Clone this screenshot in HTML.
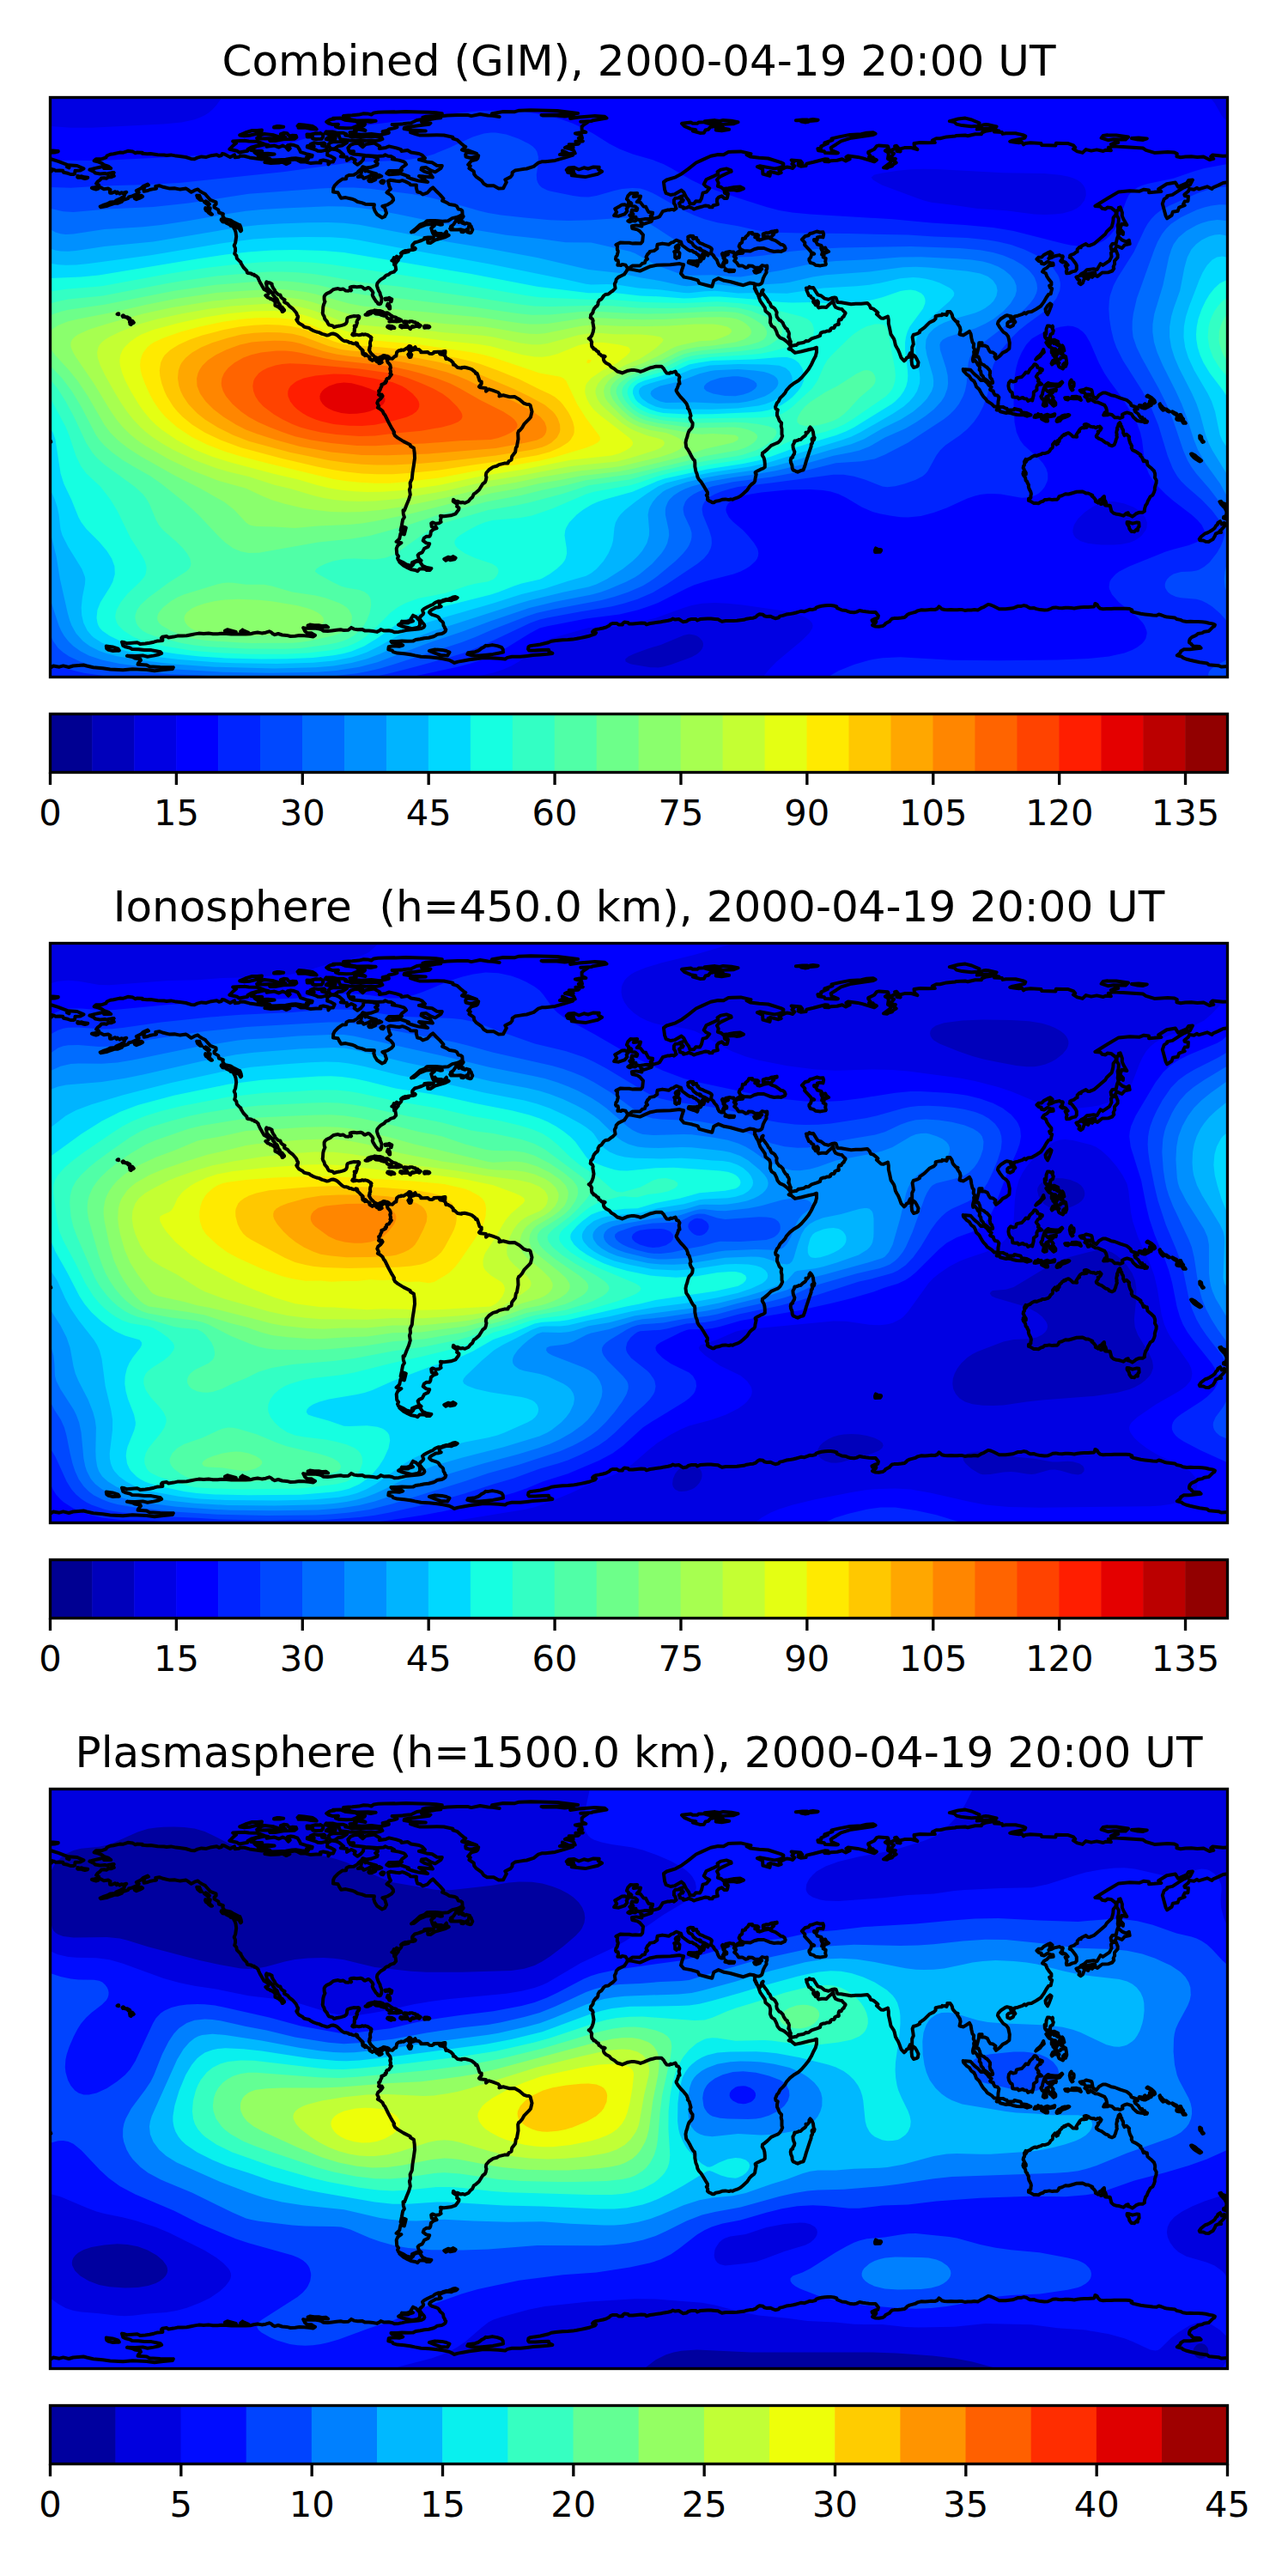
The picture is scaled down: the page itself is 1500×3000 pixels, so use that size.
<!DOCTYPE html>
<html lang="en"><head><meta charset="utf-8"><title>GIM maps</title>
<style>
html,body{margin:0;padding:0;background:#fff}
body{width:1500px;height:3000px;overflow:hidden}
svg{display:block}
text{font-family:"DejaVu Sans","Liberation Sans",sans-serif;fill:#000}
.tt{font-size:50px;text-anchor:middle}
.tk{font-size:41.67px;text-anchor:middle}
.cl{fill:none;stroke:#000;stroke-width:4;stroke-linejoin:round;stroke-linecap:round}
</style></head><body>
<svg width="1500" height="3000" viewBox="0 0 1500 3000">
<defs><path id="coast" d="M672.4 199.4l14.3 2.7 12.3-5.4 7.7-1.5 15.5-0.4 10.8-1.2 4.6 1.2-1.9 5.8-1.2 4.6 3.5 3.9 8.1 1.5 8.1 2.3 1.6 3.5 8.9 2.3 6.1 1.5 2-6.9 5.4-2.7 6.6 2.7 6.9 1.2 9.7 2.7 5.8 1.5 7.7-2.7 5 0.8 0.8 5 3.8 8.5 2.3 6.5 5.5 8.1 0.7 3.9 4.7 3.8 1.1 3.9-0.4 5.4 1.6 3.9 3.5 2.3 2.3 4.6 1.1 3.5 2.7 3.4 4.7 2 4.2 3.4 3.1 3.5 0.8 3.1-2.3 1.2 3.1 1.1 4.2 3.5 7.7-1.6 8.9-2.3 5.4-1.1 3.1-1.2 0 5.4-1.2 4.6-2.7 5.1-2.3 5-3.5 5.8-3.4 4.2-4.3 5-3.8 3.5-5.8 3.5-3.9 3-4.2 4.7-1.6 3.1-2.7 3-3.1 3.1-1.9 3.9-1.6 1.5-1.9 4.7 0.4 2.3 2.3 1.1-0.8 3.5 0 3.1 1.2 2.3 1.5 3.9 2.4 2.7-0.4 3.8 0.8 3.1 0 6.2 0.7 1.9-1.1 2.7-1.6 2.7-2.3 2.3-3.9 1.6-4.2 1.9-4.3 4.2-4.2 3.5-1.5 0.8-0.4 2.7 1.9 3.1 0.8 3 0.4 3.9 0 3.9-2 1.5-3.1 1.2-4.6 2.3-1.5 1.1 0.3 1.6 0.8 0.4-0.4 1.9-0.7 3.1-0.4 3.1-1.2 1.9-2.7 1.9-2.3 2.3-1.2 2-1.9 2.7-4.6 4.2-2.7 2.3-2.7 1.6-4.3 1.5-2.3 1.2-2.3-0.4-2 0.7-4.2-0.7-3.9 0.4-4.2 1.5-3.1 0.4-2.3 1.5-2 0-1.5-1.1-1.2-0.4-1.9-1.2-0.8-0.7 0.4-2.4-1.5-2.7 1.1-0.7 0-2.7-2.3-3.9-1.9-3.1-3.1-5-2.7-3.1-1.5-2.7-0.8-3.8-1.2-2.7-1.1-5.8 0-4.6-0.4-2.4-1.6-1.5-1.9-3.1-2.3-4.6-2.3-3.9-1.6-2.3-0.4-3.1-0.3-2.3 0.7-3.5 1.2-3.4 0.4-2 1.1-3.4 0.8-1.6 2.3-2.3 1.2-1.9 0.4-2.7 0-2.3-1.2-1.2-1.2-2.3-0.7-2.3 1.1-2.3-1.1-3.9-0.8-2.7-1.9-2.3 0.4-0.8-0.4-1.1-1.2-3.1-3.1-3.9-3.8-3.9-2.7-3.4-2.4-3.9 0-1.1 0.8-1.2 1.2-3.1 0.7-2.7 1.2-0.3-0.8-4.7 0.8-3.1-1.5-2.3-2-0.7-0.7-2-0.8-1.5-3.9 1.5-1.5-0.4-1.6 1.2-3.1-0.4-1.9-2.3-1.5-2.7-2.7-2.7-2.7 0-3.5 0-3.1 0.8-3.1 0.7-6.2 2.4-2.3 1.1-3.5 1.2-3.4-1.2-4.3-0.8-2.3 0-4.6 0.8-6.6 2.7-0.8-0.4-5-1.5-3.5-3.1-3.5-1.9-2.3-2.7-3.8-2-2-1.9-0.7-1.5-0.4-2.7 1.9-1.6-1.9-0.7-2 0-1.5-1.6-1.9-1.1-0.4-2-1.6-0.7-2.3-2.4-1.5 0-0.8-1.7-1.2-1-0.3-0.7-0.4-3.1 0.4-1.6-1.6-3-1.9-1.2 1.5-0.8 2-2.7 0.7-1.9 0.8-2.3 0.8-4.6-0.8-4.7-0.4-1.9 0.4-1.9-0.8-2-2.3-1.5 0.4-1.5 0.1-2 1.4-1.1 1.2-2 0-1.1 1.2-2.7 2.3-2.7 1.1-0.4 1.2-2.3 0-1.9 1.5-2.7 2.4-1.2 2.7-3.9 1.9-1.5 3.5-0.4 3.1-2.7 1.9-1.1 3.1-3.1-0.8-5 1.6-3.1 0.3-2.3 2.4-2.4 3.8-1.9 3.1-1.5 2.7-3.9 1.2-2.7M794.4 63.3l9.7-0.4 11.9 2.7-5 1.1 4.3 2.3 10.4 1.2 10.4 0.8 14.7 4.6 3.1 1.5 0 2.7-4.3 2-6.1 1.1-17.4-3.1-2.7 0.8 6.2 2.7 0.3 5.8 8.1 2.3 0.4-1.9-2.3-1.9 2.7-1.2 9.3 2.3 3.1-1.1-2.3-2.7 8.8-3.9 3.5 0.4 3.5 1.1 2.3-2.7-3.1-2.3 2-2.3-2.7-2.3 10.8 1.2 1.9 2.3-4.6 0.4 0 2.3 2.7 1.1 6.1-0.7 0.8-2.4 8.1-1.9 13.5-3.5 3.1 0.4-3.8 2.3 4.6 0.4 2.7-1.1 7.3-0.4 5.8-1.6 4.3 2.4 4.6-2.4-4.2-2.3 2.3-1.5 11.2 1.5 5.4 1.2 13.9 4.2 2.7-1.9-3.9-1.9-0.3-1.2-4.7-0.4 1.6-1.5-2.4-3.1 0-1.2 7-3.4 2.7-3.5 2.7-0.8 10.4 0.8 0.8 2.3-3.9 3.1 2.7 1.2 1.2 2.7-0.8 5.4 4.3 2.3-1.9 2.7-7.4 5.4 4.3 0.4 1.5-1.2 4.3-1.2 1.1-1.9 3.5-1.9-2.3-1.9 1.5-2.7-4.2-0.4-0.8-2 3.1-3.8-5-3.1 6.9-2.7-0.8-2.7 2-0.4 1.9 2.3-1.5 3.9 4.2 0.4-1.9-2.7 6.5-1.6 8.2 0 6.9 2-3.5-3.1-0.4-3.9 7-1.1 9.3 0.3 8.1-0.3-3.1-2.4 4.6-2.3 4.3 0 7.7-1.9 10-0.8 1.2-0.7 10.4-0.4 3.1 0.7 8.5-1.9 7.3 0 0.8-1.9 3.9-1.6 9.2-1.5 6.6 1.2-5.4 1.1 8.9 0.5 0.8 1.8 3.8-0.7 11.2 0 8.5 1.9 3.1 1.5-0.8 2-4.2 1.1-10.1 1.9-3 1.2 4.6 0.8 5.8 0.7 3.5-0.7 1.9 2.7 1.8-1.2 6.3-0.8 12.4 0.8 0.7 1.9 16.2 0.5 0.4-2.8 8.1 0.4 6.1 0 6.3 2.3 1.9 2.3-2.3 1.6 4.7 3.1 6.1 1.5 3.9-3.8 6.2 1.5 6.5-1.2 7.4 1.6 2.7-1.2 6.5 0.4-3-3.5 5.4-1.5 34.7 2.3 3.5 2.3 9.9 3.1 15.6-0.8 7.7 0.4 3.1 1.6-0.4 3.1 4.6 1.1 5.5-0.8 6.9-0.3 7 0.7 7.3-0.4 6.9 3.5 4.7-1.1-3.1-2.7 1.9-1.6 12 1.2 8.1-0.4 11.2 1.9 5.4 1.7 9.3 2.9 10.4 3.9-0.4 2.3 2.7 1.2-1.1-3.1 10.4 0.8 7.7 3.4-3.8 2-6.2 0.3-0.4 3.5-1.4 0.8-3.6 0-3.1-1.2-5-1.1-0.8-2-3.9-0.3-4.6 0.3-1.9-1.1-3.9-0.8 1.9 1.9-2.3 1.7-5 1.8-5-0.4 3.4 2 2.4 3 1.9 1.2 0.4 1.5-1.2 1.2-6.9-0.8-10.8 2.7-3.5 0.4-5.8 2.9-5.8 2.5-1.6 1.6-5.4-2.7-10 3-1.9-1.5-3.5 1.9-5.4-0.7-1.2 2.7-4.6 3.8 0.4 1.6 4.2 0.7-0.4 5.4-3.8 0.4-1.6 3.1 1.6 1.5-6.6 2.4-1.5 4.2-5.8 0.9-1.2 4.1-5.4 3.5-1.5-2.7-1.6-5.8-2.3-8.5 1.9-5.4 3.5-2.3 0-1.5 6.2-1.2 6.9-4.6 6.6-3.9 7-3.1 3-5.8-4.6 0.4-2.3 3.5-10 4.2-3.1-5-10.1 1.6-9.6 6.1 3.1 2.7-8.5 0.8-5.8 0.4 0-2.7-5.8-0.8-5 2-11.6-0.4-12.8 1.1-12.5 7.4-14.9 9.2 6.2 0.4 1.9 2.4 3.9 0.7 2.3-1.9 4.2 0.3 5.5 4.3 0.3 3.5-3.1 3.8-0.3 4.6-1.6 6.2-5.8 5.4-1.5 2.7-12.8 11.2-5.4 2.3-2.3 0-2.3-1.9-5.4 2.7-0.4 1.5-1.5-0.4-1.7 1.6-1 1.1 0 2.7-2 0.8-0.8 0.8-1.5 1.1-2.4 0.8-1.8 0.8 0 1.9-0.4 0.4 1.5 0.4 1.9 1.9 3.5 4.6 1.2 2.4 0 4.6-1.6 1.9-3.4 0.8-3.1 1.5-3.5 0.4-0.4-1.9 0.8-3.1-2-3.9 3.1-0.7-2.7-3.1-1.9-0.8-1.5 0.8-1.3-0.8-1.1-0.8 1.2-1.5 0.8-0.8-0.4-0.4 1.1-2.3-0.3-0.7-2.4-0.4-1.5-0.8-5.4 1.2-3.1 1.5-3.9 1.2 2-2-0.8-1.5 3.1-2.3-2.3-2-3.1 1.2-4.7 2.7-2.3 2.3-3.8 0.4-2 1.9 2.4 2.3 3 0.8 0 1.9 3.1 0.8 4.3-2.7 3.5 1.6 2.7 0 0.3 2.3-5.4 0.7-1.9 2.4-3.5 1.9-1.9 2.7 3.9 1.9 1.5 3.9 2.3 3.4 2.7 3.1 0 3.1-2.3 0.8 0.8 2.3 2.3 1.2-0.8 3-0.7 3.1-2.4 0.4-2.7 3.9-3.1 5.4-3.4 4.6-5.4 3.5-5.4 3.1-4.3 0.3-2.3 2-1.6-1.2-2.3 1.6-5.4 1.9-3.8 0.8-1.6 4.2-1.9 0-1.2-2.7 1.2-1.5-5.4-1.2-1.6 0.4-5.4 3.5-3.1 3.4-0.7 2.7 2.7 4.3 3.8 5 3.5 2.3 2.3 3.1 1.6 7.3-0.4 6.6-3.1 2.7-4.6 2.3-3.1 3.5-4.7 3.4-1.5-2.3 1.1-2.7-3-2.3-3.1-0.4-1.6-2.3-1.9-3.9-3.5-1.5-3.5 0 0.7-3.1-3.4 0-0.3 4.3-3.1 11.9 2.7 0 1.5 3.5 0.8 3.5 1.9 1.9 2.3 0.8 2 1.9 1.1 0.4 2.2 2.3 1.7 2.3 0 2.7-0.4 1.9 0.4 1.2 0.4 2.3 1.5 1.2 1.2 3.4 0 1.2-2.7 0.4-3.5-3-4.6-3.2-0.4-1.9-2.3-2.3-0.4-3.5-1.6-1.9 0.4-2.7-0.8-2-1.5-1.1-0.8-2-1.9-2.3-1.9-1.9-0.8 2.3-0.4-2.3 0.4-2.3 1.1-3.5-0.3-3.1 1.1-2.7-1.5-2.3 0.4-4.2-1.6-2-1.1-4.6-0.8-5-1.6-3.1-2.7 1.9-4.2 2.7-2.3-0.3-2.3-0.8 1.1-5-0.8-3.5-3.1-4.6 0.8-1.2-2.3-0.8-2.7-3-1.2-2-0.3-1.9-0.8-1.9-1.6-2.3-3.4 0 0.3 1.5-1.1 2.3-1.9-0.8-1.6 0.2-1.5-0.5-0.4 1.5-2.7 0-4.7 0.8 0 3.1-1.9 1.9-5.4 2.7-4.6 4.6-2.7 2.3-3.9 2.7 0 1.6-1.9 1.1-3.5 1.4-1.9 0.2-1.2 3.1 0.8 5 0.4 3.1-1.6 3.4 0 6.6-2.3 0.4-1.5 3.1 1.1 1.1-3.5 1.2-1.5 2.3-1.5 1.3-3.5-3.6-1.9-5.4-1.6-3.9-1.2-1.9-1.9-3.5-1.1-5-0.8-2.3-3.5-5.4-1.5-7.3-1.2-5.1 0-4.6-0.8-3.8-5.4 2.3-2.7-0.4-5-4.6 1.5-1.6-1.1-1.1-4.3-3.5-3-0.8-1.2-3.1-2.7-2.7-7.3 0.8-6.2 0-5.4 0.4-7.4-1.2-4.2-0.7-4.3-0.4-1.6-4.9-1.8-0.5-3.1 0.5-3.9 1.8-4.6-1.2-3.9-3.1-3.9-1.1-2.3-3.5-3.1-5-1.9 0.4-2.7-1.2-1.2 1.6-2.4-0.3 0.9 1.8-0.4 0.8 1.2 2.7 1.5 3.5 2 0.7 0.7 1.6 2.7 1.5 0 1.6-0.4 1.5 0.4 1.2 1.2 1.1 0.8 1.2 0.3 0.7-0.3-2.7 1.1-1.9 1.2-0.4 1.1 1.2 0 2.3-0.7 2.3 0.7 1.6 0.8 0.7 3.1-0.7 3.1 0 2.3 0.3 2.7-2.7 2.7-2.3 2.7-2.7 1.2 4.7 1.5 2.7 2.3 1.1 2.7 0.8 2.4 0.4 1.9 2.3 2.3 1.9 0 0.8-1.5 2.3-0.4 1.2-1.6 1.1-1.5 2.7-2-0.4-0.7 1.2-0.4 1.9 0.4 2.3-0.4 0.8-1.9 0-2.4 1.2-0.3 1.9-0.8 0.8-2.3 0-1.6 1.1 0 1.6-1.9 0.9-2.3-0.2-2.3 1.2-2 0-2.7 1.1-0.8 2 0 1.1-3.8 1.6-6.2 1.9-3.5 2.7-1.9 0.4-1.2-0.4-1.9 1.5-2.7 0.8-3.1 0.4-1.1 0-0.8 1.2-1.2 0.2-0.4 0.9-1.9 0-1.1 0.4-2.7 0-1.2-2.3 0.4-2.3-0.8-1.2-0.8-2.7-1.1-1.5 0.7-0.4-0.3-1.6 0.3-0.7 0-1.6-0.7-1.9-1.2-1.2 0-1.5-1.9-1.2-2.3-3.4-1.2-3.1-2.7-2.7-1.5-0.4-2.7-3.9-0.4-2.6 0.4-2.4-2.4-4.2-1.9-1.6-1.9-0.7-1.2-2.3 0-0.8-1.1-1.9-1.2-0.8-1.5-3.1-2.4-3.1-1.9-2.7-1.9 0 0.8-3.3 0.6-1.7-1.4 1.2-0.8 3-0.8 2-1.1 0.7-1.2-1.4-1.9-1.6-2.7-5.6 0.4-0.6M-595.9 63.3l9.7-0.4 11.9 2.7-5 1.1 4.3 2.3 10.4 1.2 10.4 0.8 14.7 4.6 3.1 1.5 0 2.7-4.3 2-6.2 1.1-17.3-3.1-2.7 0.8 6.1 2.7 0.4 5.8 8.1 2.3 0.4-1.9-2.3-1.9 2.7-1.2 9.3 2.3 3.1-1.1-2.3-2.7 8.8-3.9 3.5 0.4 3.5 1.1 2.3-2.7-3.1-2.3 1.9-2.3-2.7-2.3 10.9 1.2 1.9 2.3-4.6 0.4 0 2.3 2.7 1.1 6.1-0.7 0.8-2.4 8.1-1.9 13.5-3.5 3.1 0.4-3.8 2.3 4.6 0.4 2.7-1.1 7.3-0.4 5.8-1.6 4.3 2.4 4.6-2.4-4.2-2.3 2.3-1.5 11.2 1.5 5.4 1.2 13.9 4.2 2.7-1.9-3.9-1.9-0.4-1.2-4.6-0.4 1.6-1.5-2.4-3.1 0-1.2 7-3.4 2.7-3.5 2.7-0.8 10.4 0.8 0.8 2.3-3.9 3.1 2.7 1.2 1.2 2.7-0.8 5.4 4.3 2.3-2 2.7-7.3 5.4 4.3 0.4 1.5-1.2 4.2-1.2 1.2-1.9 3.5-1.9-2.3-1.9 1.5-2.7-4.2-0.4-0.8-2 3.1-3.8-5-3.1 6.9-2.7-0.8-2.7 2-0.4 1.9 2.3-1.5 3.9 4.2 0.4-1.9-2.7 6.5-1.6 8.1 0 7 2-3.5-3.1-0.4-3.9 7-1.1 9.3 0.3 8.1-0.3-3.1-2.4 4.6-2.3 4.3 0 7.7-1.9 10-0.8 1.2-0.7 10.4-0.4 3.1 0.7 8.5-1.9 7.3 0 0.8-1.9 3.9-1.6 9.2-1.5 6.6 1.2-5.4 1.1 8.9 0.5 0.7 1.8 3.9-0.7 11.2 0 8.5 1.9 3.1 1.5-0.8 2-4.2 1.1-10.1 1.9-3.1 1.2 4.7 0.8 5.8 0.7 3.4-0.7 2 2.7 1.8-1.2 6.3-0.8 12.3 0.8 0.8 1.9 16.2 0.5 0.4-2.8 8.1 0.4 6.1 0 6.3 2.3 1.9 2.3-2.3 1.6 4.6 3.1 6.2 1.5 3.9-3.8 6.2 1.5 6.5-1.2 7.4 1.6 2.7-1.2 6.5 0.4-3.1-3.5 5.5-1.5 34.7 2.3 3.5 2.3 9.9 3.1 15.6-0.8 7.7 0.4 3.1 1.6-0.4 3.1 4.6 1.1 5.4-0.8 7-0.3 6.9 0.7 7.4-0.4 6.9 3.5 4.7-1.1-3.1-2.7 1.9-1.6 12 1.2 8.1-0.4 11.2 1.9 5.4 1.7 9.3 2.9 10.4 3.9-0.4 2.3 2.7 1.2-1.1-3.1 10.4 0.8 7.7 3.4-3.9 2-6.1 0.3-0.4 3.5-1.4 0.8-3.6 0-3.1-1.2-5-1.1-0.8-2-3.9-0.3-4.6 0.3-2-1.1-3.8-0.8 1.9 1.9-2.3 1.7-5 1.8-5-0.4 3.4 2 2.4 3 1.9 1.2 0.4 1.5-1.2 1.2-6.9-0.8-10.9 2.7-3.4 0.4-5.8 2.9-5.8 2.5-1.6 1.6-5.4-2.7-10 3-1.9-1.5-3.5 1.9-5.4-0.7-1.2 2.7-4.6 3.8 0.4 1.6 4.2 0.7-0.4 5.4-3.8 0.4-1.6 3.1 1.6 1.5-6.6 2.4-1.5 4.2-5.8 0.9-1.2 4.1-5.4 3.5-1.5-2.7-1.6-5.8-2.3-8.5 1.9-5.4 3.5-2.3 0-1.5 6.2-1.2 6.9-4.6 6.6-3.9 6.9-3.1 3.1-5.8-4.6 0.4-2.3 3.5-10.1 4.2-3-5-10.1 1.6-9.6 6.1 3.1 2.7-8.5 0.8-5.8 0.4 0-2.7-5.8-0.8-5.1 2-11.5-0.4-12.8 1.1-12.5 7.4-14.9 9.2 6.2 0.4 1.9 2.4 3.9 0.7 2.3-1.9 4.2 0.3 5.4 4.3 0.4 3.5-3.1 3.8-0.3 4.6-1.6 6.2-5.8 5.4-1.5 2.7-12.8 11.2-5.4 2.3-2.3 0-2.3-1.9-5.4 2.7-0.4 1.5-1.6-0.4-1.6 1.6-1.1 1.1 0 2.7-1.9 0.8-0.8 0.8-1.5 1.1-2.4 0.8-1.9 0.8 0 1.9-0.3 0.4 1.5 0.4 1.9 1.9 3.5 4.6 1.2 2.4 0 4.6-1.6 1.9-3.5 0.8-3 1.5-3.5 0.4-0.4-1.9 0.8-3.1-2-3.9 3.1-0.7-2.7-3.1-1.9-0.8-1.5 0.8-1.3-0.8-1.1-0.8 1.2-1.5 0.8-0.8-0.4-0.4 1.1-2.3-0.3-0.7-2.4-0.4-1.5-0.8-5.4 1.2-3.1 1.5-3.9 1.2 2-2-0.8-1.5 3.1-2.3-2.3-2-3.1 1.2-4.7 2.7-2.3 2.3-3.8 0.4-2 1.9 2.3 2.3 3.1 0.8 0 1.9 3.1 0.8 4.3-2.7 3.4 1.6 2.8 0 0.3 2.3-5.4 0.7-1.9 2.4-3.5 1.9-1.9 2.7 3.9 1.9 1.5 3.9 2.3 3.4 2.7 3.1 0 3.1-2.3 0.8 0.8 2.3 2.3 1.2-0.8 3-0.8 3.1-2.3 0.4-2.7 3.9-3.1 5.4-3.4 4.6-5.4 3.5-5.5 3.1-4.2 0.3-2.3 2-1.6-1.2-2.3 1.6-5.4 1.9-3.8 0.8-1.6 4.2-1.9 0-1.2-2.7 1.2-1.5-5.4-1.2-1.6 0.4-5.4 3.5-3.1 3.4-0.7 2.7 2.7 4.3 3.8 5 3.5 2.3 2.3 3.1 1.6 7.3-0.4 6.6-3.1 2.7-4.7 2.3-3 3.5-4.7 3.4-1.5-2.3 1.1-2.7-3.1-2.3-3-0.4-1.6-2.3-1.9-3.9-3.5-1.5-3.5 0 0.7-3.1-3.4 0-0.4 4.3-3 11.9 2.7 0 1.5 3.5 0.8 3.5 1.9 1.9 2.3 0.8 2 1.9 1.1 0.4 2.2 2.3 1.7 2.3 0 2.7-0.4 1.9 0.4 1.2 0.4 2.3 1.5 1.2 1.2 3.4 0 1.2-2.7 0.4-3.5-3-4.7-3.2-0.3-1.9-2.4-2.3-0.3-3.5-1.6-1.9 0.4-2.7-0.8-2-1.5-1.1-0.8-2-2-2.3-1.9-1.9-0.7 2.3-0.4-2.3 0.4-2.3 1.1-3.5-0.4-3.1 1.2-2.7-1.5-2.3 0.3-4.2-1.5-2-1.2-4.6-0.7-5-1.6-3.1-2.7 1.9-4.2 2.7-2.3-0.3-2.4-0.8 1.2-5-0.8-3.5-3.1-4.6 0.8-1.2-2.3-0.8-2.7-3-1.2-2-0.4-1.9-0.7-1.9-1.6-2.3-3.4 0 0.3 1.5-1.1 2.3-1.9-0.8-1.6 0.2-1.5-0.5-0.4 1.5-2.7 0-4.7 0.8 0 3.1-1.9 1.9-5.4 2.7-4.6 4.6-2.7 2.3-3.9 2.7 0 1.6-1.9 1.1-3.5 1.4-1.9 0.2-1.2 3.1 0.8 5 0.4 3.1-1.6 3.4 0 6.6-2.3 0.4-1.5 3.1 1.1 1.1-3.5 1.2-1.5 2.3-1.6 1.3-3.4-3.6-2-5.4-1.5-3.9-1.2-1.9-1.9-3.5-1.2-5-0.7-2.3-3.5-5.4-1.5-7.3-1.2-5.1 0-4.6-0.8-3.8-5.4 2.3-2.7-0.4-5-4.6 1.5-1.6-1.1-1.1-4.3-3.5-3.1-0.8-1.1-3.1-2.7-2.7-7.4 0.8-6.1 0-5.4 0.4-7.4-1.2-4.2-0.7-4.3-0.4-1.6-4.9-1.9-0.5-3 0.5-3.9 1.8-4.6-1.2-3.9-3.1-3.9-1.1-2.3-3.5-3.1-5-1.9 0.4-2.7-1.2-1.2 1.6-2.4-0.3 0.9 1.8-0.4 0.8 1.2 2.7 1.5 3.5 1.9 0.7 0.8 1.6 2.7 1.5 0 1.6-0.4 1.5 0.4 1.2 1.2 1.1 0.7 1.2 0.4 0.7-0.4-2.7 1.2-1.9 1.2-0.4 1.1 1.2 0 2.3-0.7 2.3 0.7 1.6 0.8 0.7 3.1-0.7 3.1 0 2.3 0.3 2.7-2.7 2.7-2.3 2.7-2.7 1.2 4.7 1.5 2.7 2.3 1.1 2.7 0.8 2.3 0.4 2 2.3 2.3 1.9 0 0.8-1.6 2.3-0.3 1.2-1.6 1.1-1.5 2.7-2-0.4-0.7 1.2-0.4 1.9 0.4 2.3-0.4 0.8-2 0-2.3 1.2-0.4 1.9-0.7 0.8-2.3 0-1.6 1.1 0 1.6-1.9 0.9-2.3-0.2-2.4 1.2-1.9 0-2.7 1.1-0.8 2 0 1.1-3.8 1.6-6.2 1.9-3.5 2.7-1.9 0.4-1.2-0.4-1.9 1.5-2.7 0.8-3.1 0.4-1.1 0-0.8 1.2-1.2 0.2-0.4 0.9-1.9 0-1.2 0.4-2.7 0-1.1-2.3 0.4-2.3-0.8-1.2-0.8-2.7-1.1-1.5 0.7-0.4-0.3-1.6 0.3-0.7 0-1.6-0.7-1.9-1.2-1.2 0-1.5-1.9-1.2-2.3-3.4-1.2-3.1-2.7-2.7-1.5-0.4-2.8-3.9-0.3-2.6 0.3-2.4-2.3-4.2-1.9-1.6-1.9-0.7-1.2-2.3 0-0.8-1.1-1.9-1.2-0.8-1.6-3.1-2.3-3.1-1.9-2.7-1.9 0 0.7-3.3 0.7-1.7-1.4 1.2-0.8 3-0.8 2-1.1 0.7-1.2-1.4-1.9-1.6-2.7-5.6 0.4-0.6M819.9 216.8l2.7 1.1 3.1 0.1 1.9-0.8 1.2-1.2 0.8-2.3 0.6-2.7 0.5-1.2 1.6-3.1 1.8-2.7-0.3-3 1-1.6 0-3.3-2.4 0.3-3.2-0.8-2.7 2.3-5.8 0.4-3.1-2-4.3-0.4-0.7 1.6-2.7 0.8-3.9-2.4-4.3 0-2.3-3.6-2.7-2.1 2-3.1-2.4-2 4.3-3.4 5.8-0.4 1.5-2.7 7.4 0.4 4.6-2.3 4.6-1.2 6.6 0 6.6 2.7 5.4 1.3 4.6-0.5 3.5 0.4 4.4-2 0.6-1.7-1-2.5-2.1-1.6-2.3-0.3-1.3-1.2-4.9-3.5-4.6-1.5-3.1-1.9 2.7-0.8 3.1-3.1-1.9-1.5 5.4-1.6 0-1.1-3.5 0.7-3.1 0.4-2.3 1.2-3.9 0.4-3.2 1.1 0.1 2.5 2 1 3.8-0.4-0.8 1.5-4.2 0.8-5 1.9-2.3-0.7 0.7-1.6-3.8-1.1 0.4-0.8 3.8-1.3-1.1-1-6.2-0.8 0-1.5-3.9 0.4-1.1 2.3-3.1 2.7 0 1.1-2 0.8-1.1-0.4-0.8 4.6-2.3 1.6-1.2 2.7 1.2 2.3 0.4 1.5 3.4 1.2-0.7 1-4.7 0.2-1.5 1.1-3.1 2.1-1.4-1.7 0.1-0.8-2.6-0.2-1.9-0.4-4.6 1 2.7 2.3-1.9 0.6-2.4 0-1.9-2.1-0.8 0.8 0.8 2.3 2.1 1.9-1.4 0.9 2 1.8 1.9 1.2 0 1.9-3.4-0.8 1.1 1.9-2.3 0.4 1.4 3.5-2.6 0-3-1.5-1.6-3.1-0.8-2.7-1.5-2-1.9-1.9-0.2-1.1-0.7-0.4-0.1-0.8-2.1-1.4-0.4-1.7 0.4-2.7 0.4-1.1-0.4-0.8-2-1.6-1.7-0.7-3.7-1.4-2.3-1.3-3.5-1.2-3-2.7 0.7-0.4-1.9-1.5 0-1.6-2.3-0.3-1.4 1.5-0.9-1.2 0-1.5 0.7-0.4-3.1-0.4-3 1.2 0.3 1.9-0.3 1.2 1.1 1.9 3.5 1.9 1.9 3.1 4.3 3.3 3.1 0 1.1 1-1.1 0.7 3.4 1.2 2.7 1.1 3.5 2 0.4 0.7-0.8 1.6-2.3-1.9-3.1-0.4-1.9 2.3 3.1 1.5-0.6 2-1.7 0.3-2 3.2-1.5 0.3 0-1.1 0.8-2.2 0.7-0.8-1.5-2.1-1.2-2.1-1.5-0.6-1.2-1.5-2.4-0.8-1.8-1.5-2.7-0.2-3.1-1.7-3.5-2.7-2.7-2-1.2-3.8-1.9-0.6-3.1-1.4-1.9 0.8-2.1 1.6-1.8 0.3-3.4 2.4-7.4-1.2-5.8 1.2-0.4 2.3 0.2 2.3-3.7 2.7-5 0.8-0.3 1.1-2.4 2.3-1.5 3.1 1.5 2.3-2.3 1.6-0.7 2.7-2.8 0.7-2.7 2.7-5 0-3.8 0-2.3 1.6-1.6 1.5-1.9-0.4-1.2-1.5-1.1-1.9-3.9-0.8-1.6 1.2-1.9-0.7-1.9 0.3 0.8-3.1-0.4-2.3-2-0.4-0.7-1.2 0.4-2.7 1.3-1.5 0.3-1.6 0.7-2.3 0-1.5-0.8-1.2-0.1-1.5 0.2-2.7-1.6-1.6 5.4-2.7 4.8 0.4 5.2 0 4.1 0.8 3.2-0.4 6.2 0.4 1.9-2.4 0.8-7.6-3.8-4.3-3-1.9-5.9-1.4-0.4-2.8 5-0.8 6.6 1.1-1.2-4.6 3.5 1.9 8.9-3 1.1-3.1 3.5-0.8 3.1-0.8 1.9-1.1 3.5-5.8 5.3-1.6 3.2 0 0.8-0.7 3.1 0 0.7 0.7 2.7-1.9-0.8-1.5-0.3-2.2-1.6-2.1 0-3.8 0.7-1.2 0.9-1.1 3.5-0.4 1.5-0.8 3.1-1.2-0.4 2-1 1.1 0.6 1.2 2 0.4-0.8 1.5-1.2-0.4-2.9 2.7 1 2 0 1.5 4 0.8 0 1.5 3.9-0.8 2.1-1.1 4.3 1.5 1.9 1.3 2.7-1.1 6.2-1.7 4.6-1.4 3.9 0.6 0.4 1.2 3.8 0 0.8-2 5.4-1.1-0.9-3.2 0.1-3 2-2.3 3.4-1.3 3.1 2.8 3.1-0.1 0.8-2.9 0.4-2.4-1.3 0.4-2.6-1.1-0.4-2.3 5.1-1.2 5-0.4 4 0.8 4-0.4 4.3-1.9-3.9-2-6.9 0.4-6.9 1.3-6.2 0.8-2.3-2.1-3.9-1.1 0.8-3.9-1.7-3.5 1.7-2.3 3.5-2.3 8.8-4.2 2.7-0.8-0.3-1.5-5.4-2-6.6 1.2-3.9 2.6 0.8 2.4-6.2 3.1-7.5 3.3-2.9 5.6 2.7 2.7 3.9 1.9-3.5 4.4-4.3 1-1.5 6.4-1.9 3.6-4.7-0.4-2.3 3.1-4.6 0-1.2-3.5-3.1-4.2-2.9-5.6-2.6-2.4-7.7 4.5-5.1 0.9-5.3-2-1.5-4.1-1.2-8.9 3.5-2.5 10.3-3.2 7.5-4.1 7.2-5.4 9.3-7.3 6.3-2.9 10.7-4.8 8.6-1.8 6.3 0.2 5.7-3.2 4.6-0.2M683.6 111.5l-4.2 4 3.9-0.6 4.3 0-0.9 3.1-3.5 3.6 3.9 0.3 3.8 5 2.7 0.4 2.3 4.6 1.1 1.6 4.6 0.7-0.4 2.3-2 1.2 1.6 1.9-3.5 2-5.2 0-6.6 1.1-1.8-0.8-2.4 2-3.5-0.4-2.9 1.3-2.1-0.9 5.7-3.9 3.5-0.8-6.1-0.7-1.1-1.5 4.1-1.2-2.2-2 0.8-2.7 5.7 0.4 0.6-2.2-2.5-2.4-4.8-0.8-1-1 1.4-1.7-1.2-1.1-2.1 1.9-0.2-3.9-2-1.9 1.4-3.8 3-3.1 3.1 0.2 4.7-0.2M671.2 129.7l0.7 2.8-3 3.4-6.8 2.3-5.5-0.6 3.1-4-2-3.9 5.3-3 2.9-1.8 3.3-0.2 4.1 2.4-2.1 2.6M639.2 81.2l-1 2.5 4.4 2.6-5 3-11.2 2.6-3.3 0.7-5.1-0.6-10.7-1.2 3.7-1.7-8.4-1.9 6.9-0.7-0.2-1.2-8.1-0.8 2.6-2.6 5.9-0.5 6 2.6 5.8-2.2 4.9 1.2 6.3-2.1 6.5 0.3M753.6 30.2l1.5-1.3 5.7-0.2 4.8 1.4 12.7 2.8-9.7 1.6-2.1 2.8-3.4 0.7-1.8 3.2-4.7 0.2-8.3-2.4 3.5-1.4-5.8-1-7.5-3.3-3-3 10.5-1.4 2.1 1.3 5.5 0M801 28.7l-5.7 2.1-11.2 0.4-11.4-0.6-0.7-1.1-5.6 0-4.2-1.8 12-1.1 5.6 0.9 3.9-1.1 9.7 0.9 7.6 1.4M790.6 37.2l-8.6 1.6-6.8-0.9 2.7-1-2.4-1.2 8-0.8 1.6 1.4 5.5 0.9M893.9 59.7l3.9-0.8-0.1-2.1 7.7-3.3-3.6-0.5 9.2-3.4-1-1.7 8.6-2 12.8-2.5 12.9-0.7 6.6-1.5 7.5-0.5 2.7 1.6-2.6 1.2-13.7 1.9-11.8 1.8-12 3.7-5.8 3.8-6 3.7 0.8 3.2 7.4 3.1-2.3 0.4-12.6-0.5-1.1-1.8-7-1-0.5-2.1M1081.1 33.2l-8.4 0.5-10.8-1.1-6.4-1.5-2.9-2.7-5.3-0.8 10-2.6 8.4-0.9 7.5 1.9 8.9 3.8-1 3.4M1092.3 31.7l9.8 2.2-1.1 1.5-21.8 1.6 7-5.1 3.2-0.5 2.9 0.3M1231.3 43.8l10.2 0.2 14 2.1-3.1 2.8-14.2-0.1-6.4 0.9-7.7-2.5 2.1-2.7 5.1-0.7M1259.5 47.6l8.1-0.7 9.7 1-4.5 1.5-6.2-0.3-7.1-1.5M1243.8 52.6l-7.8 2.1-0.7-0.2 3.7-1.5 4.8-0.4M0 61.7l9.3 0.9-0.3 0.5-3.9 1-5.1 0.2-4.2 0.2-0.7-1.2 4.9-1.6M868.4 26.7l7.5-0.7 5.9-0.1 0.7 1.1 2.3-1 3.6-0.6 5.7 0.8-1.4 0.6-5.3 0.5-3.4 0.3-0.6 0.6-4.5 0.7-4.2-0.9 2.2-1.2-8.5-0.1M1249.9 141.8l3.9 6.8-5.7-1.3-2.4 5.6 3.8 3.9-0.1 2.7-2.9-2.3-2.6 3-0.7-3.3 0.4-3.7-0.4-4.2 0.9-2.9 0.2-5.1-2.3-3.8 0.3-5.3 3.6-1.8-1.5-1.8 1.7-0.5 1 2.6 1.3 3.7-0.1 3.8 1.6 3.9M1239.6 194.2l-1.5 3.1 0.7 2-2 2.7-4.9 1.8-6.8 0.2-5.5 4.4-2.6-1.5-0.2-2.9-6.7 0.9-4.5 1.8-4.6 0.1 3.9 2.8-2.6 6.6-2.4 1.6-1.9-1.5 0.9-3.5-2.4-1.1-1.6-2.6 3.7-1.2 2-2.4 3.9-2 2.8-2.7 7.7-1.1 4.1 0.8 4.1-6.9 2.6 1.8 5.6-3.8 2.2-1.5 2.4-4.7-0.6-4.3 1.6-2.5 4.1-0.7 2.1 5.4-0.1 3.1-3.6 3.9 0.1 3.9M1250.9 167.1l2.7 0.8 2.8-1.6 0.8 4.3-5.7 1.1-3.4 3.8-6.1-2.6-2 4.2-4.3 0.1-0.6-3.9 1.9-2.9 4.2-0.3 1.1-5.3 1.1-3 4.6 4 2.9 1.3M1215.1 205.8l0.5 1.3-2.2 2.3-1.6-1.2-1.9 0.9-1.1 2.3-2.5-1.1 0.1-1.9 2.1-2.3 2.2 0.5 1.6-1.6 2.8 0.8M1165.5 243.4l-2.4 6.2-1.6 3.2-2.1-3.3-0.4-2.9 2.3-3.8 3.1-2.9 1.7 1.2-0.6 2.3M1121.3 265.4l-3.3 1.9-3.2-1.2-0.1-3.3 1.9-1.7 4.2-1.1 2.2 0 0.9 1.5-1.7 1.7-0.9 2.2M1011 308.5l-0.6 4-1.6 1.1-3.3 0.9-1.9-3.1-0.6-5.5 1.7-6.3 2.7 2.1 1.7 2.8 1.9 4M819.7 202.1l2.7-1.1 2.8 0.1 3.5-1.2-2.6 1.6 0.4 1.1-4 1.6-1.9-0.5-0.9-1.6M786.7 199.8l2.1 1.3 3-0.2 2.9 0.3 2 0.1-0.5 1.2-5.6 0.3 0.1-0.6-4.8-0.8 0.8-1.6M755.1 190l-1.4 3.1 0.6 1.2-0.8 2-3-1.5-1.9-0.4-5.4-2 0.5-2 4.5 0.4 4-0.4 2.9-0.4M730.7 178.5l2.3 2.8-0.5 5.1-1.8-0.3-1.5 1.3-1.5-1-0.1-4.7-0.9-2.2 2.1 0.2 1.9-1.2M732.1 174.9l-1.3 3-1.7-0.8-1-2.6 0.8-1.4 2.5-1.5 0.7 3.3M875.4 165.4l3.9-3.9 3.7-0.7 1.8-2.3 3.6-0.8 4.4-1.7 3.3 1 3.9-0.2 0.7 2.4-0.7 3.7-3.4-0.6-3.2 0.7-0.2 2.8-3.7-0.4 0.1 1.3 2.1 1 1.7 3.4 4.5 1.4 0.7 1.3-0.9 1.6 0.2 0.9 1.2 2.5 0.4-2.8 3.1-1 1.1 2.2 2.9 2.3-3.4 1.3-3.7-1-0.9 3.3 2.6 0.2-1 2.7 3 1.3-0.5 4 0.7 2.7-0.4 0.9-6 1-5.5-0.6-2.7-1.9-3.6-0.9-1.3-2.8 0-1.9 1.3-0.9 0.7-1.4 0.7-3 3.2-0.3-1.2-1-1.8-0.2-2-2.7-2-2.1-4.2-4.5 0.3-2.6-3.5-3.7M886.5 385.6l1 1.7 1 2.5 0.6 4.6 1 1.8-0.4 1.9-0.7 1.1-1.3-2.3-0.7 1.2 0.7 2.9-0.3 1.6-1.1 0.9-0.2 3.2-1.6 4.5-1.8 5.4-2.4 7.3-1.5 5.3-1.7 4.5-3.2 0.9-3.4 1.6-2.2-0.9-3.1-1.4-1-2.1-0.3-3.4-1.3-3-0.4-2.8 0.7-2.8 1.8-0.7 0-1.3 1.8-2.9 0.4-2.4-0.9-1.9-0.8-2.4-0.3-3.5 1.4-2.2 0.5-2.4 1.9-0.2 2.2-0.8 1.4-0.7 1.7 0 2.2-2.2 3.2-2.4 1.2-2-0.6-1.6 1.6 0.5 2.2-2.7 0.1-2.3 1.2-1.8 1.4 1.7M961.4 525.1l2.5 1.2 3.6 0.5 0.2 0.7-1.1 1.7-5.9 0.3-0.2-2.1 0.6-1.6 0.3-0.7M1163.7 266.1l2.4 1.1 1.2-1 0.3 1-0.6 1.6 1.3 2.8-1 3.2-2.3 1.3-0.6 3.1 0.9 3 2 0.5 1.7-0.5 4.8 2.1-0.3 2.1 1.2 1-0.4 1.7-3-1.9-1.4-2-1 1.4-2.5-2.3-3.4 0.6-2-0.9 0.2-1.5 1.2-1-1.1-0.9-0.5 1.4-1.9-2.2-0.6-1.7-0.2-3.7 1.6 1.3 0.4-6.1 1.3-3.5 2.3 0M1183.2 305.1l0.4 2.5 0.2 2.2-1.3 3.5-1.4-3.9-1.8 1.9 1.2 2.9-1.1 1.8-4.5-2.3-1.1-2.8 1.2-1.8-2.5-1.8-1.2 1.6-1.8-0.2-2.8 2.2-0.7-1.1 1.5-3.3 2.4-1.1 2.2-1.4 1.3 1.7 3-1 0.6-1.8 2.7-0.1-0.2-2.9 3.1 1.8 0.4 1.9 0.2 1.5M1156.7 293.6l0.7 3.2-2.6 2.1-2 2.7-5.1 3.6 1.9-2.7 2.8-2.3 2.3-2.7 2-3.9M1170.6 292.8l0 1.6-1.8 1.7-2.5 1.1-0.1-1.8 0.3-1.9-0.6-1.9 2.3 1.2 2.4 0M1170.2 302.7l-2.4-2.7 0.8-1 1-1.1 0.4-2.4 2.1-0.2-0.6 2.6 2.8-3.7-0.3 3.6-1.4 1.3-1.2 2.5-1.2 1.1M1178.8 289.1l1 1.5 1.1 4.3-3-1 0.1 1.2 1 2.4-1.9 0.9-0.1-2.7-1.2-0.2-0.6-2.4 2.3 0.4-0.1-1.5-2.3-2.9 3.7 0M1164.5 287.1l-1 3.3-1.7-1.9-2-3 3.3 0.2 1.4 1.4M1063.2 316.4l8.4 0.8 3.5 3.8 2.9 2.7 2.2 1.6 3.6 4.1 4 0.1 3.2 2.6 2.2 3.2 3 1.8-1.6 3.1 2.2 1.4 1.4 0.1 0.7 2.7 1.3 2.1 2.9 0.4 1.8 2.4-0.9 4.8-0.2 6-4.3 0-3.2-3.2-5-3.1-1.6-2.4-2.9-3.1-2-2.9-2.9-5.4-3.4-3.2-1.1-3.3-1.5-3-3.4-2.4-2-3.4-3-2.1-4-4.3-0.3-1.9M1114.6 363.7l7.5 0.3 0.8-1.5 7.2 1.8 1.4 2.5 5.8 0.7 4.7 2.3-4.4 1.4-4.3-1.5-3.4 0.1-4.1-0.3-3.5-0.7-4.5-1.4-2.9-0.4-1.6 0.5-7-1.7-0.7-1.6-3.5-0.3 2.6-3.6 4.7 0.1 3.1 1.6 1.6 0.3 0.5 1.4M1144 313.8l2-3 1.5 0 2 1.9 0.2 1.7 2.5 1.1 3.2 1.1-0.2 1.5-2.6 0.2 0.7 1.9-2.9 1.3-2.2 3.5 2.9 3.7-0.7 1.7 4.3 3.6-4.6 0.5-1.2 2.6 0.1 3.5-3.7 2.6-0.1 3.9-1.5 5.9-0.6-1.4-4.4 1.8-1.5-2.4-2.7-0.2-1.9-1.3-4.6 1.4-1.5-1.9-2.5 0.3-3.2-0.5-0.6-5.2-1.9-1-1.8-3.3-0.6-3.4 0.5-3.6 2.3-2.6 2.8 1.4 3-0.7 0.8-3.3 1.6-0.7 4.6-0.9 2.8-3 1.9-2.5 2.6 0.7 2.2-4.2 3-2.7M1178.8 332l-3.1 3.8-2.9 0.8-3.7-0.8-6.4 0.2-3.4 0.6-0.6 2.9 3.5 3.4 2.1-1.7 7.2-1.3-0.3 1.8-1.7-0.6-1.7 2.3-3.4 1.4 3.7 5-0.7 1.3 3.4 4.5 0 2.5-2.1 1.1-1.5-1.3 1.9-3.2-3.8 1.5-1-1.1 0.5-1.4-2.7-2.3 0.2-3.8-2.5 1.2 0.3 4.5 0.2 5.5-2.5 0.6-1.6-1.1 1-3.6-0.5-3.7-1.7 0-1.2-2.7 1.6-2.5 0.6-3.1 1.9-5.8 0.8-1.6 3.3-2.9 3 1.2 4.9 0.5 4.4-0.1 3.9-2.8 0.6 0.8M1213.2 341.9l1.1 6.3 4 2.3 3.2-4.1 4.4-2.3 3.5 0 3.3 1.3 2.9 1.4 4.1 0.7 6.7 2.7 7.1 2.2 2.7 2 2.1 1.9 0.6 2.3 6.5 2.4 0.9 2-3.6 0.4 0.9 2.6 3.4 2.5 2.5 4.1 2.3-0.1-0.2 1.7 3 0.6-1.2 0.8 4.1 1.6-0.4 1.1-2.5 0.3-1-1-3.3-0.4-3.9-0.6-3-2.5-2.2-2.1-2-3.4-5.1-1.7-3.2 1.1-2.4 1.3 0.5 2.8-3 1.4-2.2-0.7-4-0.1-3.4-3.2-3.9-0.8-1 1.1-4.9 0.1 1.7-3.1 2.4-1.1-1-4.2-1.9-3.2-7.5-3.2-3.2-0.4-5.8-3.5-1.1 1.8-1.5 0.4-0.8-1.4-0.1-1.7-2.9-1.9 4.2-1.4 2.7 0.1-0.3-1.1-5.7 0-1.5-2.3-3.5-0.7-1.6-1.9 5.2-0.9 2-1.3 6.2 1.6 0.6 1.4M1177.8 371.8l0.4-0.9 3.4-0.9 2.6-0.1 1.3-0.5 1.4 0.5-1.4 1-4 1.7-3.3 1.1-2.5 2.9-3.3 0.9-0.4-0.5 0.3-1.3 1.7-2.4 3.8-1.5M1150.5 368.7l1.4 1 2.4-0.3 0.9 1.7-4.4 0.8-2.7 0.5-2.1-0.1 1.3-2.2 2.1 0 1.1-1.4M1169.8 368.7l-0.5 2.2-5.9 1-5.1-0.4 0-1.4 3.1-0.8 2.4 1.1 2.6-0.3 3.4-1.4M1154.6 374.4l3.6-0.8 2.1 1.2 1.3 1.2-0.2 1-1.6 0.1-5.2-2.7M1189.2 329.1l0.3 2.1 2.3 0.4 0.4 1.5-0.2 3.4-2-0.4-0.6 2.4 1.6 2-1.1 0.5-1.6-2.5-1.1-4.9 0.7-3.1 1.3-1.4M1199 349.4l1.4 3-3.2-1.6-3.2-0.3-2.2 0.2-2.7-0.1 0.9-2.1 4.8-0.2 4.2 1.1M1186.6 350.8l-1.5 1.3-2.6-0.7-0.8-1.6 3.9-0.2 1 1.2M1282.1 358.6l-2 0.3-0.6 1.1-2.2 1-1.9 0.9-2.1 0-3.1-1.1-2.2-1.1 0.3-1.2 3.4 0.5 2.2-0.2 0.6-1.9 0.5-0.1 0.4 2 2.2-0.2 1.1-1.4 2.1-1.3-0.4-2.3 2.3-0.1 0.8 0.6-0.1 2.2-1.3 2.3M1286.6 354.9l-1.2 1-0.8-2.3-0.8-1.5-1.8-1.3-2.2-1.6-2.8-1.1 1.1-1 2.1 1.1 1.3 0.9 1.6 0.9 1.5 1.6 1.5 1.3 0.5 2M1292.4 356.9l0.4 1.2 1.2 0.9 1.9 2.4 1.8 1.3-0.5 1.1-1.1 0.4-1.7-1.5-1.7-2.4-0.8-3 0.5-0.4M1321.3 377.9l1 1.4-2.7-0.1-1.4-2.4 2.3 1 0.8 0.1M1319.6 374.5l-0.6 0.7-2.9-3.3-0.8-2.3 1.3 0 1.4 3.1 1.6 1.8M1316.4 375.6l-1.6 0.1-2.3-0.4-0.8-0.6 0.2-1.6 2.6 0.7 1.2 0.8 0.7 1M1311.7 368.4l0.9 1.3 0.2 0.7-3.1-1.6-2.1-1.4-1.4-1.3 0.5-0.4 1.8 1 3.2 1.7M1302 364.6l1.6 1.2-0.8 0.2-1.7-0.8-1.6-1.6 0.2-0.6 2.3 1.6M1343.3 401l-1.2 0.5-1.3-1.7 0.2-1 2.3 2.2M1340.5 395.1l0.6 3.1-1-0.5-0.8 0.2-0.5-1-0.1-3 1.8 1.2M1335.4 418.8l3.2 2.4 2 1.8-1.5 0.9-2.1-1-2.8-1.8-2.5-2-2.5-2.8-0.6-1.2 1.7 0 2.2 1.3 1.7 1.3 1.2 1.1M-2.5 402.3l-2.4 0.8-0.5-1.4 1.9-0.8 1.2-0.2 2.3-1.2 0.8 1.6-3.3 1.2M1249.6 390.6l1.4 3 2.4-1.4 3.2 3.1-0.4 1.7 0.8 3.3 0.6 1.9 2 3.8-0.4 2 1.3 2.6 4.2 2 2.7 1.9 2.6 1.6-0.5 1 2.2 2.4 1.5 4.2 1.6-0.9 1.5 1.7 1-0.6 0.6 4.1 2.8 2.4 1.7 1.4 3.1 3.2 1.1 3.1 0.1 2.2-0.3 2.3 1.8 3.3-0.2 3.4-0.7 1.8-1 3.5 0.1 2.2-0.8 2.7-1.7 3.6-2.8 1.8-1.5 3-1.2 1.9-1.2 3.4-1.5 1.9-0.9 2.9-0.5 2.6 0.1 1.3-2.2 1.3-4.3 0.1-3.6 1.6-1.7 1.5-2.4 1.7-3.2-1.8-2.3-0.6 0.6-2-2.1 0.7-3.4 2.8-3.3-1-2.2-0.7-2.3-0.2-3.7-1.2-2.5-2.3-0.7-3-0.9-3.5-1.9 0-3.7-0.4 1.2-1.9-0.9-2.9-1.9 2.7-3.4 0.7 2-2.1 0.6-2.3 1.5-1.8-0.3-2.9-3.2 3.3-2.4 1.3-1.5 3.1-3-1.6 0.1-2-2.4-2.9-2-1.4 0.7-0.9-4.9-2.3-2.7-0.1-3.8-1.9-6.9 0.3-5 1.4-4.4 1.3-3.7-0.2-4.1 1.9-3.3 0.9-0.7 2-1.5 1.6-3.3 0.1-2.4 0.3-3.4-0.7-2.8 0.5-2.6 0.2-2.3 2-1.1-0.2-2 1.1-1.9 1.2-2.7-0.1-2.6 0-4.2-2.5-2-0.7 0.1-2.2 1.9-0.5 0.6-0.9-0.1-1.4 0.5-2.7-0.5-2.3-2-3.9-0.6-2.2 0.1-2.2-1.5-2.5-0.1-1.1-1.7-1.5-0.5-3.1-2.2-3-0.5-1.7 1.7 1.7-1.3-3.6 1.9 1.1 1.1 1.5 0-1.9-2-3.1-0.3-1.2-0.9-1.2 0.4-2.2 0.8-0.9 0.5-2-0.4-2.2 1.6-2.8 0.3 3 1.6-2.7 3.2-1.3 1.9-1.6 2.9-1.5 1.8-0.3 1 0.5 3.1-1.4 2.3-0.5 0.6-0.8 1-0.3 2.2 0.1 4-1.2 2.1-1.7 1-2 2.2-2 0.2-1.5 0.1-2.2 2.7-3.2 1.6 3.3 1.7-0.8-1.4-1.8 1.2-1.9 1.7 0.9 0.5-2.9 2.1-1.9 1-1.6 1.9-0.6 0.1-1.1 1.7 0.4 0-0.9 1.7-0.6 1.9-0.5 2.8 1.8 2.2 2.3 2.4 0 2.4 0.3-0.8-2.1 1.9-3.1 1.7-1-0.6-0.9 1.7-2.2 2.3-1.4 2 0.4 3.3-0.7-0.1-2-2.9-1.2 2.1-0.6 2.6 1 2 1.6 3.3 0.9 1.1-0.3 2.4 1.2 2.2-1.2 1.5 0.4 0.9-0.8 1.8 1.9-1.1 2.1-1.4 1.6-1.4 0.1 0.5 1.5-1.2 1.9-1.3 2 0.3 1.1 3 2.1 3 1.2 2 1.4 2.8 2.2 1.1 0 2 1 0.6 1.2 3.7 1.3 2.5-1.3 0.8-2.1 0.7-1.7 0.5-2.1 1.2-3.1-0.5-1.8 0.3-1.2-0.5-2.2 0.5-2.9 0.7-0.8-0.5-1.2 0.9-2.1 0.7-2.1 0.1-1.1 1.5-1.4 1 1.8 0.3 2.4 1 0.5 0.1 1.7 1.4 1.9 0.3 2.2-0.1 1.4M1256.7 494.8l3.7 1.4 2.1-0.6 3-0.7 2.3 0.3 0.3 4.5-1.3 1.4-0.4 3.1-1.4-1.1-2.6 2.7-0.8-0.2-2.4-0.1-2.4-3.3-0.5-2.6-2.2-3.3 0-1.8 2.6 0.3M1363.5 470.4l1.9 2.1 3 1 1.1 3.5 2.8 4 0.1-2.6 1.7 1 0.6 3 3.1 1.2 2.6 0.3 2.2-1.4 2 0.4-1 3.4-1.1 2.3-3-0.1-1 1.2 0.3 1.6-0.5 0.8-1.5 2-1.9 2.7-3 1.5-0.6-1-1.7-0.6 2.3-3.1-1.3-2.2-4.2-1.5 0.2-1.4 2.7-1.3 0.7-3-0.2-2.5-1.5-2.6 0.1-0.7-1.9-1.6-3-3.4-1.6-2.7 1.6-0.3M1362.5 493.7l0.9 1.6 0.8 1.6 2.8-1.5 1.1 1.6 0 1.6-1.4 1.8-2.6 2.8-1.9 1.6 1.4 1.8-3 0.1-3.3 1.4-1 2.6-2.2 3.9-3.1 1.7-1.9 1.1-3.6-0.1-2.5-1.3-4.1-0.2-0.7-1.4 2.1-2.9 4.8-3.8 2.5-0.7 2.8-1.5 3.3-2 2.4-2 1.7-2.9 1.4-1 0.6-2.1 2.7-1.8M94.5 263.9l-0.6 0.6-1-0.5 0.1-1.1-0.6-1.4 0.9-1.1-0.1-1.1 2.5 1.1 0.6 0.5 1 1.3-2.8 1.7M92.4 257.9l-1.3 0.3-1.2-1.4 1.8 0 1 0.6-0.3 0.5M89.8 255.8l-2.2 0.3 0.3-0.4 1.9 0.1M86.3 255.3l-1.5 0.3-0.8-1.2 0.8-0.7 1.3 1 0.2 0.6M79.7 252.7l-1.7-0.3 0.8-0.7 0.9 0.1 0 0.9M45.9 84.2l5.4-1.6 8.7-1.9 3.1 0-0.5 1.9 8.2-0.1-3.2-2.4-4.7-1.5-2.8-1.9-3.7-1.6-5.3-1.3 2.2-2 6.8-0.1 4.9-1.8 0.9-1.9 4-1.8 3.7-0.4 7.3-1.7 3.6 0.2 5.9-2 5.9 0.8 2.8 1.7 1.7-0.7 6.5 0.2-0.2 0.9 5.9 0.6 3.9-0.3 8.2 1.2 7.4 0.3 3 0.5 5.1-0.6 5.9 1.2 4.2 0.5 7.2 0.9 6 1.9 4.1 0.3 3.4-1.6 4.7-1.2 5.7 0.5 5.8-1.7 6.3-0.9 2.6 1.5 2.9-0.8 0.9-1.9 2.6 0.4 6.6 3.5 5.1-2.6 0.6 2.9 4.7-0.6 1.5-1.2 4.6 0.3 6 1.6 9 1.4 5.3 0.7 3.8-0.3 5.2 2-5.4 1.9 6.9 0.8 10.4-0.5 3.3-0.6 4.2 2.3 4.2-2-4-1.6 2.5-1.3 4.7-0.2 3.1-0.4 3.1 1 3.9 2 4.3-0.3 6.9 1.8 5.9-0.7 5.7 0.2-0.5-2.4 3.5-0.7 5.9 1.3 0 3.7 2.5-3.1 3.1 0.1 1.7-3.9-4.1-2.4-4.5-1.5 0.3-4.3 4.6-2.8 5.1 0.6 3.9 1.7 5.2 4.4-3.4 1.9 7.2 0.7 0 4 5.1-3 4.6 2.4-1.1 2.9 3.7 2.6 4-2.8 2.8-3.3 0.3-4.2 5.5 0.2 5.7 0.6 5.2 1.9 0.2 1.9-2.9 2.1 2.7 2.1-0.5 1.8-7.5 2.7-5.4 0.6-4-1.1-1.1 1.9-3.8 3.3-1.1 1.6-4.5 2.7-5.5 0.2-3 1.6-0.3 2.6-4.5 0.4-4.7 3.2-4.2 4.3-1.5 3-0.2 4.5 5.6 0.7 1.8 3.6 1.8 2.9 5.4-0.7 7.2 1.6 3.8 1.5 2.8 1.8 4.9 1.1 4 1.6 6.4 0.2 4.2 0.4-0.6 3.3 1.2 3.9 2.8 4.3 5.7 3.7 3-1.3 2.1-3.9-2-6.1-2.7-2.1 6.1-1.8 4.4-2.7 2.2-2.6-0.3-2.6-2.7-3.3-4.7-2.9 4.6-4.1-1.7-3.5-1.3-6 2.7-0.9 6.6 1.1 4 0.4 3.2-1 3.6 1.2 4.7 2.3 1.2 1.5 6.9 0.3-0.1 3.2 1.3 4.9 3.5 0.6 2.8 2.3 5.6-2.2 3.7-4.2 2.5-1.8 3.1 3.4 5 4.9 4.2 4.7-1.5 2.4 5.1 2.1 3.5 2.3 6.1 0.9 2.5 1.3 1.6 3.3 3 0.5 1.5 1.4 0.3 4.3-2.8 1.5-2.8 1.4-6.3 1.4-4.9 3.1-6.5 0.6-8.3-0.8-5.8 0-4 0.3-3.2 2.7-4.9 1.7-5.6 5.2-4.4 3.5 3.2-0.6 6.2-5.1 8.1-3.2 5.8-0.4 3.4 1.9-3.6 2.6 1.2 4.2 1.3 2.8 5 2 6.4-0.6 3.8-4.3 0.3 2.8 2.5 1.4-4.8 2.5-8.5 2.3-3.9 1.5-4.3 2.8-2.9-0.2-0.2-3.3 6.7-3.2-6.2 0.1-4.2 0.5 0.7 1.3-4.2 1.8-4 1.4-4 1.1-2.1 2.3-0.6 0.8-0.1 2.1 1.3 2 1.6 0.1-0.4-1.4 1.2 0.9-0.4 1.1-2.6 0.6-1.8 0-2.9 0.6-1.7 0.2-2.2 0.2-3.2 1.1 5.7-0.7 1.1 0.7-5.4 1.2-2.5 0 0.2-0.5-1.2 1.1 1.1 0.2-0.8 2.7-2.8 3-0.3-1-0.9-0.2-1.2-1 0.8 2.1 0.9 0.7 0.1 1.5-1.3 1.5-2.1 3-0.4-0.1 1.2-2.6-1.9-1.5-0.5-3.2-0.7 1.7 0.8 2.4-2.6-0.6 2.7 1.2 0.1 3.7 1.2 0.3 0.3 1.3 0.6 3.9-2.4 2.8-4.1 1.2-2.5 2.2-1.9 0.3-2 1.4-0.5 1.3-4.3 2.5-2.1 1.9-1.9 2.2-0.6 2.8 0.7 2.6 1.3 3.3 1.7 2.8 0.1 1.6 1.8 4.5-0.2 2.6-0.1 1.5-1 2.4-1.1 0.5-1.9-0.5-0.6-1.7-1.5-0.9-2.1-3.3-1.8-3-0.5-1.5 0.8-2.5-1.1-2.1-3-3.3-1.5-0.6-3.9 1.8-0.7-0.2-1.9-1.8-2.4-1-4.4 0.5-3.4-0.4-3 0.3-1.5 0.6 0.7 1-0.1 1.6 0.8 0.7-0.7 0.5-1.5-0.6-1.4 0.8-2.8-0.1-2.9-2.1-3.4 0.5-2.8-0.9-2.4 0.3-3.2 0.9-3.5 2.8-3.9 1.7-2.1 1.9-0.9 1.7 0 2.7 0.2 1.8 0.7 1.3-1.5 3.4-0.7 2.8-0.3 5.2-0.3 1.8 0.6 2.1 1.2 1.9 0.8 3 2.6 2.9 0.9 2.2 1.5 1.9 4.1 1 1.6 1.6 3.4-1 2.9-0.4 2.9-0.7 2.4-0.7 2.5-1.6 0.9-2.2 0.3-3.3 0.7-1.1 2.6-1 4.1-0.9 3.4 0.1 2.4-0.3 0.9 0.8-0.2 1.9-2 2.3-0.9 2.3 0.7 0.7-0.6 1.7-1 3-0.9-1-0.9 0 0.8 0.6-0.1 1.1-0.6 1.7 0.3 0.5-0.4 1.4 0.3 0.4-0.5 1.9-0.7 1-0.7 0.2-0.8 1.3 1.3 0.7 0.3-0.6 1.1 0.5 1.3-0.5 1.1-0.1 0.9 0.2 1.8 0.3 1.8-0.1 1.3-0.4 0.4-0.5 1.3 0.3 0.9 0.2 1-0.1 0.8-0.3 1.7 0.5 0.6 0.1 1.2 0.7 1.1 0.9 1.4 0.6 1 1.1-0.3 0.3-0.2 0.9 0.4 1.4-0.9 1.3-0.4 1.6-0.1 1.7 0.2 1 0.1 1.7-0.6 0.4-0.4 1.6 0.3 1-0.8 1 0.2 1.1 0.6 0.6 1 2.1 1.4 1.6 1.8 1.6 1.4 1.4 0 0.8 1.5 0.2 0.4-0.3 1 0.9 1.9-0.3 1.7-0.9 2.3-0.8 1.4-1.2 2.1 0.3-0.2 0.4 2.2 0.1 1.7 0.6 1.3 1.2 1.4 1.1 2 0.1 2.9-2.7 1.6-0.4 0.1-1.3 0.7-3.3 2.2-1.7 2.4-0.1 0.3-0.8 3 0.3 3.1-1.9 1.5-0.9 1.9-1.9 1.3 0.2 1 1.1-0.7 1.3-0.1 0.9-2.3 0.5 1.3 1.7-0.1 2-1.7 2.2 1.5 3.1 1.7-0.3 0.8-2.7-1.2-1.4-0.2-2.9 4.8-1.6-0.5-1.8 1.3-1.2 1.4 2.7 2.7 0.1 2.6 2.1 0.1 1.3 3.4 0 4.2-0.4 2.2 1.8 3 0.4 2.1-1.2 0.1-0.9 4.7-0.3 4.7 0-3.3 1.1 1.3 1.8 3.1 0.3 2.9 1.9 0.6 3.1 2.1-0.1 1.5 0.9 2.5 1.4 2.4 2.6 0.1 2 1.5 0 2 1.9 1.5 1.4 4.7 0.7 0.4-0.6 3.1-0.4 4.2 1.1 1.3 0.4 2.8 0.9 4.1 3.3 0.6 1.6 1.4-0.2 0.9 2.1 2.2 6.8 2.1 0.6 0 2.6-2.8 3.3 1.2 1.1 6.8 0.6 0.1 3.9 3-2.6 4.8 1.4 6.4 2.4 1.9 2.3-0.6 2.1 4.5-1.2 7.5 2 5.8-0.1 5.7 3.2 4.9 4.3 3 1.1 3.3 0.2 1.4 1.2 1.3 4.9 0.6 2.3-1.5 6.4-2 2.5-5.4 5.4-2.5 4.3-2.8 3.4-1 0.1-1.1 2.8 0.3 7.2-1.1 6-0.4 2.5-1.2 1.5-0.7 5.2-3.9 5-0.7 4-3.1 1.7-0.9 2.3-4.2 0-6.1 1.5-2.7 1.7-4.3 1.1-4.6 3.1-3.3 3.8-0.5 2.9 0.7 2.1-0.8 3.9-0.9 1.9-2.7 2.1-4.2 6.8-3.4 3.1-2.7 1.8-1.7 3.7-2.6 2.2-1.7 2.4-4.3 2.1-2.8-0.8-2.2 0.5-3.5-1.7-2.6 0.1-2.4-2.1-0.3 2 4.9 3.3-0.5 2.7 2.4 1.6-0.2 1.9-3.7 5-5.7 2-7.8 0.9-4.2-0.4 0.8 2.2-0.8 2.9 0.7 2-2.3 1.4-3.9 0.5-3.7-1.4-1.5 1 0.5 3.8 2.6 1.2 2.1-1.2 1.2 2-3.6 1.2-3.1 2.4-0.5 3.8-1 2.1-3.6 0-3 2-1.1 2.9 3.7 2.8 3.8 0.8-1.4 3.4-4.6 2.2-2.5 4.6-3.5 1.5-1.6 1.8 1.3 4 2.6 2.2-1.7-0.2-3.4 0-1.9 1-3.5 1.3-0.6 3.6-1.6 0.1-4.4-1.2-4.4-2.7-4.8-2.2-1.2-2.5 1.1-2.2-1.9-2.6-0.5-6.6 1.6-3.7 4.1-2.9-5.9-1.2 3.7-3.4 1.3-6.4 4.3 1.3 2-7.9-2.6-1-1.2 4.8-2.4-0.6 1.2-5.5 1.3-7.1 1.8-2.7-1.1-3.7-0.3-4.4 1.6-0.1 2.4-6.2 2.6-6.2 1.7-5.8-0.9-5.7 1.1-3.2-0.4-4.8 2.2-4.7 0.7-7.4 1.3-8.1 1.2-8.6-0.3-6.3-0.8-5.4-3.9-2.3-0.3-1.5-7.7-3.9-6.9-4.2-3-2.4-1.6-3.2 0.6-1.1-3.2-5.1-3.8-7.1-3.7-7.6-1.6-1.8-1.2-2.9-3-2.5-2.7-1.5 1.2-1.8-1.8-3.6 1.1-2.7 3.1-2.5 2.1-2.8-0.9-1.7-1.4 1.8-2.3-1.7 0.8-1.1-0.7-3.5 1.4-0.6 0.7-2.4 1.4-2.5-0.3-1.6 2.2-0.8 2.6-1.5-0.5-1.2 1.4-0.3-0.1-2 0.9-1.3 1.9-0.3 1.6-2.4 1.5-2-1.4-1 0.7-2.2-0.9-3.5 0.8-1.1-0.6-3.2-1.5-2-1.3-1.2-0.8-2.1 0.9-1-1-0.3-0.7-1.2-1.9-1.1-1.7 0.3-0.8 1.3-1.5 1-0.9 0.1-0.4 0.8 1.9 2.1-1.1 0.5-0.5 0.6-1.8 0.2-0.7-2.4-0.5 0.7-1.3-0.2-0.7-1.6-1.6-0.3-1-0.4-1.7 0-0.1 0.9-0.5-0.6-2.1-0.9-0.7-0.8 0.4-0.7-0.1-0.8-1.1-0.9-1.5-0.8-1.4-0.5-0.2-1.1-1-0.7 0.2 1.1-0.7 0.9-0.9-1-1.3-0.4-0.5-0.8 0-1.2 0.5-1.2-1-0.5 0.8-0.8-1.3-1.2-1.8-1.6-0.9-1.2-1.6-1.3-1.9-1.7 0.4-0.6 0.7 0.6 0.2-0.3-0.6-1.2-1.2-0.3-0.4 0.9-2.3-0.1-1.3-0.3-1.7-0.8-2.1-0.2-1.1-0.9-2-0.7-2.4 0-1.7-0.8-2.1-1.6-4.4-4.1-2-1.3-3.1-1-2.2 0.3-3.1 1.5-2 0.3-2.7-1-2.9-0.7-3.6-1.8-2.9-0.6-4.3-1.7-3.3-1.9-1-1-2.1-0.3-4-1.1-1.6-1.8-4.1-2.2-1.9-2.4-1-1.9 1.3-0.4-0.4-1.1 0.9-1 0-1.3-1.3-1.8-0.3-1.5-1.3-1.9-3.4-3.9-3.9-3-1.9-2.4-3.3-1.6-0.7-0.9 0.6-2.4-2-0.9-2.3-1.9-0.9-2.7-2.1-0.3-2.3-2-1.8-1.9-0.1-1.2-2.1-2.9-1.4-3 0.1-1.4-2.8-1.6-1.3 0.2-2.2-1.1-0.6 1.6 0.6 1.9 0.4 2.9 1.3 1.6 2.9 2.6 0.6 0.9 0.6 0.3 0.5 1.3 0.7-0.1 0.8 2.5 1.1 1 0.9 1.4 2.4 2 1.3 3.6 1.1 1.7 1.1 1.7 0.2 2.1 1.9 0.1 1.5 1.8 1.4 1.7-0.1 0.7-1.6 1.4-0.7 0-1-2.4-2.5-2.2-2.8-1.8-2-1 0.1-2.8-0.5-2.1-1.9-1.2-2.6-1.8-0.6 0.5-0.9-1-2.4-0.9-2.3-2.2 0.3-0.3 1.6 0.2 1.4-1.5 0.2-1.7-3-2.7-2.3-1.1-1.4-2.4-1.4-2.6-1.8-3-1.6-3.5-0.7-2-2.4-2.2-1.8-0.4-0.5-1.2-2.1-0.2-1.4-1-3.6-0.4-1-0.6-0.4-2.1-3.8-3.9-3.2-5.3 0.1-0.9-1.7-1.3-3-3.2-0.5-3.2-2.1-2.1 0.9-3.2-0.1-3.3-1.3-3 1.5-3.6 1-7-0.7-5.1-1.3-3.4-1.1-1.7 0.5-0.8 5.6 1.3 2 3.6 1-1-0.6-3.1-1.3-3.2-0.6 0-7.4-3.8-2.8-1.7-7-1.6-2.1-3.4 0.5-2.3-4.9-1.7-0.7-3.1-4.7-2.8-0.1-2 2.2-1.9-0.1-2.4-6.6-2.4-3.9-4.4-2.5-2.8-3.5-1.7-2.6-1.6-2.1-2-3.8 1.3-3.8 2.1-3.4-2.5-2.7-1.7-6.9 1-6.7-1.3-5.4 0.3-7.6-1.8-4.6-1.6-4.3 0.8 0.8 2.6-2.1 0.3-4.5 0.8-3.4 1.3-4.3 0.8-0.5-2.2 1.7-3.8 4.1-1.2-1-1-5 2.2-2.6 2.5-5.6 2.8 2.9 1.9-3.7 2.7-4.1 1.6-3.9 1.2-1 1.7-6 2-1.2 1.8-4.5 1.7-2.7-0.3-3.6 1.1-3.9 1.3-3.2 1.3-6.7 1.1-0.5-0.7 4.2-1.8 3.8-1.2 4.1-2.1 4.8-0.4 1.9-1.6 5.3-2.3 0.9-0.8 2.8-1.4 0.7-2.9 2-2.3-4.5 1.2-1.2-0.7-2.1 1.5-2.5-2-1.1 1.4-1.5-1.9-3.8 1.5-2.4 0-0.3-2.3 0.7-1.4-2.5-1.4-5 0.7-3.3-1.8-2.6-0.9 0-2.2-3-1.6 1.5-2.2 3.1-2.2 1.4-2 3.2-0.2 2.6 0.6 3.1-1.9 2.8 0.3 3-1.2-0.8-1.7-2.1-0.7 2.8-1.5-2.3 0-4.1 0.9-1.2 0.8-3.1-0.8-5.4 0.4-5.7-0.9-1.6-1.6-4.9-2.2M514.6 18.8l12.9-2.3 13.6 0.2 4.9-1.5 13.6-0.4 30.9 0.6 24.1 3-7.1 1.5-14.8 0.2-20.7 0.3 1.9 0.7 13.7-0.4 11.6 1.3 7.5-1.1 3.2 1.4-4.2 2.2 9.8-1.4 18.8-1.5 11.5 0.7 2.2 1.7-15.8 2.7-2.1 0.9-12.4 0.6 9 0.2-4.5 2.8-3.1 2.6 0.1 4.2 4.6 2.5-6 0.2-6.4 1.2 7.2 2.1 0.9 3.2-4.2 0.4 5 3.3-8.5 0.3 4.5 1.6-1.3 1.4-5.5 0.5-5.4 0 4.9 2.7 0 1.7-7.6-1.6-2 1 5.2 1 5.1 2.3 1.5 3.2-7 0.7-2.9-1.5-4.8-2.2 1.3 2.6-4.4 2 10.1 0.2 5.3 0.2-10.3 3.4-10.5 3-11.3 1.3-4.3 0.1-4 1.4-5.3 4.1-8.3 2.7-2.7 0.2-5.2 0.9-5.5 0.9-3.3 2.4-0.1 2.7-1.9 2.5-6.3 3.1 1.5 3-1.7 3.2-2 3.8-5.4 0.2-5.7-3.1-7.7 0-3.8-2.2-2.6-3.7-6.6-4.8-2-2.5-0.5-3.5-5.4-3.6 1.4-2.8-2.6-1.4 3.8-4.5 5.8-1.4 1.6-1.6 0.8-3-4.4 1.4-2.1 0.5-3.5 0.6-4.7-1.3-0.3-2.6 1.5-2.1 3.6 0 7.9 1-6.7-2.4-3.4-1.4-3.9 0.6-3.2-1 4.3-3.6-2.3-1.4-3.1-2.7-4.6-4.1-5-1.5 0.1-1.6-10.4-2.2-8.2-0.3-10.3 0.2-9.4 0.2-4.5-1.2-6.7-2.4 10.1-1.2 7.8-0.3-16.5-1-8.7-1.5 0.5-1.5 14.6-1.9 14.2-1.8 1.5-1.4-10.4-1.4 3.3-1.6 13.4-2.6 5.6-0.5-1.6-1.7 9.2-1 11.8-0.6 11.9-0.1 4.2 1.2 10.3-2.1 9.2 1.5 5.4 0.3 8 1.2-9.2-2.1 0.6-1.6M445.4 93l-15.9-1.4 5.5 3.4 4.6 3.6-10.5-1.5-8.2-2.3-4.7-1.8 1.3-1.1-11.3-3.9 0 1.1-11.2 0.7-3.2-1.4 2.5-2.8 7.3-0.1 7.9-0.5-1.3-1.3 1.4-2 5-3.7-1.1-1.7-1.5-1.4-5.9-1.8-7.8-1.3 2.5-1-4.1-2.4-3.4-0.2-3.1-1.4-2 1.2-7.1 0.5-14-0.9-8.2-1.1-6.2-0.6-3.2-1.3 4-1.8-5.5 0-1.2-3.9 2.9-3.5 4-1.6 10-1-2.8 2.5 3 2.4 3.6-3.1 9.7-1.6 6.7 4-0.6 2.6 7.6-1.2 3.7-1.5 8.6 2 5.3 1.8 0.5 1.7 7.2-0.9 4 2.5 9.3 1.5 3.4 1.5 3.6 3.6-7.1 1.8 9.1 2.5 6.2 0.9 5.5 3.5 6.1 0.3-1.2 2.7-6.8 4.5-4.8-1.7-6-3.7-5 0.5-0.5 2.2 4.1 2.3 5.2 1.7 1.6 1.1 2.5 3.8M430.6 16.9l10.3 0.3 8.3 0.5 7.1 1.1-0.2 1-9.4 1.7-9.3 0.8-3.5 0.8 8.4 0-9.1 2.4-6.3 1-6.6 3.2-8 0.7-2.5 0.7-11.7 0.5 5.4 0.4-2.7 0.7 3.2 1.9-3.7 1.3-6 1.1-1.8 1.5-5.4 1.2 0.6 0.9 6.6-0.2 0 0.9-10.3 2.4-10-1.1-11.4 0.6-5.8-0.5-7.3-0.2-0.5-1.8 7.2-0.9-1.9-2.8 2.4-0.2 10.3 1.6-5.3-2.5-6.2-0.7 3.1-1.5 6.8-0.9 1.1-1.4-5.4-1.5-1.7-1.9 10.6 0.1 3 0.4 6.1-1.3-8.7-0.5-13.6 0.2-6.8-1.3-3.2-1.5-4.5-1.1-0.9-1.4 5.8-0.7 4.5-0.1 7.6-0.7 5.7-1.4 4.7 0.2 4.2 1.1 3-2.1 5-0.6 7-0.4 11.8-0.2 2 0.4 11.2-0.6 8.3 0.2 8.4 0.2M250.3 54.8l3.8 0.7-1.9 1.8 8.9-1.2 5.2 1.9 4.4-1.9 3.5 1.4 3.1 3.6 1.9-1.6-2.7-3.9 3.5-0.6 3.9 0.6 4.2 1.6 2.3 3.7 1.2 2.8 6.5 1.9 7.1 1.8-0.5 1.7-6.2 0.3 2.3 1.5-1.1 1.4-7-0.6-6.8-1-4.4 0.2-7.3 1.3-9.7 0.6-6.9 0.3-2.1-1.8-5.2-1-3.5 0.4-4.7-3 2.4-0.5 6.1-0.6 5.4 0.2 5.1-0.7-7.6-0.9-8.3 0.3-5.4-0.1-1.9-1.4 8.9-1.6-6 0.1-6.8-1 3.3-2.9 2.6-1.6 10.4-2.2M225.9 50.3l5.4 0.8 9.8 0.2 3.8 1.2 4.2 1.6-4.9 1-9.5 2.7-4.8 2.7 0 1.7-10.1 1.8-2.1-1.7-8.9-2 1.7-1.6 2.7-2.8 3.3-2.6-3.8-2.3 13.2-0.7M307.4 52.7l4.8 0.8 6.9-0.5 1 1.1-3.6 1.9 5.8 1.6-0.7 3.5-6.3 1.5-3.7-0.3-2.7-1.5-9.6-3 0.1-1.2 7.9 0.4-4.3-2.5 4.6-1.8M335.2 56.8l-4.1 2.9-4.4-0.1-2.4-3.4 0-2 2-1.6 3.9-1 8 0.1 7.4 0.9-5.7 3.4-4.7 0.8M321.5 39.9l8 0.2 4.3 1.2 7.6 0 3.3 1.3-0.9 1.5 4.5 0.8 2.4 1 5.2 0.1 5.7 0.4 6.1-0.9 7.9-0.3 6.2 0.3 4.2 1.4 0.9 1.6-2.5 1-5.7 0.9-5-0.5-11.1 0.6-7.9 0.1-6.2-0.5-10.3-1.3-1.3-2.1-0.5-1.9-3.8-1.7-8-0.4-4.5-1.2 1.4-1.6M246.4 38l-0.5 3-3 1.3-3.6 0.2-7.2 1.7-6.2 0.5-5.2-0.8 6.5-2.9 8-2.5 5.9 0.1 5.3-0.6M277.3 43.6l1.5 1.3 3.4-0.6 4 0.2 0.7 1.9-2.3 1.8-13.1 0.6-9.7 1.7-5.9 0.1-0.5-1.3 8-1.7-17.4 0.5-5.4-0.7 5.2-3.8 3.7-1.1 10.8 1.3 6.9 2.3 6.7 0.3-5.5-3.7 3.6-1.4 3.9 0.4 1.4 1.9M328.8 45.7l3.4 1.4-0.7 2.7-5.6-0.3-4.7-1 2.1-1.8 5.5-1M314.8 41.6l2.9 1.8 0.1 2-1.7 2.8-6.4 0.4-4.1-0.6 0-2.3-6.3 0.4-0.3-3.1 4.2 0.2 5.8-1.4 5.4 0.3 0.4-0.5M359.1 30.2l4.7 1.3-5.4 1.1-7.1 2.9-6.8 0.3-8-0.5-4.2-1.5 0.1-1.4 3-1.1-7 0.1-4.3-1.4-2.4-1.7 2.6-1.7 2.7-1.2 4-0.3-1.7-0.8 9-0.2 4.9 2.1 6.5 0.8 6.3 0.7 3.1 2.5M289.6 31.6l5.7 0.5 10.5 1.5 2.9 1.8 1.5 1.6-6.3-0.4-6.3-1.3-8.6-0.1 3.7-1.2-4.7-0.9 1.6-1.5M266.6 33.6l5.1 0.7-4.8 0.8-6.4 0 0.1-0.6 3.9-1.1 2.1 0.2M366.3 84.2l0.7 1.7 2-0.5 2.2 1 4.2 1.3 4.5 1.2 0.3 1.8 2.8-0.3 2.8 1.3-3.4 1.2-6.1-0.9-2.1-1.7-3.8 2-5.5 2-1.4-2.3-5.2 0.4 3.4-1.9 0.5-3 1.3-3.6 2.8 0.3M386.5 96.9l1.6 0.1 0.9 0.7-1.5 2.1-1.7-0.4-1-1.1 0.2-0.3 1.5-1.1M370.8 96.6l2.8-1.8 5.3 0.1 0 0.7-4.6 2.1-2.7 0-0.8-1.1M480.4 139.6l-2 2.4-2.6 3.4 2.5-1.3 2.6 0.8-1.3 1.3 3.4 1.1 1.8-1 3.8 1.2-1.2 2.9 2.7-0.7 0.5 2 1.2 2.4-1.6 3.4-1.7 0.2-2.6-0.8 0.9-3.1-1.1-0.5-4.5 3.4-2.3-0.2 2.7-1.8-3.7-0.9-4.2 0.2-7.4-0.1-0.6-1.2 2.4-1.3-1.7-1 3.3-2.4 3.9-6.1 2.4-2.2 3.4-1.3 1.8 0.1-0.8 1.1M446 145.1l1.3-0.3 5.1 1 3.9 1.6 0.1 0.7-1.8 0.1-5-1.2-3.6-1.9M448 156.1l1.3 1.9 2.8 0.5 3.6-0.1-1.9 1.6-1.4 0.2-5-1.6-0.9-1.3 1.5-1.2M218.2 150.4l-2 0.5-6.3-1.7-1.2-1.4-3.4-1.3-0.7-1.1-4-0.7-1.5-2.1 0.3-0.9 4.1 0.8 2.3 0.6 3.7 0.4 1.3 1.3 1.9 1.8 3.9 1.7 1.6 2.1M182.6 129.1l3.7-0.3-1.1 4.3 3.3 3.1-1.5 0-2.3-1.7-1.4-1.8-2-1.2-0.7-1.7 0.2-1.2 1.8 0.5M104.2 117.2l-3.8 1.5-2-1-0.6-1.8 3.5-1.4 2.1-0.6 2.6 0.3 1.6 1.2-3.4 1.8M31.9 91.5l2.4 0.7 2.4-0.4 3.2 1 3.8 0.5-0.3 0.5-3 0.8-2.9-0.8-1.5-0.8-3.4 0.3-0.9-0.4 0.2-1.4M52.3 104.6l3 0.4 0.4 1.4-2.4 0.6-2.5-0.7-2.4-1 3.9-0.7M179.4 121.6l2.2 1.8 2.6 2 1.2-1.2-2.3-2.3-2-1.2-1.7 0.9M173.8 114.2l1.1 2.7 1.6 2.7-2.3-0.4-2.7-2.7-0.8-2.3 3.1 0M377.4 248.1l3.4 0.2 3 0.1 3.6 1.3 1.6 1.4 3.6-0.4 1.4 0.9 3.2 2.4 2.4 1.7 1.3 0 2.3 0.7-0.3 1.1 2.9 0.2 2.9 1.6-0.5 0.9-2.5 0.5-2.6 0.2-2.7-0.3-5.6 0.3 2.6-2.1-1.5-1-2.5-0.3-1.3-1.1-1-2.2-2.2 0.1-3.6-1-1.1-0.8-5-0.6-1.4-0.8 1.4-0.9-3.7-0.2-2.8 2-1.6 0.1-0.5 0.9-2 0.4-1.6-0.4 2-1.1 0.9-1.5 1.7-0.8 2-0.7 2.9-0.4 0.9-0.4M414.9 260.9l3.3 0.6 0.5-0.7 3 0 2.3 1 1-0.1 0.7 1.4 2.1-0.1-0.1 1.1 1.7 0.2 1.9 1.4-1.4 1.6-1.8-0.8-1.8 0.1-1.3-0.2-0.7 0.7-1.5 0.3-0.6-1-1.2 0.6-1.6 2.6-1-0.6-0.2-1.1-2.5-0.6-1.9 0.2-2.3-0.3-1.8 0.8-2.1-1.2 0.3-1.3 3.6 0.5 2.9 0.3 1.4-0.8-1.8-1.7 0.1-1.4-2.5-0.7 0.9-1 2.4 0.2M395.6 266.2l2.6 0.3 2 1 0.7 1-2.7 0.1-1.2 0.6-2.2-0.6-2.2-1.4 0.5-0.9 1.6-0.2 0.9 0.1M439.2 266.1l2 0.3 0.6 0.8-1 0.9-2.9 0-2.2 0.2-0.2-1.7 0.5-0.5 3.2 0M393.2 240.3l1.1 0.1 1.4 3.2 0 2.3-0.9 0.1-1-2.2-1.5-1.1 0.9-2.4M394.6 235l-4.2 0.6-0.3-1.4 1.9-0.3 2.5 0.1 0.1 1M397.8 234.9l-0.7 2.8-0.7-0.5 0.1-2-1.8-1.6 0-0.4 3.1 1.7M456.9 296l2.3-0.5 0.8 0.1-0.2 2.9-3.2 0.4-0.7-0.3 1.1-1.1-0.1-1.5M430.1 540.5l1.5 1.8 1.9 2.9 5 2.3 5.4 1-1.7 1.9-3.7 0.2-1.9-1.3-2.4-0.2-4.1 0-2.3 2.5-2.8-1.2-4.1-0.6-4.8-2.1-4-2.1-5.3-4.3 3.2 0.8 5.4 2.6 5.1 1.4 2-1.8 1.3-2.6 3.5-1.6 2.8 0.4M458.8 537.5l4.6-2.3 3.3 0.9 2.3-1.5 3.1 1.7-1.1 1.4-5.2 1.1-1.8-1.3-3.3 1.7-1.9-1.7M0 664.2l3.6-2.2 7 1.2 4.5-1.3 6.6 1.6 4.9-1.5 12.2-1 3.7 1 7.6 1.7 11 1 8.7 1.2 14.9 0.9 11.1-1.1 16.4 0.8 9.3 1.2 10.2-1.1 10.8-1.1 0.8-1.8-15.2-0.2-12.5-0.8-3.2-1.6-10.4-0.8 0.7-1.7 1.4-1.6 1.4-1.5-0.7-1.6-6.4-1-3-1.4-6-1.2 9.4 0.2 8.9-0.6 5.6 1.3 6.9-1.1 6.4-1.4 3.1-1.3-1.4-1.6-4.9-1.1-5.7-1.1-8-0.2-6.9-0.6-7.5-0.4-2.5-1.4-5-1.2-3-1.3-1.3-4.4 1.9 0.4 3.5 1.2 6.4-0.4 6.1-0.5 3.2 1.6 6.1-0.4 5.2-0.8 4.8-1 4.4-1.3 5.8-0.4-0.1-1.4-1.4-1.5 1.1-1.3 5-0.7 2.3 1.3 5.9-0.8 4.4-1 5.6 0 5.2-0.4 5.2-1 4.2-0.8 4.7-0.8 3 0.2 2.6 0.3 5.8-0.5 5.1 0.7 5.3-0.1 5.1-0.5 5.2 0.3 5.8 0.4 5.3-0.1 5.6 0.1 5.8 0 5.3-0.1 3.9-1.1 4.7-0.7 4.8 0.9 4.7-0.7 4.1-1.4 2.5 1.2 1.3 1.4 2.6 1.3 4-1.2 4.6 1.5 5.2 0.4 4.5 1.1 5.4-0.2 4.9-0.7 5.8 0.1 5.3 0.6 5.2 0.6 2.1-1.6-2.5-1.3-1.9-1.3-5-0.3-2.2-1.5-0.8-1.4-1.4-2.9 3 0.5 5 0.2 5.1-0.2 4.5 0.6 3.9 1.2 1.7 1.3 5.2 0.3 5-0.6 5.3-0.7 4.8-0.5 3.9 0.9 5.1-0.3 3.4-2.9 3.1 1.7 4.4 0.7 4.9-0.4 3.2 1.5 5 0.2 4.7 0.4 4.6 0.9 3-1.5 1.5-1.3 3.9 1.5 5.3-0.4 3.9 0.8 2.7 1.3 5.1-0.4 4-0.8 4-1 4.7-0.5 5.4-0.5 4.9-0.5 3.8-0.8 2.3-1.2 0.9-1.7-0.5-1.6-1.2-1.5-1.4-1.5-1.1-1.5-1.1-1.4-0.1-1.5 0.3-1.5 1.8-1.5 1.6-1.5 0.5-1.5-0.7-1.7-0.5-1.5 1.9-1.7 2.2-1.2 2.4-1.3 2.7-1.3 3.1-1.2 1.5-1.6 2.1-1.1 2.5-1 3.7-0.2 2.4-1.2 2.7-0.8 3.2-0.4 2.8-1 2.2-1.2 3-0.5 2.3 1-1.5 1.3-3.9 1.1-1.7 0.9-2.9-0.6-3.1 0.4-2.7 0.8-2.8 1-1.9 1.2-0.5 1.5 0.2 1.4 1.8 1.3-2.6 0.9-3.6 0.3-2.1 1.3-2.3 1.2-2.4 1.7-0.7 1.4 1.4 1.6 2.1 1.2 3.1 0.9 3 1.2 1.6 1.5 0.8 1.5 1.1 1.5 1.8 1.3 1.2 1.4 0.5 3.6 1.2 1.4 0.3 1.5 1.2 1.5-0.6 2.1-2.1 1.6-2.2 1.2-5.2 0.6-1.7 1.3-2.4 1.3-5.8 1.5-5.1 0.5-4.9 0.9-5.2 0.8-3.1 1.6-6.2 0.1-6.8-0.1-6.2 0.3-6.4 0 1.2 1.5 5.9 0.7 4.3 1.1 2.4 1.3-4.3 1.2-6.7-0.4-5.5 1-0.4 3.1 4.6 1.3 0.8 1.4 4.9 1.5 8.2 0.6 7 1 5.5 1.2 7 1.3 9.6 0.5 9.4 1.1 6.7 1.1 7.1 1.4 3.8 1.8 1.9 1.4 4.7-1.4 6.4-1.1 6.7-1.2 8-1 6.9-1.1 9.6 0 9.4 0.5 7.8 0.9 2.5-1.7 5.4-1.1 9.8-0.1 7.6-0.8 7.2-0.8 8.1-0.6 8.5-0.7 6-0.9-2.7-1.4-1.7-1.4 0-1.4-7.5 0.2-7.9 0.6-7.6 0-1-1.5 0.5-2.8 1.7-0.9 5.5-0.9 6.6-0.9 9.3-2.2 3.5-1.6 5.3-0.6 5.2-0.6 2.7-0.3 5.9-0.1 5.7-0.5 4.8-0.8 4.7-0.9 4.2-0.9 5.4-1.2 3.4-1.3 3.6-1.1 1.1-1.5-4.1-1 1.4-1.6 2.6-1.2 4-0.7 4.3-0.9 3.9-1.2 3-1.5 1.9-1.9 2.8-1 4.6 0.2 1.9 1.3 4.6 0.2 0.2-1.5 1.9-1.5 4.2 0.4 1 1.4 4.6 0.2 5-0.6 4.8-0.5 4.4 0.2 1.7 1.6 4.2-1.3 4-0.6 8.6-1.1 4-0.9 4.3-0.6 3.3-0.8 2.3-1.4 2.9 1 4.1-0.6 4.9 3.2 4.4-0.7 1.7-1.5 4-1.1 5 0.2 1.6 1.4 3.2-1.4 4.1-0.4 4.5-0.2 4.1 0.1 4.4 0.4 4.1 0.3 1.8 1.2 2.5 1.2 4.3-0.7 4.5-0.1 4.4 0 4.3-0.1 3.8-0.6 4.1-0.4 3.4-1.1 3.7-0.6 3.9-0.4 2.9-1.1 2.2-2.1 2.2-1.3 4 0.6 1.5 1.4 3.3 0.9 4-0.3 2.8 1.3 2.8 1.1 4-1 1.3-1.6 3.5-0.7 4-1.3 3.8-0.5 4.5-0.8 3.1-0.8 3.1-0.9 3-0.9 3.7 0.5 3.4-1.3 2.6-1.1 3.6 0.1 3.2-0.9 0.7-1.4 3.3-1.1 3.1-0.7 3.9-0.6 3.5-0.3 3.4 0.2 3.7 0.4 3.1 1 0.4 1.7 3.4 1.3 2.3 1 4.6 0.5 2.6 1.1 3.2 1 3.7 0.2 3.1-0.7 3.3-1.6 3.6 0.8 3.8 0.5 3.7 0.4 3.7 0.3 3.9 0 3.2 4-0.2 1-0.4 1.8-3.7 0.9-3.1 1.5 0.6 1.5 4.3-0.1-0.5 1.5-2 1.5-1.8 1.5 2.9 1.3 4.5 0.3 4.4-0.6 2.2-1.5 1.3-1.5 2.1-1.2 2.4-1.1 1-1.4 2-1.9 2.4-0.4 4.4-0.1 3.9-0.5 3.9-0.6 1.9-1.5 1.1-1.4 2.7-1.4 3.8-1 3.2-0.8 2.1-1.3 2.2-0.6 2.8-0.7 3.9 0.4 3.5-0.4 3.8-0.4 4.2 0.2 2.8-1 2-2.6 1.4 1 1.8 1.8 3.3 0.8 3.7 0.3 3.7-0.4 3.9 0.3 3.6 0 2.5-0.3 3.2 0.2 3 0.8 3.4-0.5 4.2 0 3.6-0.5 4 0.5 2.5-1.3 2-1.3 2.7-1 4.8-2.9 2.5 0.5 2.9 1.1 2.6 1.3 4.9 2.4 3.8 0 3.6 0 4.1-0.4 4.2-0.5 3.2-1.1 2.6-1.1 4.3-0.2 2.9-0.8 3 0.7 2 1.3 2.7 1.2 4.2-0.2 2.7 1 4.6 1 4.8 0.4 4.1-0.3 3-1.2 2.6-1.3 3.4-0.3 3.5 0.6 4 0.3 3.6-0.6 3.5 0 3.4 0.4 3.6 0.4 3.5-0.7 4.1-0.6 4-0.1 4.4 0 3.5-0.4 3.5-0.3 1-1.9 0.2-1.6 2.4 1.1 0.7 1.7 1.3 1.6 1.6 1.3 3.2 0.6 4.4-0.2 5.1 0 3.5-0.3 5 0 3.6 0 5.1 0.1 4.3 0.3 2.8 1.2-0.8 1.4 2.5 1.2 4.1 0.9 4.4 1 5 0.6 5.2 0.7 3.9 0.5 4.4 0.1 2.5-1.3 3.4 1.1 3 1.2 3.4 0.9 4.7 0.4 4.4 0.5 1.9 1.5 4.4 0.9 2.9 1.3 4.4 0.7 4.4-0.1 4.2 0.2 4.6-0.1 4.6 0.3 4.3 0.5 4 1 4 0.7 2.8 1.2-0.5 1.5-2 1.3-1.8 1.7-1.3 1.4-1.9 1.6-5 0.6-2.3 1.4-5 0.8-1.7 1.5-2.7 1.5-2.8 1.2-1.6 1.5-0.9 1.5-0.4 1.7 0 1.5 2.3 1.5 0.8 1.4 1.8 1.4 7.2 0.5 1.5 1.6-7 0.7-5.9 0.8-7.3 0.1-3.3 2.2-0.6 1.8-3.7 2.9 5.1 1.3 2 1.6 3.3 1.4 4.7 1.3 5.4 1.2 5.8 1.2 8.8 1.3 2 1.8 11.1 0.9 3.6 1.4 10.7-1 8.9 1.2 6.6 0.9M-1390.3 664.2l3.6-2.2 7 1.2 4.5-1.3 6.6 1.6 4.9-1.5 12.2-1 3.7 1 7.6 1.7 11 1 8.7 1.2 14.9 0.9 11.1-1.1 16.4 0.8 9.3 1.2 10.2-1.1 10.8-1.1 0.8-1.8-15.2-0.2-12.5-0.8-3.2-1.6-10.4-0.8 0.7-1.7 1.4-1.6 1.4-1.5-0.7-1.6-6.4-1-3-1.4-6-1.2 9.4 0.2 8.9-0.6 5.6 1.3 6.9-1.1 6.4-1.4 3.1-1.3-1.4-1.6-5-1.1-5.6-1.1-8-0.2-6.9-0.6-7.5-0.4-2.5-1.4-5-1.2-3-1.3-1.3-4.4 1.9 0.4 3.5 1.2 6.4-0.4 6.1-0.5 3.2 1.6 6.1-0.4 5.1-0.8 4.9-1 4.4-1.3 5.8-0.4-0.1-1.4-1.4-1.5 1.1-1.3 5-0.7 2.3 1.3 5.9-0.8 4.4-1 5.6 0 5.2-0.4 5.2-1 4.2-0.8 4.7-0.8 3 0.2 2.6 0.3 5.8-0.5 5.1 0.7 5.3-0.1 5.1-0.5 5.2 0.3 5.8 0.4 5.3-0.1 5.6 0.1 5.8 0 5.3-0.1 3.9-1.1 4.7-0.7 4.8 0.9 4.6-0.7 4.2-1.4 2.5 1.2 1.3 1.4 2.5 1.3 4.1-1.2 4.6 1.5 5.2 0.4 4.5 1.1 5.4-0.2 4.9-0.7 5.8 0.1 5.2 0.6 5.3 0.6 2.1-1.6-2.5-1.3-1.9-1.3-5-0.3-2.2-1.5-0.8-1.4-1.4-2.9 3 0.5 5 0.2 5.1-0.2 4.5 0.6 3.9 1.2 1.7 1.3 5.2 0.3 5-0.6 5.3-0.7 4.7-0.5 4 0.9 5.1-0.3 3.3-2.9 3.2 1.7 4.4 0.7 4.9-0.4 3.1 1.5 5.1 0.2 4.7 0.4 4.6 0.9 3-1.5 1.5-1.3 3.9 1.5 5.3-0.4 3.9 0.8 2.7 1.3 5.1-0.4 4-0.8 4-1 4.7-0.5 5.4-0.5 4.9-0.5 3.8-0.8 2.3-1.2 0.9-1.7-0.5-1.6-1.2-1.5-1.4-1.5-1.2-1.5-1-1.4-0.2-1.5 0.4-1.5 1.8-1.5 1.6-1.5 0.5-1.5-0.7-1.7-0.5-1.5 1.9-1.7 2.2-1.2 2.4-1.3 2.7-1.3 3.1-1.2 1.5-1.6 2.1-1.1 2.4-1 3.7-0.2 2.5-1.2 2.7-0.8 3.2-0.4 2.8-1 2.2-1.2 3-0.5 2.3 1-1.5 1.3-3.9 1.1-1.7 0.9-2.9-0.6-3.1 0.4-2.7 0.8-2.8 1-1.9 1.2-0.5 1.5 0.2 1.4 1.8 1.3-2.6 0.9-3.7 0.3-2 1.3-2.3 1.2-2.5 1.7-0.6 1.4 1.4 1.6 2.1 1.2 3.1 0.9 3 1.2 1.6 1.5 0.8 1.5 1.1 1.5 1.8 1.3 1.2 1.4 0.5 3.6 1.2 1.4 0.3 1.5 1.2 1.5-0.6 2.1-2.1 1.6-2.2 1.2-5.2 0.6-1.8 1.3-2.3 1.3-5.8 1.5-5.1 0.5-4.9 0.9-5.2 0.8-3.1 1.6-6.2 0.1-6.8-0.1-6.2 0.3-6.5 0 1.2 1.5 6 0.7 4.3 1.1 2.4 1.3-4.3 1.2-6.7-0.4-5.5 1-0.4 3.1 4.6 1.3 0.8 1.4 4.9 1.5 8.2 0.6 6.9 1 5.6 1.2 7 1.3 9.6 0.5 9.4 1.1 6.6 1.1 7.2 1.4 3.8 1.8 1.9 1.4 4.7-1.4 6.3-1.1 6.8-1.2 8-1 6.9-1.1 9.6 0 9.4 0.5 7.8 0.9 2.5-1.7 5.4-1.1 9.8-0.1 7.6-0.8 7.2-0.8 8.1-0.6 8.5-0.7 6-0.9-2.7-1.4-1.7-1.4 0-1.4-7.5 0.2-7.9 0.6-7.6 0-1-1.5 0.5-2.8 1.7-0.9 5.5-0.9 6.6-0.9 9.3-2.2 3.5-1.6 5.3-0.6 5.2-0.6 2.7-0.3 5.9-0.1 5.7-0.5 4.8-0.8 4.7-0.9 4.2-0.9 5.4-1.2 3.4-1.3 3.6-1.1 1.1-1.5-4.1-1 1.4-1.6 2.6-1.2 4-0.7 4.2-0.9 4-1.2 3-1.5 1.9-1.9 2.8-1 4.6 0.2 1.9 1.3 4.6 0.2 0.1-1.5 2-1.5 4.2 0.4 0.9 1.4 4.7 0.2 5-0.6 4.8-0.5 4.4 0.2 1.7 1.6 4.2-1.3 3.9-0.6 8.7-1.1 4-0.9 4.3-0.6 3.3-0.8 2.3-1.4 2.9 1 4-0.6 5 3.2 4.4-0.7 1.7-1.5 4-1.1 5 0.2 1.6 1.4 3.1-1.4 4.2-0.4 4.5-0.2 4.1 0.1 4.4 0.4 4.1 0.3 1.8 1.2 2.5 1.2 4.3-0.7 4.5-0.1 4.4 0 4.3-0.1 3.8-0.6 4.1-0.4 3.4-1.1 3.7-0.6 3.9-0.4 2.9-1.1 2.1-2.1 2.3-1.3 4 0.6 1.5 1.4 3.3 0.9 4-0.3 2.8 1.3 2.8 1.1 3.9-1 1.4-1.6 3.5-0.7 4-1.3 3.8-0.5 4.5-0.8 3-0.8 3.2-0.9 3-0.9 3.7 0.5 3.4-1.3 2.5-1.1 3.7 0.1 3.1-0.9 0.8-1.4 3.3-1.1 3.1-0.7 3.9-0.6 3.5-0.3 3.4 0.2 3.7 0.4 3.1 1 0.4 1.7 3.4 1.3 2.3 1 4.6 0.5 2.6 1.1 3.2 1 3.7 0.2 3.1-0.7 3.3-1.6 3.6 0.8 3.8 0.5 3.6 0.4 3.8 0.3 3.9 0 3.2 4-0.2 1-0.4 1.8-3.7 0.9-3.1 1.5 0.6 1.5 4.3-0.1-0.5 1.5-2 1.5-1.8 1.5 2.9 1.3 4.5 0.3 4.4-0.6 2.1-1.5 1.4-1.5 2-1.2 2.5-1.1 1-1.4 2-1.9 2.4-0.4 4.4-0.1 3.9-0.5 3.9-0.6 1.9-1.5 1.1-1.4 2.7-1.4 3.8-1 3.2-0.8 2.1-1.3 2.2-0.6 2.8-0.7 3.9 0.4 3.5-0.4 3.8-0.4 4.2 0.2 2.8-1 2-2.6 1.4 1 1.8 1.8 3.2 0.8 3.8 0.3 3.7-0.4 3.9 0.3 3.6 0 2.5-0.3 3.2 0.2 2.9 0.8 3.5-0.5 4.2 0 3.5-0.5 4.1 0.5 2.5-1.3 2-1.3 2.6-1 4.9-2.9 2.5 0.5 2.9 1.1 2.6 1.3 4.9 2.4 3.8 0 3.5 0 4.2-0.4 4.2-0.5 3.2-1.1 2.6-1.1 4.3-0.2 2.9-0.8 3 0.7 2 1.3 2.7 1.2 4.2-0.2 2.7 1 4.6 1 4.8 0.4 4-0.3 3.1-1.2 2.5-1.3 3.5-0.3 3.5 0.6 4 0.3 3.6-0.6 3.5 0 3.4 0.4 3.6 0.4 3.4-0.7 4.2-0.6 4-0.1 4.4 0 3.5-0.4 3.5-0.3 1-1.9 0.2-1.6 2.4 1.1 0.7 1.7 1.3 1.6 1.6 1.3 3.2 0.6 4.4-0.2 5.1 0 3.4-0.3 5.1 0 3.6 0 5.1 0.1 4.3 0.3 2.8 1.2-0.8 1.4 2.5 1.2 4.1 0.9 4.4 1 4.9 0.6 5.3 0.7 3.9 0.5 4.4 0.1 2.5-1.3 3.4 1.1 2.9 1.2 3.4 0.9 4.8 0.4 4.4 0.5 1.9 1.5 4.4 0.9 2.9 1.3 4.3 0.7 4.5-0.1 4.2 0.2 4.6-0.1 4.6 0.3 4.3 0.5 4 1 4 0.7 2.8 1.2-0.5 1.5-2.1 1.3-1.7 1.7-1.3 1.4-1.9 1.6-5 0.6-2.3 1.4-5 0.8-1.8 1.5-2.6 1.5-2.8 1.2-1.6 1.5-1 1.5-0.3 1.7 0 1.5 2.2 1.5 0.9 1.4 1.8 1.4 7.1 0.5 1.6 1.6-7 0.7-5.9 0.8-7.3 0.1-3.3 2.2-0.6 1.8-3.8 2.9 5.2 1.3 2 1.6 3.3 1.4 4.7 1.3 5.4 1.2 5.7 1.2 8.9 1.3 2 1.8 11.1 0.9 3.6 1.4 10.7-1 8.9 1.2 6.6 0.9M422.5 603.3l3.5 1.5 4.2 4.6 0.4 5-1.9 2.7-7.7 1.6-5.5-1.6-5.7-1.1-4.3-1.9 3.1-2 8.1 0 1.6-1.9 1.9-3.1 2.3-3.8M461.1 644.5l3.9 1.6-2.3 3.8-8.1-0.4-6.6-2.3-6.6-2.7 6.6-1.5 8.1 0.4 5 1.1M507.1 638.4l1.9 0.2 5.8-1 5.8 1 5 1.7 1.6 2.3 0.3 3.5-5.7 1.1-6.2 1.2-7.4 0.8-8.1 0.7-9.2-0.1-5.1-1.4 0.8-1.6 8.1-1.1 3.5-1.2 2.3-1.5 1.9-1.6 2.4-1.1 2.3-1.9M80.3 644.1l-7.3 0.4-5-1.1-2.3-1.6-0.4-2.7 7.3 0.8 3.9 1.2 2.7 1.1 1.1 1.9M224 620.2l6.9 3.1-5.4-0.4-3.8-1.1 2.3-1.6M206.2 619.8l10.1 2.7-7.4-0.7-5.4-0.8 2.7-1.2M302.4 614.1l5 0.7 5.4 0 4.3 0.8 4.2-0.4 2.3 1.9-3.1-0.3-4.6 0.3-4.6-0.3-5.4 0.3-3.9-0.7-1.9-1.6 2.3-0.7M409.4 610.2l5.8 0 5.8-1.5 1.5 1.1-5 1.6-6.2 0.3-1.9-1.5"/><clipPath id="cp"><rect width="1371" height="675"/></clipPath></defs>
<text x="744" y="88.0" class="tt" xml:space="preserve">Combined (GIM), 2000-04-19 20:00 UT</text>
<g transform="translate(58.5,113.5)"><g clip-path="url(#cp)" shape-rendering="geometricPrecision">
<rect width="1371" height="675" fill="#0000bb"/>
<path fill="#0000e3" d="M0 0l1371 0 0 675-1371 0zM738 626.3l-27 11.1-15 4.6-16.3 6-6.3 3-3.7 3 0.4 3 4.9 2.5 3 0.8 21 3.5 9 0.1 6-1 9-2.4 24-8.7 6.6-3.8 3.4-3 2.2-3 1.1-3 0.2-3-1-3-3.5-4-3.1-2-2.9-1-6-0.9z"/>
<path fill="#0000ff" d="M197.9 3l1.9-3 1150.9 0 5.3 6.6 8.2 14.4 2.5 3 4.3 3.6 0 647.4-540.9 0 7.2-9 8.7-9.1 28.8-23.9 9.1-9 3.7-6 0.5-3-0.9-3-2.6-3-4.3-3-4.3-2.1-9-3.3-9-2.2-51.5-7.4-17.5-1.8-15-0.8-15 0.8-12 2.3-9 2.7-33 12-30 7.4-18 2.9-30 1.1-43.9 12.4-7.1 2.9-4.8 3.1-19.2 16.6-6.2 4.4-8.8 5-9.1 4-11.9 4.1-23.1 4.9-492.9 0 0-641.6 24 1.8 24 0.1 84-4.3 21-2.1 15-3.2 6-2.1 6-2.9 4.3-2.7 4.7-3.9 4.6-5.1zM1002 83.8l-15 1.5-18 2.6-9.2 2.1-3.7 3 2.1 3 10.3 6 40.3 15 8.7 3 8.5 2.2 27 3.2 27 4.1 33 2.3 33 4.2 12 0.5 12-0.4 9-1.1 10.8-3 6-3 4.2-3.2 4.4-5.8 1.9-6-0.3-5.6-1.2-3.4-1.8-3.1-3-3.1-4-2.8-5-2.3-6-1.8-9-1.7-18-1.6-48-0.9-78-4.2-15-0.2zM1230 470.8l-9 2.4-7.5 3.8-8.6 6-7.9 7.6-4.8 7.4-1.4 6 0.2 3 1.1 3 2.2 3 5.7 3.8 9 2.6 15 1.5 15 0.2 9-0.8 9-1.9 6-2.4 4.8-3 3.5-3 4.5-6 1.2-3 0.4-6-2.2-6-5.1-6-4.1-3.2-4.7-2.8-10.3-4.1-12-2.4z"/>
<path fill="#0024ff" d="M474.5 18l26.5-2.4 24-0.4 15 0.4 12 1 15 2.2 15 3 12 3.2 14.1 5 13.1 6 11.1 6 19.1 12 11.6 6.1 15.4 5.9 23.6 6.8 12 4.8 9 4.6 24 14.1 12 5.7 15.7 6 26.1 9 33.2 10.6 15 3.9 15 2.4 21 2 96 5.9 45 4.3 39 2.3 33 3.2 24 3.9 57 14.6 9 1.8 9 1.1 12 0.1 9-1.9 9-4.4 6.1-4.8 5.9-7.2 4.2-7.8 9.9-27 2.8-6 4.1-5 6-4.1 6-2.7 6-1.8 30-6.1 24-8.2 12-3.5 27-5 0 597.4-465.5 0 12.5-7.2 18-7.2 18-5.4 15-2.5 21-0.9 60 3.4 54 0.6 69-0.7 36-1.5 24-2.6 18-4.1 9-3.3 6-3.3 5.5-4.3 2.6-3 1.8-3 1.3-6-0.4-3-2.4-6-1.9-3-5.4-6-22.5-18-8-9-2.9-6-0.6-3 0.8-6 1.6-3 5.4-6 4.1-3 11.8-6 42.2-16.9 9-2.9 18-4.6 9-3.5 3.4-2.1 3.2-3 1.8-3 0.8-3-0.2-3-2.9-6-5.2-6-6.6-6-21.3-16.3-9-7.7-8.9-9-7.2-9-3.6-6-3.4-9-1.8-9-2.6-21-2.1-9-3.4-9.4-6-12-12-19.2-14.4-19.4-6-9-6.4-12-10.4-24-4.8-8.2-3.3-3.8-5.7-4.3-6-2.1-6-0.5-9 1.2-12 3.5-12 4.9-9 5.2-6.4 7.1-5.3 9-3.9 9-2.5 9-1.6 9-0.8 9-0.5 24 1 21 2.4 12 4.1 9 4.4 6 16.8 15 5.5 6 3.7 6 1.8 6 0.1 6-0.6 3-3.2 6.8-3 3.8-3 2.8-3 2-6 2.6-6 1.1-6 0.1-24-4.1-9-0.7-6 0.1-9 1.1-6 1.4-9 3-24 11-15 5.6-15 3.8-15 1.6-9-0.3-12-1.6-12-2.3-9-2.5-12-5.3-18-10.7-8.6-4.3-9.4-3-9-1.5-15-1-27 0.6-30 3-12.3 1.9-11.7 2.6-8.2 3.4-4.3 3-2.7 3-1.4 3-0.5 3 0.5 3 3 6 4.6 4.9 11.9 10.1 5.6 6 7.3 9 3.6 6 1 3 0.4 3-0.4 3-1.1 3-2 3-6.6 6-4.8 3-5.9 3-8 3-31 7.9-15 4.8-9 4-33 16.7-12 4.7-12 3.8-21 5.1-39 5-45 8.7-9 2.3-11.3 6-30.7 18.9-15 7.5-12 5-12 3.9-15 4-54.5 11.7-419.5 0 0-600.6 15-1.2 33 0.3 21-0.5 75-3.7 84-5.2 9-1.5 24-5.9 24-5.1 36-10.9 21-4.7 21-3.2 60-7z"/>
<path fill="#0048ff" d="M505 42l8-1 6 0.1 12 1.9 14.4 5 12.1 6 4.4 3 3 3 1.9 3 1.6 6 0 6-2.1 15 0.4 6 1 3 1.8 3 3.1 3 6.2 3 3.2 0.9 27 5.6 9 1.2 9 0.4 9-1.5 21-6 9-2 12-1.2 9 0.7 6 1.6 9 3.7 36 20.4 12 5.4 12 4.5 15 4.1 24 4 21 4.6 12 2 12 0.8 30 0.8 54 0.5 69 1.6 30 2 39 1.3 24 2.7 12 1.9 15 3.6 15.3 5.4 14.7 6.9 12.3 8.1 6.3 6 6.1 9 1.3 3 1.3 6 0.1 3-0.7 6-3.9 9-7.2 9-6.7 6-20.9 15.2-9 7.4-10.5 10.4-9.9 12-5.6 9-3.8 9-2.2 9-2.9 18-2.2 9-4.5 12-4.6 9-6.2 9-7.6 8.3-9 7.4-16.4 11.3-6.3 6-4.4 6-9.9 18-2.4 3-3.5 3-8.1 4.2-13.2 4.8-10.8 2.8-9 0.9-6-0.7-21-8.3-12-3.5-12-1.9-12-0.1-69 9.3-42 5.1-10 2.4-9.8 3-7.2 2.9-5.5 3.1-3.8 3-2.6 3-1.8 3-0.9 3-0.3 3 1 6 7.4 18 2.6 9 0.3 6-0.4 3-0.8 3-3 6-5.1 6-7.3 6-35.9 24-15.9 9.4-18 7.9-15 4.8-15 3.6-39 6.6-36 6.6-9 2.2-11 3.9-55 26-21 8.4-21 6.5-33 9.1-36 9.2-17.6 3.8-302.6 0-33.8-4.8-12-2.9-21-6.1-6-1.2 0-555.4 24 0.6 36-2.3 54-1.3 36-2 123-13 72-10 18-1.3 39-1.7 18-1.6 15-2.6 12-3.5 18-7.4 27-12.5zM1358.7 105l12.3-1.3 0 507.5-3-4.2-6-6.5-9-7.7-6-3.9-6-2.9-6-1.7-18-1.6-6-1.3-6-2.7-3.4-2.7-2.6-3.9-0.7-2.1-0.1-3 0.8-3 1.7-3 2.9-3 4.4-2.9 9-2.5 12-0.7 6-0.9 3-1 6-3.4 6-5.1 9-11.4 4.5-8.1 2.4-6 1.6-6 0.3-3-0.6-3-2.2-5.7-3-5.2-9-12.2-12-12.5-17.8-15.4-6.1-6-4.7-6-5.2-9-6-15-10.9-36-7.4-18-10.9-21-22.9-36-7.5-15-3.2-9-2.9-12-1.9-12-0.8-12 0.5-9 0.9-6 4.1-12 4.7-9 19-30 12.7-27 3.4-6 4.5-6 4.4-4.6 5.6-4.4 10.7-6 34.7-15.2 12-3.9zM1370.4 654l0.6-0.7 0 21.7-21.6 0-0.9-3 0.9-3 2.2-3 4.4-3.6 12-6.4z"/>
<path fill="#006cff" d="M336.9 105l17.1 0.1 18 1.1 51 6.6 18 3.4 24 5.7 34.7 10.1 10.3 2.4 15 2.5 30 3.4 27 2.4 21 0.9 27-0.8 36-2.6 9 0.1 6 0.7 9 2.3 9 4.1 24 15.7 28 16.9 5 2.2 6 1.7 12 1.8 18 0.6 24-0.7 15-1.5 30-4.5 15-1.7 24-2 21-0.9 81-1.4 57 1.9 24 2.3 15 2.8 12 3.4 11.9 5 10.2 6 7.9 6.6 4.6 5.4 1.9 3 2.5 6.9 0.5 5.1-0.3 3-0.8 3-2.9 6-4.6 6-5.7 6-25.2 21.8-26.6 20.2-9.1 9-3.4 6-1.7 6-2 24-1.9 9-2.2 6-4.8 9-4.6 6-5.9 6-6.8 5.4-42 27.6-27 14.1-12 4.8-15 2.9-30 2-30 7.5-18 3.8-27 4.8-45 5.9-24.2 5.2-15.6 6-5.9 3-4.4 3-3.2 3-2.2 3-2.2 6-0.2 3 1.1 6 7 15 1.8 6 0 5-0.8 4-2.2 5.4-2.1 3.6-4.8 6-9 9-21.6 18-8.6 6-7.9 4.7-16.6 7.3-16.4 5.5-15 4-57 10.7-18 4.1-12 3.9-39 15-21 9.2-15 5.8-79.2 25.8-16.8 5-15 3.6-12 2.1-24 2.9-16.7 1.4-109.3-0.1-36-2.2-30-0.9-27-2.2-24-1.2-18-2-21-4.2-15-4.6-13.9-6.6-7.1-4.7-6-5.4-5.6-7.9-3.4-7 0-496.7 15 3.4 12 0.7 39-3.5 54-2.5 41.4-4.4 69.6-10.8 84-6.2zM1352.3 126l9.7-1.2 9 0.3 0 362.9-6-11.3-6-9.3-9-11.7-15.4-17.7-5.6-7.7-4.3-7.3-5.2-12-11.1-33-8.5-21-8.9-18-20-36-5.8-12-4.1-12-1-9 0.1-9 1.1-9 4.1-18 20.5-57 3.8-9 5.1-9 4.7-6 5.5-5.4 12-8.1 18-8.5 9-3zM1371 540l0 39-2.9-9-0.9-9 0.9-9z"/>
<path fill="#0090ff" d="M272.1 129l51.9-2.2 18 0.3 18 1.5 18 2.5 27 5 84 17.2 42 6.9 39 4.4 30 4.1 30 0.3 45 10.2 6 2.4 18.9 10.4 13.2 6 16.1 6 8.8 2.4 6 0.8 27-0.4 24 2 9 0.1 45-7.1 30-6.5 18-3 18-1.7 42-2 33-2.6 24-0.2 42 1.9 16.7 1.3 13.3 2.1 9 2.4 9 3.6 6.9 3.9 7.2 6 4.6 6 2.4 6 0.3 6-1.6 6-5.5 9-8.3 9-11.5 9-9.5 5.6-12 5.3-31.9 10.1-5.5 3-2.7 3-1 3 0.5 6 6.8 21 2 9 0.4 9-0.8 6-3.3 9-3.8 6-8.4 9-9.3 7.4-12 8.2-12 6.9-23.8 10.5-18.2 10.6-11.5 4.4-9.5 2.3-21 3.9-36 10.4-30 7-24 4.2-27 3.6-26.3 4.6-21.8 6-7.9 3-6 3-7 4.6-4.6 4.4-2.1 3-2.4 6-0.5 3 0 6 3.9 18 0.4 6-2 9-2.9 6-4 6-10.7 12-14.4 12-5.7 3.7-10.1 5.3-19.9 8.6-9.5 3.4-11 3-42.5 8.3-30 7.2-45 15.2-33 12.3-36 12.1-63 23.6-21 5.6-27 4.2-21 1.8-57 1-54-1.1-54-3.1-51-4.6-15-1.9-21-4.5-15-5.2-9.5-4.9-8.5-6-6.1-6-4.7-6-3.5-6-2.7-6-10-30.4 0-431.1 6 3.4 6 1.9 6 0.7 9-0.4 36-5.5 45-2.9 21-2.3 29.6-4.4 51.4-9 18-2.7 18-1.7zM780 326.5l-10.9 3.5-4.9 3-2.6 3-0.3 3 3 3 7.7 3 14 2.4 12 0.3 9-1.6 6-2.1 4.1-2 4-3 1.9-3-0.4-3-3-3-6.6-2.9-3-0.8-9-1.5-6-0.1zM1348.7 144l10.3-1.4 6 0.3 6 1.1 0 321.6-8.4-15.6-17.3-24-8.5-15-4.8-12-8.6-27-5.7-15-6.9-15-15.1-30-6.5-15-3.7-12-1.7-12 0.1-9 1.9-12 10-33 7-33 2.8-9 2.6-6 5.8-8.1 9-7.5 12-6.7 6-2.5z"/>
<path fill="#00b4ff" d="M267 147l33-1.3 24-0.2 18 0.7 18 2.1 105 20.1 48 8.1 54 9.9 60 14.2 36 4 25.5 5.4 22.5 3.8 24 5.1 6 0.8 6-0.1 15-1.7 9-0.4 9 0.4 21 2.7 27-2.6 24-1.4 9-1.4 27-6.1 15-2.4 51-3.8 39-5.1 15-0.5 15 0.8 45 4.2 15 2.7 9 3.6 5.8 4.4 4.1 6 1.2 6-1.1 6-3.4 6-3.6 3.8-6 4.5-6 3.2-6 2.4-24 6.8-12 4.5-6 3-6 4-6 6.3-3 6.5-0.7 9 1.6 9 7 24 0.8 6-0.2 6-1.9 6-5.7 9-6.9 7.3-9.2 7.7-14.2 9-21.6 10.6-21 12.1-15 6.1-24 6.4-45 13.6-19.5 5.2-22.5 4.7-42 6-15 2.8-24 5.6-14.7 4.9-9.3 4-3.4 2-6.9 6-5 6-3.4 6-1.1 3-1.1 6 1.5 18-0.2 6-2.5 9-5.4 9-5.1 6-6.2 6-11.3 9-18.8 12-12.1 6.1-9 3-30 6.2-39 9.5-12 3.4-102 32.8-24 9.5-35.9 16.5-15.1 5.7-18 4.8-21 3.5-21 1.8-48 1.1-69-1.7-48-3.2-42-4.9-24-4.3-10.8-2.8-10.2-3.6-10.9-5.4-8.1-6-8-9-5-9-2.3-6-2.5-9-8.8-39-4.4-27-6.9-27-0.1-331 6 2.1 6 1 9 0.2 9-0.7 33-5.2 56.7-5.4 102.3-17.2 21-2.3zM774 317.7l-6 1-12 3-24 9.3-21.7 5-6.6 3-1.7 1.3-2.1 1.7-0.9 3 1.5 3 3.5 3 6.3 3 6.7 1.4 33-0.3 27 1.2 24-0.6 9-1.2 9-2 13.2-4.5 5.4-3 4.1-3 3.1-3 2.1-3 1-3-0.2-3-1.5-3-3.2-3-6-2.8-6-1.6-10.8-1.6-19.2-1.4zM1349.2 162l6.8-1.9 6-0.5 6 0.8 3 1 0 278.3-17.6-28.7-4.5-9-3.3-9-6.4-24-4.1-12-5.3-12-15.3-30-5.1-12-3.8-12-2-12 0-12 2-12 2.6-9 7.5-21 5.2-27 3.4-12 4.7-9 5.4-6 6.6-5z"/>
<path fill="#00d8ff" d="M236.3 165l27.7-1.8 33-0.8 30 0.3 18 1.2 15 2.4 42 8 111 19.9 84 17 27 6 6 0.7 18-0.3 12 0.5 24.9 3.9 26.1 1.9 27 3.6 6 0.2 18-1.9 12-0.5 9 0.6 18 2.2 24-0.5 33 0.6 42-6.1 39-2.3 15-1.6 12-2 24-5.4 15-1.2 6.8 0.4 8.2 1.2 7.4 1.8 8.7 3 11.8 6 3.5 3 1.4 3-0.5 3-4.6 6-21.7 19.1-7.9 7.9-4.6 6-3.1 6-2.4 9-0.2 9 1.1 9 3.5 18 0.5 6-0.4 6-3 9-3.7 6-5.2 6-6.8 6-12.8 8.6-37.7 21.4-10.3 4.9-11.2 4.1-88.1 27-20.7 4.3-42 6.1-22.1 4.6-31.9 8.1-9 3.9-14.1 9-12.6 9-11.4 9-6 6-2.3 3-3.2 6-1.4 6-1.5 15-1.6 6-3.9 9-5.7 9-8 9-6.3 5.1-6 3.1-21 6-27 8.8-27 6.6-33 10.5-75 21.6-15 5.7-12 5.4-30.8 17.2-14.2 6.9-9 3.4-9 2.6-21 4.1-24 2.3-42 1.2-48-0.7-24-1-42-3.2-30-3.7-27-4.9-21-6-12-5-9-5.7-3-2.7-4.7-5.6-4.5-9-2.1-9-0.5-9 1.2-12 3-15 0.4-6-0.5-3-3.5-9-15.8-25.4-6.9-13.6-2.1-6.9-1.9-17.1-1.9-9-3-9-5.2-11.5 0-263.3 9 1.5 9 0.6 12-0.4 15-1.4 72-9.8 87-14.5zM768 312l-21 4.5-21 8.8-27.6 7.7-8.2 3-3.8 3-0.9 3 0.3 3 1.3 3 2.4 3 6.5 4.8 9 4.1 9 2.4 9 0.6 48 0.3 30-1.1 24-3.1 7.9-2 8-3 8.1-4.3 6.6-4.7 5.5-6 2.6-6 0.5-3-0.2-3.9-0.5-2.1-2.5-4.9-4.5-4.1-7.5-2.7-15-1.3-33-0.5zM1358.7 186l6.3-1 6 1.3 0 222-6-8.8-2.8-6.5-5.6-27-4-12-4.4-9-15.8-27-7-15-3.7-12-1.7-12 0.3-12 2.3-12 3.9-12 11.5-30.1 4-8.9 5-8.3 6-6.4z"/>
<path fill="#16ffe1" d="M230.2 180l27.8-1.9 27-0.5 33 0.9 24 2 147 24.8 78 14.9 60 7.6 30-0.2 30 3.3 24 1 27 2 9-0.2 21-1.8 12 0.1 39 3.1 33 3.4 12 0.4 24-0.4 33 2.6 15-1.3 18-3.3 15-3.7 21-7.2 6-1.2 6-0.3 6 0.9 6.4 3 2.9 3 1.4 3 0.4 3-0.3 3-2.4 6-15.5 21-2.7 6-1.7 6-0.9 6-0.1 9 3 24 0.3 6-0.4 6-1.5 6-2.8 6-4.2 6-5.9 5.9-3.8 3.1-43.7 27-9.5 4.8-12 4.6-45 13.5-30 11.2-15 4.6-18 3.8-42 6.4-50 11.1-8.6 3-28.4 12.2-31.8 8.8-8.7 3-6.8 3-10 6-7.7 6-8.6 9-3.5 6-1.1 3-0.8 6 2.3 15 0.3 6-1.4 6-1.6 3-2.3 3-6.4 6-8.2 6-8.7 4.9-3 1.3-21 4.7-9 3-17.8 7.1-9.2 2.9-69 17.6-18 5.7-12 5.3-9 5-24.5 17.5-14.8 9-14.7 6-9 2.5-12 2.3-24 2.7-30 1.3-30 0.2-42-1.1-30-1.9-27-2.9-30-4.7-18-4.2-17.4-6.2-12.4-6-8.6-6-2.8-3-1.7-3-1.1-3-1-6 0.9-9 3.5-9 11.3-18 3.1-6 2.5-9-0.4-9-3.3-9-5.7-9-8.9-10.4-15-15-6-8-3-5.7-8.5-20.9-8.6-18-3.8-12-6.1-39.7-3-8.3-3-4.4 0-175.2 36-1.5 20.7-1.9 117.3-19.5 30-4.4zM843 303l-24 1.9-48 1.7-16.7 2.4-10.3 2.1-21.7 9.9-31.1 9-6.8 3-3.5 3-1.8 3-0.7 3 0.1 3 2.6 6 2.9 3.4 6 4.7 9 4.4 7.9 2.5 7.1 1.5 27 1.4 30-0.1 48-2.3 9-0.8 9-1.8 9-3 6-3 6-3.9 6-4.8 6.9-7.2 4.1-6 2.5-6 0.5-3-0.3-6-2-6-4.1-6-3.7-3-3.9-1.9-6-1.5-6-0.2zM1369.2 213l1.8-0.6 0 137-4.6-7.4-16-21-7.3-12-4-9-2.8-9-1.5-9-0.3-6 0.7-9 1.8-9 4-11.6 4.5-9.4 4.5-7.5 6-7.6 6-5.3z"/>
<path fill="#33ffc4" d="M243 192l21-1 18 0.1 24 1.2 21 2.1 84 12.5 72 11.4 72 12.4 15 2 54 2.5 30 0.3 39 2.9 45 1.2 39-1.9 27 2 12 1.8 39 8.4 19.3 5.1 7.7 3.1 3.6 2.9 2.1 3 1.8 6-0.7 6-1.5 3-2.6 3-5.7 3.2-39 10.5-12 2.5-15 1.6-45 2.7-24 3.6-6 2.2-13.3 6.7-7.7 3.2-30 8.9-6 2.9-4 3-2.5 3-1.6 3-0.7 3 0.1 3 2.2 6 3.5 4.7 6 5.5 6 3.6 9 3.6 12 3 12 1.3 24 1.3 81-1.2 15-1.4 9-3 6-3.5 6-4.4 23.2-21.5 6.3-9 7.9-18 3.5-6 5.2-6 19.9-19.4 6-5.3 7.9-5.3 7.1-3.4 9-2.6 6-0.3 3 0.5 3 1.5 3.1 4.3 1.6 6 2.8 18 4.1 21 0.8 9-0.5 6-1.7 6-1.4 3-2.8 4.2-4.7 4.8-39.2 27-9.9 6-9.2 4.1-12 4.1-30 7.4-9 2.8-9 3.9-15.3 7.7-14.7 5.9-21 5.2-36 5.4-45 9.6-15 3.8-21 7.3-12 3.5-42 7.6-9 2.8-39 16.6-24 8.2-15 2.8-30 2.5-9 2.3-8.8 3.5-11.4 6-9.8 6-3.7 3-2.1 3-0.4 3 1.2 3 2.5 3 8.5 6.1 12 5.5 19.5 6.4 4.9 3 2.2 3 0.4 3-0.8 3-1.8 3-3 3-6.4 2.7-15 2.5-9 2.3-27 8.9-30 5.9-15 5.4-9 4.9-9 6.7-20.5 20.7-6.9 6-8.6 6-6 3.1-7.1 2.9-10.7 3-9.2 1.8-27 3.2-27 1.2-42 0-39-1.7-27-2.3-31.7-5.2-22.3-5.1-9-3.3-6-2.8-10.5-6.8-6-6-1.9-3-1.8-6 0-3 1.4-6 4.8-9 8-10 14.7-14 5-6 1.4-3 1-6-0.2-3-1.7-6-3.1-6-13.6-21-15.5-31.7-8.1-13.3-11.6-15-16.2-15-6.6-9-5.5-11.6-8.2-24.4-3.6-9-18.2-33.9 0-124 18-2.9 42-3.5 78-14.4 45-7 30-3.6zM1369.2 234l1.8-1.2 0 92.8-9.1-10.6-7.5-12-4.6-12-1.7-12 0.9-12 1.5-6 2.5-6.6 3-5.8 3.8-5.6 5.2-5.7z"/>
<path fill="#50ffa7" d="M239.5 204l15.5-0.9 15-0.2 18 0.9 18 1.7 18 2.7 42 7.5 39 4.4 90 12.8 54 8.3 15 1.7 18 0.5 54-1.2 18 0.6 30 2.1 33 0.5 21-0.2 30-1.6 15-0.1 18 1.4 15 3.5 24.3 9.6 5.2 3 3.6 3 2.2 3 1 3 0.1 3-0.9 3-1.8 3-2.8 3-8.7 6-7.2 2.9-6 1.6-21 3-45 3.7-12 1.8-7.5 2-7.1 3-15.4 7.7-30 9.5-8.9 3.8-4.5 3-5.7 6-1.4 3-0.6 3 0.2 3 0.8 3 3.3 6 7.8 8.5 9 6 12 4.5 15 3 27 2.8 15 0.3 42-0.9 12 0.6 15 1.7 12 2.5 6 2.6 2 1.4 1 2.9-0.7 3.1-4.4 6-7.4 6-11.5 6-15 4.9-9 2-24 3.5-15 2.8-48 10.9-36 9.9-48 6.8-30 9.7-39 10.3-15 3.2-33 5.5-49.9 14.5-8.1 3-6 3-9.4 6-31.6 22.4-6 3.5-9 3.4-12 1.6-24-0.8-12 0.5-12.6 2.4-8.6 3-6.4 3-4.6 3-1.4 3 3.6 3 16.1 9 10.9 5.2 6 1.7 15 2.7 6 2.1 4.2 3.3 2 3 1 3 0.5 6-1.5 9-3.5 9-3.6 6-4.8 6-6.3 5.5-6 3.6-7 2.9-8 2.2-12 2.4-30 3.9-18 0.7-45-0.1-45-2.5-15-1.5-15-2.7-32.4-8.4-7.9-3-4.7-2.8-3.7-3.2-2.4-3-1.7-3-1.4-6 0.2-3.3 2-5.7 4.1-6 8.9-8.2 24-17.8 20.4-13 3.2-3 1.7-3 0.6-3-1.1-6-3.4-6-4.8-6-7.6-7.5-15.4-13.5-5.1-6-3.5-6.6-7.2-17.4-3.4-6-4.4-6-9.9-9-35.1-25.5-8.3-7.5-5.3-6-7.7-12-14-30-9.7-18-9.4-15-8.6-10.4 0-88.7 9-2.5 12-2.3 40.1-4.1 73.9-14.3 21-3.5 39-5.4zM1368.6 255l2.4-3 0 55.4-4.7-7.4-2.6-6-1.8-6-0.9-6 0.3-9 1.3-6 2.4-6zM947 318l4-0.6 3 0.5 3 1.7 1.4 1.4 1.9 3 0.8 3 0 3-0.9 3-2.1 3-3.1 3-13 11-11.7 13-6.3 6.1-6 4.3-6 3-9 3.2-9 2.2-9 1-6-0.2-6.2-1.6-2.8-2.9-0.2-3.1 0.9-3 3.4-6 4.8-6 6.1-5.3 18-11.7 13.8-7 22.2-14.2z"/>
<path fill="#6dff8a" d="M220.2 216l25.8-1.9 15-0.6 15 0.5 15 1.4 21 3.1 39 8.9 15 2.6 36 3.6 93 10.9 51 7.3 15 1.5 21-0.2 36-3.6 12-0.6 48 2.6 18 0.4 21-0.1 48-2.2 18-0.3 15 1 7.6 1.7 7.8 3 5.9 3 9.2 6 3.2 3 2.3 3.8 0.6 2.2-0.1 3-1.2 3-2.5 3-5.8 3.1-10.5 2.9-10.5 2.1-48 5-9 1.5-9 2.2-9 3.8-15 7.7-30 10-9 3.9-6 3.7-6 5.1-3 4.6-1 4.4 0.4 3 2.5 6 4.2 6 5.5 6 9.4 7.3 6 3.1 6 2.3 15 3.6 36 4.9 12 0.6 39-0.8 9 0.8 9.1 2.2 6.7 3 3.3 3 0.5 3-1.4 3-2.9 3-4.2 3-5.9 3-9 3-38.2 6.7-19.3 5.3-67.7 16-51 6.7-24 6.1-27 5.5-24 5.9-41.4 7.8-54.6 14.7-39 13.3-42 11.6-21 3.5-39 4-69 12.1-12 0.2-9-1.7-9-3.8-9-6.4-8.9-8.5-19.7-21-9.2-9-10.4-9-26.2-21-12.8-9-20.8-11.7-12-7.4-12-8.6-9-8.1-5.6-6.2-4.2-6-17.2-33-10.9-18-11.3-15-13.8-14.6 0-58.3 3-1.5 9-3.2 9-2.2 42-5.9 81-16.1 48-6.9zM194.3 567l6.7-1.5 6-0.5 6 0.2 15 2.1 21 0 9 1.7 24 7.1 27 3.9 12 2.9 15 5.5 5 2.6 4.3 3 2.9 3 2.9 6 0.4 3-0.9 6-3.3 6-3.2 3-5.1 2.8-10.5 3.2-25.5 5.7-12 1.8-9 0.7-48 0.3-12-0.4-42-2.9-15-2.1-10.3-3.1-14.3-6-10.5-6-3.2-3-1.7-3-0.4-3 0.5-3 1.3-3 4.8-6 9.8-7.8 7.4-4.2 7.6-3.2z"/>
<path fill="#8aff6d" d="M228.4 225l29.6-1.8 12 0.3 12 1 15 2.1 12 2.4 39 10.9 16 3.1 137 13.1 45 6.6 12 1.2 9 0.2 12-0.7 39-6 12-1.2 39 2.1 21 0.4 24-0.2 45-2.4 21-0.3 12 0.7 7.7 1.5 6.8 3 4.3 3 3.2 3 1.9 3 0.8 3-0.9 3-3 3-5.3 3-9.5 3-24 3.7-21 2-12 2.3-9 2.7-20.3 10.3-33.7 12.4-11.3 5.6-6.7 4.6-4.6 4.4-2 3-1 3-0.3 3 0.3 3 2.5 6 4.5 6 5.5 6 10.1 9 6 3.7 6 2.7 12 3.7 51 9.6 9 0.6 12-0.7 25 1.4 2 0.3 3 2 0.5 0.7-0.5 2.1-0.3 0.9-5.7 3.1-33 7.4-21.5 7.5-10.5 3-49.3 12-17.7 3.4-45 5.3-24 4.8-24 4-27 6.3-30 5.3-96 24.4-39 8.1-15 2.4-15 1.6-36 1.4-27 2.5-24-1.5-21-0.5-6-1-3-1.2-3-2.2-13.9-15.1-11.6-9-26.5-15-32-16.3-39-22-15-9.6-11.4-9.1-9-9-6.6-8.9-19.1-33.1-12-18-9.7-12-16.5-18-5.7-7.8 0-19.5 3-3.2 6-4.1 11.2-4.4 12.4-3 36.4-7.1 42-9.5 36-7.1 48-7zM202.7 585l16.3-0.7 24 0.9 15 1.6 30 5 12 3.1 5.7 2.1 5.9 3 4 3 2.4 3 0.7 3-1.1 3-2.9 3-10.2 6-10.5 3.9-6 1.4-6 0.5-24-0.9-30 1.3-30-3.6-24-1.5-4.7-1.1-5.8-3-3.6-3-2.3-3-1.3-3-0.3-3 0.8-3 2.2-3.3 6-4.6 6-2.8 9-3 12-2.7z"/>
<path fill="#a7ff50" d="M220.3 234l34.7-2 12 0.2 12 1.1 15 2.3 12 2.8 36 12 9 2.4 9 1.6 18 1.9 48 3.7 36 3.7 42 3.1 15 2.1 27 4.9 12 1.4 9 0.2 9-0.6 42-8.6 15-1.4 30 1.4 33 0.2 24-0.4 30-1.9 21.9-0.1 8.1 0.9 8.7 2.1 4.3 3 0.6 3-2.9 3-6.6 3-8.6 3-4.5 0.9-15 0.9-21 4.5-6 1.8-6 2.7-12.9 7.2-19 9-16.1 5.9-9 4.2-12.6 7.9-3.3 3-4.2 6-1.4 6 1 6 1.4 3 2 3 5.5 6 11.6 11.4 6 4.8 6 3.7 9 4 12 3.5 18 3.1 7.1 2.5 6.4 3 4.9 3 2.4 3-0.2 3-2.4 3-4.3 3-6.3 3-13.6 4.5-45 10.7-12 1.8-39 3.9-45 7.6-27 5.8-33 5.5-51 12.6-51 10.5-24 3.5-21 2.1-18 0.6-18-0.7-18-1.8-15-2.4-21-5-15-4.5-12-4.9-18-8.5-33-9.2-30-11.8-27-13-27-15.5-9.8-6.8-8.2-6.7-8.4-8.3-7.5-9-8.1-12-18.2-30-20.5-30-3.6-6-2.5-6-0.4-3 0.3-3 1.4-3 2.8-3 4.2-3 13.3-6 19.2-6 42.7-12 33.3-7.3 48-7.7z"/>
<path fill="#c4ff33" d="M210.7 243l41.3-2.7 15 0.4 12 1.1 12 2.1 12 3 12 4.1 24 9.5 6 1.8 9 1.9 42 3.7 30 2.1 33 3.7 45 3.5 12.1 1.8 29.9 6.7 15 2 9 0 9-1.1 36-9.8 9-1.6 9-0.8 9 0.1 15 1.2 30.6 0.3 14.4 1.3 9 1.7 3.2 3-1.5 3-6.3 6-8.1 6-11.3 7.3-18 7.6-21.7 12.1-3.8 3-5.4 6-2.7 6-0.4 3 0.2 3 1.9 6 3.9 6 6 6 19 16.4 9 5.9 6 3 15 5.8 12 2.8 5.5 2.1 1.9 3-0.8 3-3.4 3-7 3-28.8 9-15.4 4.1-45 4.4-12 1.6-60 11.1-33 5.3-48 11.2-15 2.9-42 7-27 2.4-18 0.5-15-0.5-15-1.5-12-2.1-12-2.8-24-7.4-21-5-30-9.8-24-5.7-15-4.4-24-9-24-11.6-12-6.8-12.3-7.9-7.9-6-6.7-6-8.5-9-7.1-9-8.1-12-7.2-12-10.1-18-5.9-12-3-9-0.6-6 1.3-6 1.6-3 2.6-3 3.7-3 4.9-3 12.2-6 22.7-9 21.2-6 27.6-6 33.6-5.9z"/>
<path fill="#e4ff13" d="M235.5 249l25.5-0.5 21 2 12 2.6 9 2.7 12 4.5 21 9.1 12 3.5 78 6.1 33 4.3 39 3.9 15 2.6 36 9.6 15 2.6 9 0.2 9-1.1 9-2.7 24-9.6 6-1.6 9-1.5 9-0.4 6 0.3 18 2.4 9 2.3 1.6 0.7 2.1 3-1 3-2.8 3-11.3 9-18.6 9.4-12.2 8.6-5.1 6-1.3 3-0.7 6 0.4 3 1.8 6 3.2 6 4.5 6 6.4 6.1 35 26.9 3.1 3 1.5 3-0.6 3-2.9 3-4.7 3-7.4 3.4-9 2.5-48 5.4-54 10.6-50.1 8.1-48.9 10.5-45 6.3-21 1.5-18 0.2-15-0.7-15-1.5-15-2.6-15-3.7-21-6.3-27-6.1-51-13.6-21-6.6-21-8.5-20.5-10.9-17.6-12-7.1-6-6.1-6-7.6-9-6.3-9-9-15-6.3-12-3.7-9-2.5-9-0.5-6 0.9-6 2.3-5.4 2.4-3.6 6.6-6.5 7.8-5.5 5.4-3 13.8-5.5 30-8.1 30-6.3 27-4.4z"/>
<path fill="#ffea00" d="M224.1 258l15.9-1.3 15-0.3 15 0.7 12 1.5 10.5 2.4 10.5 3.4 30 12.8 9 3.1 9 1.2 27 1.6 48 4.2 63 9.1 15 3.1 12 3.3 54 18.2 24 4.3 3.7 1.7 3.1 3 12.8 27 10.4 16.5 14.7 19.5 1.7 3-0.1 3-2.9 3-5.8 3-7.6 3-36 10.8-17.8 4.2-27.2 4.8-45 6.7-45 8.5-42 5-15 1.2-18 0-18-0.9-15-1.5-15-2.4-75-17.8-33-8.7-18-5.5-21-8-18-8.8-17.4-11.6-13.6-12-7.6-9-6-9-4.8-9-5.4-12-3.4-9-1.5-6-0.7-6 0.5-6 1.8-6 1.5-3 4.6-6 3.4-3 4.5-3 11.1-5.1 19.8-6.9 21.9-6 27.3-5.7zM625.5 306l1.5-0.7 3.5 0.7-2.2 3-1.3 0.4-2.4-0.4z"/>
<path fill="#ffc800" d="M220.6 267l16.4-1.8 15-0.6 15 0.4 12 1.3 9 1.7 9 2.7 33 13.3 12 3.4 9 1.2 33 2.2 45 4.8 45 7.9 15 3.5 12 3.5 20.5 7.5 24.5 9.9 24 12.2 12 5.3 6 3.6 5.9 5 3.1 3.5 6 8.4 3.3 6.1 2.5 6 1.4 6 0 6-0.8 3-3.4 5.8-3 2.9-9 5.9-12 5.1-15 4-27 4.6-48 6.7-39 6.1-30 3-24 1.7-18 0-18-0.9-18-1.9-15-2.2-18-3.6-42-9.6-48-12.8-23.5-8.8-18.5-8.8-14.8-9.2-11-9-5.9-6-5-6-7.5-12-2.8-6-3.2-9-2-9-0.5-6 1.3-9 2.7-6 2.1-3 6.4-6 9.6-6 13.1-6 14.5-5 24-6.2z"/>
<path fill="#ffa700" d="M223 276l14-1.8 15-0.7 15 0.2 15 1.5 12 3 30 11.2 15 4.1 12 1.6 36 2.9 33 4 33 6.3 26.4 6.7 16.9 6 43.7 18.6 18 8.7 18 9.8 9 7.3 3.1 3.6 2.9 4.7 2.6 7.3 0.3 6-0.6 3-3.1 6-6.4 6-5.2 3-5.6 2.3-12 3-42 6.6-63 7.3-24 2.1-33 1.8-18 0-18-0.8-18-1.7-21-3.1-45-9.2-48-13.1-18-7-18-9-14.8-9.2-9.2-7.3-10.2-10.7-6-9-2.9-6-2-6-1.4-9 0.8-9 2.1-6 1.6-2.9 4.9-6.1 7.4-6 10.5-6 13.2-5.4 18-5.7z"/>
<path fill="#ff8600" d="M234.4 285l11.6-1.1 15-0.6 12 0.3 9 0.9 9 2.1 27 8.8 15 3.7 15 2.2 42 4 21 2.9 24 4.8 27 7.1 11.5 3.9 12.5 5.2 27 13.4 27.1 11.4 20.9 10.9 9.8 7.1 5 6 2.1 6 0.1 3-0.6 3-1.5 3-2.8 3-6.1 3-12.9 3-35.1 6.4-78 6.5-48 1.9-30-0.2-36-3.7-36-6.4-27.7-7.5-23.3-7.4-12-4.6-11.7-6-14.5-9-11.8-9-9-9-6.4-9-3.6-9-0.4-9 1.5-6 1.9-4 3-4.5 6.6-6.5 8.9-6 12.1-6 16.3-6z"/>
<path fill="#ff6400" d="M245.5 297l18.5-1.9 9-0.1 9 0.8 9 1.5 27 6.3 12 2.1 51 5.6 21 3 15 3.1 13.4 3.6 19.6 6 15.6 6 11.7 6 23.7 13.5 26.8 13.5 9.2 6 3.4 3 2.4 3 1.3 3-0.3 3-2.3 3-4.3 3-6 3-9.2 3.4-9 2.1-36 1.3-42 3.2-33 1.2-24 1.6-21-0.3-30-2.9-23-3.6-19-4.3-13.9-4.7-15.5-6-13.6-6-10.9-6-8.6-6-10.3-9-7.5-9-3.4-6-1.8-6-0.3-3 0.7-6 2.6-6 4.7-6 7.2-6 10.6-6 9-3.3z"/>
<path fill="#ff4300" d="M262.3 312l7.7-1.4 9-0.8 18 0.7 63 5.6 33 4.6 14.9 3.3 9.4 3 15.2 6 13.5 6 10.9 6 7.9 6 9.1 9 4.4 6 1.4 3 0.3 3-1.3 3-3.9 3-7.4 3-11.1 3-24.3 4.3-30 2.6-24 3.1-18 0.5-27-2-17.8-2.5-15.2-3.4-9-2.7-9-3.5-11.3-5.4-10.3-6-12-9-5.6-6-3.9-6-2.3-6-0.8-6 1-6 1.4-3 4.8-5.9 4.2-3.1 5.8-3z"/>
<path fill="#ff1e00" d="M308.9 324l21.1-1.9 18 0.4 27.8 4.5 23.2 4.8 10.3 4.2 5 3 7.8 6 5.2 6 1.7 3 0.8 3-0.1 3-1.1 3-2.4 3-4.1 3-6.4 3-16.7 4.8-21 4.4-15 1.4-15-0.3-18-1.9-15-3.4-6.1-2-8.9-3.8-6-3.4-6.6-4.8-3.2-3-4.7-6-2.5-6-0.3-3 0.2-3 1.1-3 1.9-3 5.1-4.3 3-1.8 7.1-2.9z"/>
<path fill="#e40000" d="M333.5 333l8.5-1.1 9 0.8 12.2 3.3 8.5 3 7.4 3 5.8 3 2.1 1.7 1.5 1.3 1.5 3-0.2 3-1.8 3-3.5 3-3.5 1.9-9 3.7-6 1.4-9 1.3-9 0.1-9-1-9-2.4-6-2.8-3.5-2.2-3.2-3-2.3-3.5-0.9-2.5-0.2-3 0.8-3 1.9-3 3.2-3 5-3z"/>
<use href="#coast" class="cl"/>
</g><rect width="1371" height="675" fill="none" stroke="#000" stroke-width="3.33"/></g>
<rect x="58.20" y="831.5" width="49.56" height="68.0" fill="#000092"/>
<rect x="107.16" y="831.5" width="49.56" height="68.0" fill="#0000bb"/>
<rect x="156.13" y="831.5" width="49.56" height="68.0" fill="#0000e3"/>
<rect x="205.09" y="831.5" width="49.56" height="68.0" fill="#0000ff"/>
<rect x="254.06" y="831.5" width="49.56" height="68.0" fill="#0024ff"/>
<rect x="303.02" y="831.5" width="49.56" height="68.0" fill="#0048ff"/>
<rect x="351.99" y="831.5" width="49.56" height="68.0" fill="#006cff"/>
<rect x="400.95" y="831.5" width="49.56" height="68.0" fill="#0090ff"/>
<rect x="449.91" y="831.5" width="49.56" height="68.0" fill="#00b4ff"/>
<rect x="498.88" y="831.5" width="49.56" height="68.0" fill="#00d8ff"/>
<rect x="547.84" y="831.5" width="49.56" height="68.0" fill="#16ffe1"/>
<rect x="596.81" y="831.5" width="49.56" height="68.0" fill="#33ffc4"/>
<rect x="645.77" y="831.5" width="49.56" height="68.0" fill="#50ffa7"/>
<rect x="694.74" y="831.5" width="49.56" height="68.0" fill="#6dff8a"/>
<rect x="743.70" y="831.5" width="49.56" height="68.0" fill="#8aff6d"/>
<rect x="792.66" y="831.5" width="49.56" height="68.0" fill="#a7ff50"/>
<rect x="841.63" y="831.5" width="49.56" height="68.0" fill="#c4ff33"/>
<rect x="890.59" y="831.5" width="49.56" height="68.0" fill="#e4ff13"/>
<rect x="939.56" y="831.5" width="49.56" height="68.0" fill="#ffea00"/>
<rect x="988.52" y="831.5" width="49.56" height="68.0" fill="#ffc800"/>
<rect x="1037.49" y="831.5" width="49.56" height="68.0" fill="#ffa700"/>
<rect x="1086.45" y="831.5" width="49.56" height="68.0" fill="#ff8600"/>
<rect x="1135.41" y="831.5" width="49.56" height="68.0" fill="#ff6400"/>
<rect x="1184.38" y="831.5" width="49.56" height="68.0" fill="#ff4300"/>
<rect x="1233.34" y="831.5" width="49.56" height="68.0" fill="#ff1e00"/>
<rect x="1282.31" y="831.5" width="49.56" height="68.0" fill="#e40000"/>
<rect x="1331.27" y="831.5" width="49.56" height="68.0" fill="#bb0000"/>
<rect x="1380.24" y="831.5" width="49.56" height="68.0" fill="#920000"/>
<rect x="58.5" y="831.5" width="1371.0" height="68.0" fill="none" stroke="#000" stroke-width="3.33"/>
<path d="M58.50 899.5v14.6M205.39 899.5v14.6M352.29 899.5v14.6M499.18 899.5v14.6M646.07 899.5v14.6M792.96 899.5v14.6M939.86 899.5v14.6M1086.75 899.5v14.6M1233.64 899.5v14.6M1380.54 899.5v14.6" stroke="#000" stroke-width="3.33" fill="none"/>
<text x="58.50" y="960.5" class="tk">0</text>
<text x="205.39" y="960.5" class="tk">15</text>
<text x="352.29" y="960.5" class="tk">30</text>
<text x="499.18" y="960.5" class="tk">45</text>
<text x="646.07" y="960.5" class="tk">60</text>
<text x="792.96" y="960.5" class="tk">75</text>
<text x="939.86" y="960.5" class="tk">90</text>
<text x="1086.75" y="960.5" class="tk">105</text>
<text x="1233.64" y="960.5" class="tk">120</text>
<text x="1380.54" y="960.5" class="tk">135</text>
<text x="744" y="1073.0" class="tt" xml:space="preserve">Ionosphere  (h=450.0 km), 2000-04-19 20:00 UT</text>
<g transform="translate(58.5,1098.5)"><g clip-path="url(#cp)" shape-rendering="geometricPrecision">
<rect width="1371" height="675" fill="#0000bb"/>
<path fill="#0000e3" d="M0 0l1371 0 0 675-685.6 0-4.4-1.3-9-0.6-9 0.6-8.3 1.3-654.7 0zM738 608.7l-5.2 3.3-2.9 3-2.2 3-2.5 6-0.6 6 0.8 3 2.2 3 4.4 2.2 3 0.4 6-0.5 6-2 3-1.7 3-2.4 3-3.4 2.3-4.6 0.7-3 0-3-0.7-3-1.7-3-3.6-3.1-6-1.8-3 0zM918 572.9l-6 1.8-6 2.8-6 3.9-3.6 3.6-2.4 4.4-0.5 4.6 1.3 3 2.7 3 4.9 3 6.6 1.9 6 0.3 6-0.8 36.9-10.4 7-3 3.9-3 1.4-3-1-3-3.4-3-6.2-3-8.6-2.5-9-1.5-9-0.6-9 0.5zM1062 89.9l-21 2.8-9.8 3.3-4.1 3-2 3-0.5 3 0.6 3 1.8 3 2 2 6.6 4 22.5 9 15.9 5.5 12.8 3.5 14.4 3 23.8 4.4 12 1.4 9-0.1 6-0.9 6.9-1.8 7.2-3 5.3-3 7.7-6 4.8-6 1.3-3 0.7-3-0.1-3-1-3-1.8-3-2.8-3-3.9-3-6.3-3.6-6-2.5-9-2.7-15-2.4-21-1.3-33-0.6zM1209 359.8l-24 6.2-12 4.5-9 4.7-42 25.2-9 2.8-15 1.4-1.4 0.4-1.6 1.6-0.7 1.4 2.2 3 4.5 2.1 30 8.6 9 3.5 9 4.8 6.3 5 4.7 6 1.2 3 0.3 3-0.8 3-2.1 3-3.6 3-6.1 3-8.9 1.8-18 0.8-12 2.5-30 11.3-6 3.1-6 4.1-6.9 6.4-4.6 6-3.2 6-2 6-0.5 6 0.9 6 2.9 6 4.4 4.9 6.4 4.1 8.6 2.7 12 1.5 12 0.4 12-0.6 27-3.9 18-2 60-4.6 27-4 15-3.9 6-2.5 7.2-4.1 4.8-3.7 5.2-5.3 2-3 2.1-6 0.1-3-1-6-4-9-12.8-21-3.4-9-0.8-9 2.3-24 0.2-12-1.4-9-3.5-8.7-6-9-6-6.7-6-5.1-6-3.7-6-2.1-6-0.6-6 0.6zM1161 275.4l-6 3.1-3 2.7-2.1 3.8-0.4 3 1.4 6 3.3 6 3.8 4.2 6 3.9 3 1.2 6 0.9 6-0.4 6-1.4 6.6-2.4 5.8-3 3.8-3 2.3-3 1.1-3 0.2-3-0.6-3-1.4-3-2.4-3-4.1-3-8.3-3.4-9-1.9-9-0.2zM1071 593.3l-3 1-4.1 2.7-0.9 3 1 3 2.1 3 6.6 6 7.3 4.6 2.9 1.4 3.1 0.7 9-0.2 15-2.4 9-0.6 6 0.4 12 2.2 6 0.5 4.2-0.6 16.8-4.7 6-0.4 6 1 13.7 4.1 7.3 0.9 4-0.9 2.9-3 0.3-3-1.3-3-4-3-7.9-2.3-6-0.4-12 0.7-6-0.1-21-3.6-21-2.1-21-4.4-12-1.6-12-0.1z"/>
<path fill="#0000ff" d="M379.4 3l2.5-3 418 0-13.9 3.1-36 10.4-39 9.6-18 5.5-12 4.9-4.4 2.5-4.6 3.7-3 3.4-2.7 4.9-0.9 3-0.4 6 1.1 6 2.7 6 4.4 6 6.3 6 7.5 5.2 7.6 3.8 7.4 2.8 9 2.3 27 3.8 12 3.2 9 4.1 23.3 13.8 11.9 6 15.8 6 15 4.2 33 6.6 33.1 4.2 23.9 1.2 42-1.2 24 0.5 18 1.5 60 7.9 18 3.6 27 6.9 15 5.2 39 16.2 12 3.4 9 1.2 9-0.4 24-2.4 9-1.5 12-3.8 12-6.4 6.6-4.9 5.6-6 3.1-6 8-21 3.7-8.1 4.2-6.9 5.2-6 5.6-4.6 9-5.2 36-14.2 11.7-6 9.3-7.9 18-19.6 0 612.5-550.6 0 8-6 10.8-6 9.8-4.1 15-4.7 25.5-6.2 43.5-8.5 15-2.5 12-1.2 24-0.9 18 1.1 24 4.2 45 10.4 18 3.3 27 2.6 36 0.8 129-1.6 12-0.6 12-1.8 12-3.3 9.6-5 3.7-3 2.6-3 1.8-3 1-3 0.2-3-0.4-3-2.8-6-5.2-6-4.5-3.6-6-3.7-24-10.2-9-4.9-7.1-4.6-8-6-6.5-6-4.3-6-1.2-3-0.3-3 0.8-3 2-3 6.5-6 21.9-15 26.3-15 8.4-6 5.1-6 1.4-3 0.9-6-1.2-6-2.8-6-20.9-29.7-3.5-6.3-4-9-3.4-12-4.8-30-3.5-15-4.8-13.3-14.3-31.7-6-18-2.4-12-2.5-24-1.8-7.9-5.2-10.1-6.8-10-9-10.6-9-8.2-6-3.9-6-2.6-21-5.1-9-1.2-6 0.6-6 2.1-6 3.4-6 4.3-9 8-6 6.2-6 7.3-4.5 6.7-4.5 9-3.3 12-1.4 12-1.1 21-1.6 9-3.8 9-4.4 6-6.5 6-7.9 4.9-9 3.9-21 7-9 3.5-12 6.3-12 8.1-6.5 5.3-5.7 6-23.8 33-5.5 6-3.5 2.8-9 4.5-6 1.4-9 1-12-0.4-27-4-15-0.4-104.4 10.1-9.6 2.2-21 9.2-19.7 6.6-2.1 3 1.1 3 6.3 6 17.4 12 24 11.5 7.6 6.5 4.2 6 1.1 3 0.4 3-0.4 3-1.1 3-4.5 6-3.3 3-7 4.9-14 7.1-16 5.8-27 7.3-9 3.7-12 6.2-16 10-8 6.3-21 18.3-6 4.2-9 5.2-9 4-21 7.8-27 12.8-30 12.2-12 3.9-12 2.7-95 15.6-436.5 0-11.5-1.3-6 0.4-3 0.9 0-627.9 9-2.8 12-1 12 0.9 24 4.2 12 0.3 69-5.1 33-0.8 30-2.4 30-0.6 48-3.3 12-2.4 30-8.8 40.1-10.3 7.2-3 3.7-2.2zM857.5 0l1.9 0zM971.3 0l56.8 0-5.1 1-9 0.4z"/>
<path fill="#0024ff" d="M492.8 36l14.2-1.9 15 0.6 15 3.3 9 3.3 8.3 3.7 9.7 5.6 6 4.5 4.3 4.9 10.7 15 5.9 6 8 6 34.1 18.5 35.4 20.5 18.6 10 27 12.5 24 9.1 15 3.9 72.3 15.5 26.7 4.3 27 2.7 21 0.6 21-1.2 24-3 39-6.2 18-1.6 12 0 30 1.6 12 1.2 12 1.9 15 3.7 15 5.2 11.1 5.8 9.9 7.6 6.4 7.4 1.8 3 2.4 6 0.9 9-1.6 9-3.3 9-12 27-13.4 36-5.2 10.6-6 8.8-4.5 4.6-4.5 3.2-6 2.7-18 6.5-12 6.7-9 7.3-27 26.9-6 4.9-6 4-9 4.3-15 4.5-15 5.6-24 6.8-21 5.3-39 8.7-69 12.2-24 7-9 2-9 1-18 0.2-3 0.7-6.5 2.5-18.1 9-5.9 3-4.2 3-1.4 3 0.5 3 1.8 3 6 6 9.8 6.8 21 10.3 4.5 3.9 3.4 6 0.7 6-1.7 6-1.9 3-5 5-5.4 4-36.6 22.3-11.8 7.7-23 21-12.2 9-16 8.5-36 15.3-29.5 9.2-18.5 7.7-15 5.3-60 16.5-24 5.4-21.9 4.1-44.1 6.8-19.5 2.2-199.2 0-27.3-0.6-30-2.2-33-0.8-21-2.5-18-4.4-15-6.3-11.3-7.2-3.7-3.2-5.2-5.8-3.8-6-3-6.4 0-545.3 6-3.6 6-2.5 6-1.5 6-0.7 12 0 24 1.9 15-0.3 63-6.1 60-4 87-3.2 30-4.3 15-1.3 27 0.2 12 1.2 24 3.6 9 0.4 6-0.4 9-1.6 9-2.5 9-3.3 30-12.5 15-4.7zM1370.2 108l0.8-1.1 0 497.9-30.4-13.8-20.6-10.7-6-4-3-2.6-2.9-3.7-1.4-3-0.5-3 0.3-3 1-3 1.9-3 2.9-3 4.7-3.6 24-15.3 6.5-5.1 6.1-6 2.4-3.1 3.3-5.9 1.2-6-0.3-3-2.2-6-5.5-9-21.6-27-6.5-9-5.2-9-3.7-9-3.5-12-5.3-27-4-15-4.3-12-12.4-30-6-18-3.6-15-5.9-30-12.3-39-1.5-12 0.6-6 1.4-6 5.3-12 23-38.7 9.3-12.3 8.7-7.9 9-6 12-6.1 33-13.7 6-3.5zM967.1 657l16.9 0 24 3.4 24 5.4 30.1 9.2-161.2 0 13.4-6 15.7-4.8 21-5z"/>
<path fill="#0048ff" d="M310.9 78l19.1-1.1 18 0.4 15 1.5 42 6 15 1 48 1.7 12 1.3 12 2.4 9 2.7 20.8 8.1 42.5 15 35.7 8.5 21 7.1 12 5.4 15 7.9 46.5 28.1 7.5 3.7 9 3.3 18 4.1 36 4.8 18 3.1 18 4.1 33 8.8 15 2.8 18 2.2 12 0.7 15-0.3 15-1.4 42-6.5 12-2.7 30-8.5 9-1.7 9-0.9 12-0.3 15 0.6 15 1.5 12 2.1 12 3.1 9 3.5 6.9 3.9 7.2 6 4.4 6 1.5 3 1.7 6 0.5 6-1 9-3.6 12-5.6 13.6-6.4 13.4-5.6 8.4-6 6.1-6 4.5-6 3.3-18 8-6 3.7-6 5.2-6 6.8-6 8.3-12.5 20.7-8.7 12-8.7 9-9.1 6.2-6 2.7-6 1.9-18 4.9-15 3.3-69 22.1-24 6.1-46.9 9.8-28.1 7.6-12 1.8-21 1.7-21 5.5-9 1.7-24 1.4-3 1-3 2-5 4.3-4.1 6-1.4 6 0.3 3 1.2 3.1 4.5 5.9 18.9 15 2.9 3 4.3 6 1.4 3 1.1 6-1.1 6-1.4 3-4.2 6-5.8 6-17.6 15.8-17.3 17.2-9.7 8.3-9 6.2-9 5.1-12 5.9-15 6.4-12 4.2-21 6-30 10.9-24 7-33 10.8-25 7.2-29 7.4-33.7 7.6-17.3 3.3-18 2.3-33 2.5-15 0.7-27-0.3-30 0.7-57-1.1-27-1.9-30-1.3-57-4.8-12-1.8-9-2.1-15-5.3-6-3-6-3.9-5.9-5-5.3-6-5.6-9-13.2-28.9-6-9.8 0-482 9-5.1 6-1.9 6-1 12-0.3 27 2 12-0.3 12-1.2 45-6.5 57-6 36-2.7 60-2.9zM696 332.9l-9 1.4-4.6 1.7-3.8 3-1.3 3 0.8 3 3 3 5.5 3 9.4 2.8 6 0.6 6.8-0.4 8.2-2.3 5.8-3.7 2.2-3 0.7-3-0.6-3-2.7-3-2.4-1.3-4.8-1.7-4.2-0.6zM750 320.9l-4.6 3.1-2.1 3-0.5 3 1.1 3 3.1 3.7 3 2.3 3 1.2 3 0.2 3-0.5 3-1.5 2.7-2.4 1.8-3 0.6-3-0.7-3-2.3-3-5.1-3-6-0.7zM1367.3 129l3.7-2.5 0 365.2-6.5-11.7-18.4-24-6.1-9-5.1-9-5.2-12-3.6-12-6.1-29.8-4.1-15.2-4.4-12-12.5-29.8-9-27.5-4.2-17.7-5.4-27-1.7-12-0.6-9 0.5-9 1-6 1.5-6 3.3-9 4.2-9 6.5-12 10.3-15 8.6-8.7 9-6.6 9.7-5.7 26.3-13.2zM1370.9 531l0.1 46.3-9-3.9-4-3.4-2.2-3-1.2-3-0.4-3 0.3-3 2.6-6 8.9-12z"/>
<path fill="#006cff" d="M306.2 93l17.8-0.9 15 0 12 0.9 15 2.2 105 20 15 3.7 30 8.4 69 15.5 12 3.4 12 4.3 12 5.1 12 6.1 20.2 12.3 30.8 22.6 6 3.3 6 2.4 6 1.6 9 1.2 30 1.2 15 1.3 30 5.1 12 3 9.9 3.3 32.1 13.9 15 3.9 15 1.5 12-0.4 45-9.2 33-5.5 12-3.4 18-8.6 9-3.3 9-2.1 12-0.9 15 1 15 2.4 15 3.8 9.7 3.9 5.3 3.3 3.1 2.7 2.2 3 1.7 6-0.7 9-3 9-3.3 6.4-3.9 5.6-6.1 6-5 3.2-6.5 2.8-26.5 6.5-4.6 2.5-2.8 3-3.7 6-2.7 6-13.9 39-8 18-3.7 6-4.7 6-3.9 3.8-6 4.1-6 2.7-6 1.8-27 6.3-48 13.7-6 2.2-18 8.2-12 3.9-15 4-39 8.7-24 6.6-12 2.3-27 3.3-24 4.5-24 1.6-6 1-6.7 2.3-6 3-19.7 12-4.1 3-3 3-1.7 3-0.3 3 0.6 3 1.4 3 4.5 6 18 18 4.7 6 1.2 3 0.4 3-0.2 3-1.9 6-5.2 9-8.8 12-10.3 12-9.3 9-7.9 6-9.5 6-11.4 6-14.8 6.6-48 15.7-36 10-27 9.1-84 26.3-27 6.9-23.8 3.4-21.2 2-18 0.9-57 0.6-57-1.2-51-3.2-45.7-5.1-20.3-3.6-9-2.4-9-3.4-9-4.7-6-4.4-6-5.9-5.9-8.6-4.1-9-3-9-2.9-12-4.2-21-2.5-9-4-9-7.8-12-4.6-9.3 0-405.4 9-6.3 6-2.2 6-1.1 12-0.2 24 1.9 15-0.5 18-2.5 27-5.4 63-9.4 48-5.1zM756 314.9l-3 0.3-6 1.7-12 6.2-6 1.9-27 1.1-12 1.6-11.2 2.3-17.4 6-3.6 3-0.3 3 1.5 3 3.1 3 4.7 3 6.5 3 8.8 3 13.9 3.5 6 0.8 9 0.3 13-1.6 20-4.6 15-2.7 15-4.3 6-1.2 24 0.4 30-2.2 6-1.8 3.5-1.6 3.6-3 2.1-3 1-3 0.1-3-0.6-3-1.8-3-4.1-3-3.8-1.2-6-0.9-9-0.1-39 2.6-9-1.5-15-4.6zM1369.1 144l1.9-1.2 0 322.6-11.2-15.4-7.5-12-6.3-12-4.8-12-4-15-5-33-2.8-12-3.5-9-18.4-39-4.7-12-2.8-9-1.9-9-1.8-12-1.5-21 1-15 1.9-9 1.8-6 6.7-15 4.8-8.3 4.7-6.7 7.3-8.3 9-7.5 12.2-8.2z"/>
<path fill="#0090ff" d="M288.6 108l44.4-1.7 9 0.2 11.2 1.5 114.8 25.7 45 11 48 9.5 15 3.4 14.4 4.4 12.6 4.7 12 5.4 15 8 9 5.6 8.6 6.3 24.4 21.3 6 4.2 6 3.1 6 1.8 12 1.2 36-1.1 9 0.3 24 3.2 18 3.3 12 3.6 9 4 9 5.5 12 8.9 9 4.6 15 6.4 9 2.1 9 0.4 12-1.7 9-2.5 21-7.7 42-7.8 12-3 12-4.6 21.1-12.5 5.9-2.4 6-1.2 6-0.1 3.8 0.7 9.2 3 6.3 3 4 3 2.5 3 1.4 3 0.5 3-0.5 3-1.2 3-2.2 3-3.2 3-5.6 3.8-21.4 11.2-7 6-4.5 6-3.1 6-2.2 6-7.1 30-8.6 30-4.6 9-4.5 4.9-3 1.8-17 5.3-49 13.4-18 4.5-6 2.4-15 8.6-6 2.8-23.2 7.3-36.8 9-18 4.9-15 3.2-51 7.5-24 2.2-9 1.6-30 10.2-21 4.3-5.6 2.1-15.4 8-6 2.3-6 1.3-15 1.6-3.8 1.8-0.7 3 2 3 2.5 1.5 2.8 1.5 36.2 13.9 6 3 5.9 4.1 3.1 3.1 4 5.9 2.3 6 0.7 6-0.8 6-3.4 9-5.4 9-7.3 9-6.5 6-12.4 9-13.2 7.6-12 5.5-13.8 4.9-22.2 6.8-42 11.3-48 14.4-21 7.8-42.3 16.7-14.7 5-18 4.6-21 3.1-27 2.2-51 0.9-51-0.6-21-0.9-42-3-33-4.2-22.4-4.1-10.6-2.9-8.7-3.1-11.9-6-7.8-6-5.2-6-4.7-9-2-6-1.8-9-2.8-30-2.5-12-3.4-9-3-6-15.2-23.6-4.8-9.4-1.7-6-0.6-15-1.1-9-3.8-12.8 0-318.5 12-5.4 12-2.8 9-0.5 27 0.3 18-1.3 18-2.9 75-15.6 48-7.4 12-1.4 27-1.3zM864 296.9l-12 2.1-24 6.7-15 3-27 3-9-0.3-15-1.7-6 0.2-6 1.3-15 5.1-6 1.4-24 2.6-39.1 6.7-11.5 3-5.3 3-2.9 3-1.4 3-0.3 3 0.8 3 1.9 3 3 3 4.4 3 6.1 3 8.4 3 8.9 2.3 18 4.1 12 1.6 9 0.1 24-1.5 36-7.4 9-1.2 36-1.5 21 0.7 6-0.5 3-1.1 2.4-1.6 3.6-3.8 4.7-8.2 5.9-15 3.3-6 4.1-5 9.6-7 1.4-3-0.5-3-1.5-1.9-3-1.9-9-2.3zM1368.7 162l2.3-1.5 0 276.3-13.7-22.8-3.9-9-1.8-6-1.2-6-0.9-9-0.1-33-1.7-9-3.9-9-20.8-32.7-7.8-15.3-1.9-6-1-6-1.4-21 0.8-15 2.2-12 4.5-12 6.7-12 6.9-9.2 8.7-8.8 11.1-9z"/>
<path fill="#00b4ff" d="M291 123l39-1.4 12 0.5 9 1.3 66 16.1 45 9.1 51 12.1 42 7.8 15 3.4 12 3.8 15 5.8 15 7 12 6.5 9 5.9 6 4.6 21 20.6 6 4.2 7.5 3.7 10.5 2.9 9 1.1 15 0.5 27-1.1 12 0.3 36 4 9 1.7 12 4.3 9 5.3 13.3 11 5.7 6 2.1 3 1.4 3 0.6 3-0.2 3-1.1 3-2.1 3-3 3-4.7 3.2-5.3 2.8-8.3 3-10.4 2.3-12 1.7-9 0.5-18-0.3-6 0.6-15 4.5-6 1.3-27 3.8-21 4.3-30 4.2-6 1.4-7.5 2.7-5 3-3.3 3-2.2 3-1.1 3 0 3 0.8 3 4.2 6 5.1 4.2 8.1 4.8 9.9 3.9 12 3.4 24 5.1 15 1.7 15 0.1 15-0.6 45-7.3 30-1.2 9 0.2 6 0.9 21 7 6 0.8 3-0.7 3-2.7 2-4.6 4.4-15 4.4-12 4.2-7.1 5.3-4.9 6.7-3.8 9-3.5 21-4.1 21-6.1 6-1.1 3 0.1 3 0.8 3 2.6 1.2 3.1 0.8 6 0 15-0.2 6-1.1 6-1.3 3-2.1 3-3.1 3-9.7 6-25.6 9-15.9 4.8-9 1.9-21 2.7-3 1.4-9.2 10.2-5.1 3-22 9-19.7 6-31 7.7-21.2 4.3-14.8 2.4-63 8.3-30 8-24 4-18 5.8-6 1.3-9 0.8-21-0.7-6 2.2-10 6.9-6.9 6-5.8 6-4.2 6-1.2 3-0.5 3 0.4 3 1.8 3 5.4 3.9 6 2.2 18 3.4 9 2.7 18.7 8.8 4.6 3 3.7 3.3 3 4.6 1.2 4.1 0.2 3-1 6-4.2 9-4.4 6-5.7 6-11.4 9-5.1 3-8.6 3.9-42 12.9-48 12.1-33 9.7-18 7.2-39.9 20.2-11.1 5-10.5 4-10.5 3.1-12 2.4-15 2-15 1.2-54 1.3-54-0.5-39-2.2-30-3.3-30-5.2-12-3.1-9-3.2-10-4.5-9.7-6-6.7-6-3.9-6-2.1-6-1.4-9-0.4-9 0.6-27-1.2-9-2.4-9-5.9-15-10.9-21-3.8-9-2.2-8.6-3.9-21.4-4.1-12-7-13.8-12-18.8 0-256 9-3.4 9.5-2 41.5-3.4 27-4.3 21-4.2 69-15.9 39-7.4 21-2.6zM1368.9 186l2.1-1.6 0 217.5-3.6-5.9-1.4-6 1.6-42-0.2-6-1.2-6-4.2-8.8-20.3-33.2-6.2-12-3.9-12-1-6-0.6-9 0.6-12 1.6-9 2.9-9 4.5-9 4.4-6.6 6-7.1 7.8-7.3z"/>
<path fill="#00d8ff" d="M270.9 141l32.1-2.2 18-0.7 15 0.4 12 1.4 18 3.6 42 10.6 48 8.5 49.4 11.4 46.6 9 15 3.9 15 5.3 18 8.3 17.4 9.5 6.6 4.2 6.2 4.8 2.9 3 7.9 12 4 4.6 6.3 4.4 8.7 3.7 9 2.2 12 1.4 30 0.6 24-0.6 21 1.1 15 1.7 12 0.4 9 1.5 8.4 3 6.6 3.7 6 5.2 3 4 2.2 5.1 0.3 3-0.5 3-1.6 3-3.4 3.7-6 3.7-9 2.9-9 1.5-27 1.2-6 0.8-18 5-30 4.8-21 5.4-21 2-18 2.3-6 1.4-9 3.8-8.3 6.5-4.2 6-1 3-0.2 3 0.7 3 1.5 3 5.3 6 6.2 4.7 7.3 4.3 7.7 3.6 9 3.3 18 4.7 27 5.1 27 1.2 18-1.1 39-5.9 12-0.5 15 0.6 9 1.4 6 2.2 3 1.9 1.9 1.5 2.2 3 0.7 3-0.6 3-2.1 3-3.6 3-12.9 6-15.6 5.2-24 5.6-33 6-39 5-27 4.6-27 6.4-24 4.4-24 5.9-9 0.9-18 0.1-6 0.6-8.8 3.3-18.2 9.8-16.5 8.2-9.8 6-14.1 12-18.7 18-2.4 3-1 3 1.4 3 4.1 2.6 9.3 3.4 17.7 4 36 5.6 6 1.3 6 2.3 2.9 1.8 2.8 3 1.4 3 0.5 3-0.4 3-1.2 3-2.3 3-3.5 3-5.4 3-27 12-8 3-10.8 2.8-27 5.3-36 9.4-15 5-9 4.3-9 5.3-35.1 24.9-11 6-10.9 4.4-9 2.6-12 2.3-30.6 2.7-41.4 1-60-0.5-30-1.5-24-2.7-33-6.1-9-2.5-9-3.3-10.4-5.4-8.2-6-5.5-6-2-3-2.4-6-1.1-6-0.2-6 3.3-27 0.1-12-1.9-12-6.5-27-4.2-32.1-2.6-9.9-2.8-6-3.6-6-18-23-8.8-13-6.6-12-9.3-21-8.3-12.6 0-165.4 18-13.9 12-6.6 18-6.7 36-10.9 57-14.5 60-13 33-5.2zM1369 222l2-1.2 0 94.3-7.2-18.1-4.6-15-3-12-1.3-12 1-12 2.5-9 4.7-9 2.3-3zM900.5 333l5.5-1.1 6-0.4 6 1.1 3 1.5 2.5 1.9 2.2 3 1.2 3 0.2 3-0.5 3-1.5 3-2.7 3-3.9 3-6.5 3.5-6 2.5-9 2.7-6 0.8-4.4-0.5-1.6-0.9-1.7-2.1-1-3 0-6 2.7-10.2 3-4.8 3-2.2z"/>
<path fill="#16ffe1" d="M296.2 156l15.8-1 15-0.2 12 0.8 15 2 15 3.1 33 8.2 54 8.8 39 8.9 43.4 8.4 19.6 4.9 12 4 9 3.9 9.7 5.2 9 6 7.6 6 6.1 6 12.9 18 2.7 3 3 2 15 6.1 12 3.7 6 1 9 0.3 33-3.3 21-0.6 54 3.7 9 1.4 6 2 3.3 1.7 2.7 2.3 2.5 3.7 0.5 3-1 3-2 2.1-3 1.7-12 2.5-30 2.5-22.3 6.2-28.7 5.4-21 6.4-15 0.4-12 1.6-12 0.5-6 1.1-9 3.7-10.8 7.9-6.4 6-5.1 6-1.6 3-0.4 3 0.6 3 3.8 6 6.5 6 8.8 6 10.6 5.8 9 4.1 12 4.3 15 4.3 27 5.6 30 2.2 24-1.6 24-4.1 15-1.1 6 0.1 7 1.4 4.7 3 1.1 3-1.1 3-2.8 3-5.9 3.2-25.5 5.8-70.5 10.6-18.4 4.4-14.6 2.7-69 16-9 1.2-21 1.3-9 1.9-27 11.1-21 7.3-24 13.7-12 5.5-34.4 11.3-46.6 17.8-24 10.8-9 2.9-9 2-32.5 5.5-10.9 3-7.4 3-4.6 3-2.6 3-0.7 3 2 3 5.7 2.1 18 4.9 18 6.2 6 0.4 21-0.9 12 1.5 6 2.1 2.9 1.7 3.2 3 1.7 3 0.9 6-1.7 9-5.4 12-5.7 9-7.6 9-6.6 6-8.7 6-12 5.2-9 2.3-9.4 1.5-38.6 3.2-60 0.6-39-0.9-21-1.3-15-2.1-30-6.5-9-2.5-6.7-2.5-5.7-3-4.2-3-6-6-2.1-3-2.8-6-1.3-9 0.7-6 1.1-4.6 7.8-19.4 1.5-6 0.1-3-1.8-9-7-18-2.5-9-1.3-9 0.4-9 2.2-9 2.6-6 4-6.4 9-11.6 1.5-3 0.1-3-2.4-3-17.2-5-12-5.6-15-10.6-12-11-8.1-9.8-5.9-9-13.9-27-14.1-25.1-6-14.2 0-96.3 36-26.1 24.2-15.3 20.8-10.6 21-7.9 42-11.3 63-12.9 39-5z"/>
<path fill="#33ffc4" d="M308.8 171l24.2 0 15 1.4 12 2 42 9.3 51 8.9 39 8.8 33 5.7 21 5 15 4.4 12 5.1 9 5.7 9 7.4 14.6 14.3 10.8 9 22.8 15 14.8 13.2 6 3.2 6 0.5 18-4.8 3-0.9 15.4-8.2 5.6-1.7 9-0.7 9.7 2.4 4 3 0.1 3-2.9 3-7.9 3.7-9 2-15 1.9-12 3.1-6 0.1-9-1-6 0.3-21 5.7-6 2.4-9 5.1-6 4.7-23.5 20-2.6 3-1.6 3-0.7 3 0.2 3 1.2 3 4.9 6 7.3 6 14.2 9 15.6 8.1 45.2 18.9 4.9 3 1.9 3-1.2 3-4 3-6.5 3-16.2 6-30.6 9-29.5 7.3-30 3.7-12 2.9-24 8.7-18 4.6-27 12.8-18 6-39 9.6-34.3 7.4-43.7 11.1-15 2.6-33 3.8-12 2.2-15 4.5-6.2 2.8-5.8 3.6-6.2 5.4-4.4 6-2.4 6-0.4 6 0.5 3 2.6 6 4.5 6 6.4 6 8.4 5.5 9 3.5 9 1.7 27 3.2 12 2.5 12 3.3 9.8 4.3 3.9 3 2.5 3 1.8 4.1 0.7 4.9-0.3 3-2 6-3.9 6-2.9 3-3.9 3-5.7 3-12 3.1-42 5-69 0.8-42-1.3-12-1.2-15.2-3.4-27.1-9-8.7-4.3-2.1-1.7-2.5-3-2.5-6-0.2-6 1.5-6 3.2-6 14.7-18 3.8-6 2.1-6 0.2-3-0.5-3-2.9-6-4.6-6-10.2-11.3-4.7-6.7-1.6-3-1.9-6 0-6 2.2-5.5 3-3.5 6-4.5 11.9-7.5 7.2-6 4.4-6 1-3-0.3-3-1.4-3-6-6-8.2-6-8.6-4.9-6-2.1-21-3.5-9-3.3-7.9-4.2-7.1-4.9-6-5.1-6-5.9-6.7-8.1-9.4-15-11.9-24-14-26.1-4.2-9.9-2.1-9-5.1-36 0.2-9 1.8-6 3.4-6 7.9-9 10.1-8.5 12-8.9 33-22.7 12-7.6 12-6.4 15-6 18-5.5 24-6 54-10.3 42-4.8 36-1.6z"/>
<path fill="#50ffa7" d="M303.4 186l17.6-0.5 15 0.6 15 1.6 15 2.6 51 11.1 39 7.3 33 9 9 1.6 18 2.1 33 7.2 15 4.8 12 6.6 44.3 33 6.4 6 2 3 0.9 3 0 3-0.8 3-1.5 3-4.5 6-8 9-9.3 9-19.8 15-5.6 6-1 3 0.3 3 1.2 3 4.6 6 10.8 9 16 10.4 24 13.6 8.9 6 3.3 3 2.2 3 0.6 3-1.1 3-2.6 3-4.1 3-11.7 6-7.9 3-23.6 7.2-36 6.3-9 2.2-24 8.1-18 4.4-24 9.7-15 4.3-39 7.8-36 5.1-45 8.4-24 2.9-48 4.2-24 3.9-15 4.4-15 7.6-15 6.1-13.2 6.4-10.8 3.5-6 0.7-6-0.2-6-1.2-6-2.8-3.2-3-1.7-3-0.6-3 0.3-3 1.2-3 2.2-3 4.8-4.1 16.6-7.9 4.4-3.8 1.4-2.2 1-3 0.2-3-1.1-6-2.7-6-6.9-9-3.9-3.3-6-3.3-18-1.5-9-1.4-24-7-18-4.3-8.3-3.2-6.7-3.5-7.9-5.5-6.8-6-5.7-6-9.2-12-5.2-9-20.9-48-4.5-12-2.8-12-1.3-15 0.5-9 2.4-9 4.4-7.9 5.8-7.1 9.4-9 8.8-7.2 21-15.4 18-12.3 12.3-7.1 11.7-5 23.4-7 22.5-6 17.1-3.4 30-4.9 33-3.7zM196.3 567l4.7-1.8 6-1.1 6 0.2 6 1.1 21 6.3 24.7 10.3 11.3 4 34.8 8 10.6 3 8 3 5.1 3 2.8 3 1.2 3-0.6 3-3.3 3-4.6 1.5-29.4 7.5-12.6 2.4-9 0.4-21-0.7-33 1.7-24-1.3-24-0.3-9-1.3-9-3.2-7.1-3.7-7.9-6-2.6-3-1.6-3-0.7-3 0.1-3 2.8-6 5.9-6 8.1-4.7 21-7.4z"/>
<path fill="#6dff8a" d="M283.7 201l25.3-1.1 18-0.1 15 1 18 2.6 33 7.2 36 8.9 27 5.2 27 9.3 24 6.2 9 1.4 24 0.1 12 1.8 12 3.8 18 9.3 15.7 10.4 10.8 9 4.5 6 1.3 3 0.4 6-0.6 3-2.5 6-6 9-5.6 5.5-4.5 3.5-22.5 14.5-3 2.7-2.3 3.8-0.5 3 0.2 3 2.6 6.2 3 3.8 5.3 5 9.7 7.7 28.1 19.3 7.2 6 2.3 3 1.1 3-0.1 3-1.4 3-2.6 3-3.9 3-11 6-7.7 3.2-21.8 5.8-23.2 4.5-27 9-17.4 4.5-21.6 7.1-9 2.3-45 7.5-36 2.9-33 5.2-42 3.8-18 0.9-42-0.5-12-1.3-9-1.9-9-3-24-9.7-25.7-13.3-7.3-2.8-9-2-27-3.1-27-5.2-6.1-1.9-6.4-3-4.9-3-7.6-6-6.1-6-7.6-9-6.1-9-4.9-9-3.8-9-4.2-12-11.8-42-1.3-9 0-6 0.6-6 1.5-6 4-9 4-6 4.9-6 9.3-9 11.4-9 14.1-9.7 18-10.8 12-5.3 38.4-13.2 15.6-3.8 48-7.7 18-1.5zM200.6 594l9.4-1.6 6-0.3 6 0.2 9 1.6 8.1 3.1 4.8 3 2.7 3 0.2 3-2.6 3-5.6 3-10.6 2.7-6-0.4-21-3.4-18-1-4.1-0.9-1.9-2.4-0.3-0.6 1.7-3 4.4-3 7.5-3z"/>
<path fill="#8aff6d" d="M269.8 216l27.2-1.7 24-0.5 15 0.4 15 1.7 28.2 6.1 19.8 4.9 24.8 7.1 86.2 20.4 6 0.8 24-1.3 9 0.9 6 1.2 12 3.8 14.9 7.2 12.1 8.3 6.3 6.7 2.6 6 0.5 3-0.7 6-2.3 6-1.8 3-5.8 6-8 6-17.8 10.6-4.8 4.4-3.4 6-1 6 0.2 3 2.1 6 4.6 6 29.7 24 6.4 6 3.8 6 0.6 3-0.3 3-1.5 3-2.5 3-6.9 4.9-8.7 4.1-7.9 3-7.4 2-18 3.5-30 10.9-39 9.8-51 6.7-33 0.8-30 4.2-27 1.1-27 1.8-15-0.2-24-1.8-18-2.3-12-3.2-18-6.2-18-4.5-30-9.5-21-3.8-44.2-6.3-5.8-3-3.8-3-6-6-7.1-9-6.2-9-4.9-8.4-7-15.6-5.2-18-5.6-27-1.1-9 0.1-6 1.5-9 2.1-6 3.2-6 4.2-6 5.4-6 6.8-6 7.6-5.5 9-5.4 21-9.9 21-7.7 27-11.3 6-1.5 24-4.1 27-6.1z"/>
<path fill="#a7ff50" d="M269.4 231l21.6-1.9 21-0.9 18 0.1 15 1.1 24 4.9 39 10.1 48 9.5 18 2.5 36 6.7 9 0.8 21 0.6 12 1.4 12 3.2 12 5.2 7.2 4.7 5.8 6 2.8 6 0.4 3-1 6-3.2 6-5.8 6-6.2 4.5-14.1 7.5-7.4 6-2.4 3-3.2 6-1.6 6-0.2 6 1.5 6 1.5 3 4.6 6 18.3 15 8.9 9 3.1 6 0.2 3-0.7 3-1.7 3-3 3-4.3 3-5.5 2.6-21 5.9-20.9 9.5-9.1 3.5-30 6.4-15 2.1-42 4-33 0-30 3.1-27-0.1-24 1.2-21-1-27-3-12-2.2-27-7.3-45-11.3-15-2.7-15-4.3-29.8-6.4-6.2-2.7-3-2.5-15-19.7-8.9-14.1-6.5-15-5.1-18-1.8-9-1-9 0.6-12 1.5-6 2.5-6 6.2-9 3.5-3.6 6.7-5.4 15.7-9 16.6-7.1 27-9.2 24-7.4 18-4 27-6.8 12-1.8z"/>
<path fill="#c4ff33" d="M308 243l22 0.2 21 2.2 18 3.2 30 6.7 75 9.7 33 5.7 39 5.3 13.5 3 10.5 4.4 5.9 4.6 3.1 5.2 0.8 3.8-1.3 6-1.6 3-3.9 4.1-3 2-15 6.4-6 4-4.7 4.5-4.5 6-4.5 9-2.8 9-0.9 6 0.5 6 3 6 5.7 6 14 12 4.5 6 0.8 3-0.4 3-1.8 3-7.9 6-28.2 18-8.8 3.1-21 3.1-15 1.6-42 2.9-36-0.2-30 1.8-54-0.6-18-1.4-21-2.9-21-4.4-52.7-15-22.3-8.3-7.1-3.7-25.9-16.5-18-9.3-9-5.7-5.3-4.5-2.7-3-7-10.8-5.8-13.2-2.7-9-1.3-9 0.6-9 3.2-9 4.3-6 7.3-6 9.4-5.4 18-9.3 7.8-3.3 25.4-9 17.8-5.2 24-4.8 33-5.2 33-3.8z"/>
<path fill="#e4ff13" d="M297.8 258l20.2-0.4 24 1.2 54 6.6 48 4.3 26.9 3.3 15.1 2.4 30 6.4 24.9 9.2 6.8 3 4.2 3 0.8 3-2.1 3-13.6 11.4-6 7.1-3.6 5.5-8.4 15.1-12 17.8-1.4 3.1-1.6 6 0.1 6 0.9 3 1.8 3 6.2 5.7 12 7.5 1.8 1.8 1.9 3 0.7 3-0.2 3-2.5 6-4.6 6-3.1 2.8-6 3.2-57 3.6-27 0.6-15-1-27-0.4-18 0.9-39-2.6-15-0.3-30-4.1-24-7.1-27.3-10.6-17.7-8.3-34.9-18.7-17.7-12-17.5-15-10.6-12-4.1-6-3.1-6-0.7-3 0.6-3 4-2.3 6-2.4 3-2 3-4.7 4.2-9.6 4.7-6 3.1-3 8.1-6 5-3 13.1-6 12.8-4.2 18-3.3 39-4.3z"/>
<path fill="#ffea00" d="M260.8 273l39.2-1.5 30 0 93 5.4 36 3.7 24 5.5 6 2.3 10.2 5.6 3.6 3 2.4 3 1.4 3 1 6-0.6 9-2.4 9-4.3 9-24.8 36-4.5 5.4-6 6-6 4.2-12 6.9-6 1.2-12-1.7-12 0.5-18-2.8-12 0.9-15-0.8-15 1.8-15-0.2-15 0.9-12-1.4-18 0.3-15-2.5-12-2.9-24-8.9-27-12.1-12.6-6.8-12.1-9-12.8-12-4.5-6.7-2.6-8.3-0.6-6 0.2-6 1-6 2-6 3.5-6 2.5-3 6.9-6 4.8-3 6.3-2.6 6-1.1 21-2.7z"/>
<path fill="#ffc800" d="M287.5 285l15.5-1.2 24-1 60 1.6 36 2.8 21.7 3.8 8.3 2.4 6 2.6 6.1 4 3 3 3.5 6 1.5 6 0.2 6-0.9 6-2 6-2.9 6-8.1 15-4.1 6-5.3 5.1-6 3.9-6.3 3-5.7 1.9-12 2.1-15 1.3-57 1.1-30-0.8-12-1.3-9-1.7-12-3.2-12-5.1-39-21-5.1-3.3-3.9-3.5-3.9-5.5-2.9-6-2.3-9-0.2-6 0.5-3 2.7-6 2.8-3 4.1-3 5.7-3 8.5-3 15-3.3z"/>
<path fill="#ffa700" d="M315 294l21-1.1 33 0.2 24 1.7 18 3 8.4 2.2 7.9 3 5 3 2.7 2.6 2.3 3.4 1.1 3 0.5 3-0.6 6-3.6 9-6.1 12-3.8 6-2.9 3-4.2 3-6.1 3-8.2 3-7.4 1.2-24 1.4-27 0.1-18-1.7-12-1.8-9-3.1-10.7-5.1-9.5-6-7.6-6-6.3-6-7.7-9-3.5-6-0.9-3-0.1-3 1-3 2.7-3 5.1-3 7.5-3 21.3-6z"/>
<path fill="#ff8600" d="M320.3 306l24.7-2.6 21-0.1 9 0.8 15 3.7 3.6 1.2 5.4 2.9 2.7 3.1 1.1 3 0.1 3-2.2 6-7 9-6.3 6-5.3 3-9.6 3-9.5 1.2-9 0-11.2-1.2-9.8-2.5-9-4.3-15.3-11.2-2.9-3-1.7-3-0.9-3 0.2-3 1.1-3 2.3-3 5.2-3.7z"/>
<use href="#coast" class="cl"/>
</g><rect width="1371" height="675" fill="none" stroke="#000" stroke-width="3.33"/></g>
<rect x="58.20" y="1816.5" width="49.56" height="68.0" fill="#000092"/>
<rect x="107.16" y="1816.5" width="49.56" height="68.0" fill="#0000bb"/>
<rect x="156.13" y="1816.5" width="49.56" height="68.0" fill="#0000e3"/>
<rect x="205.09" y="1816.5" width="49.56" height="68.0" fill="#0000ff"/>
<rect x="254.06" y="1816.5" width="49.56" height="68.0" fill="#0024ff"/>
<rect x="303.02" y="1816.5" width="49.56" height="68.0" fill="#0048ff"/>
<rect x="351.99" y="1816.5" width="49.56" height="68.0" fill="#006cff"/>
<rect x="400.95" y="1816.5" width="49.56" height="68.0" fill="#0090ff"/>
<rect x="449.91" y="1816.5" width="49.56" height="68.0" fill="#00b4ff"/>
<rect x="498.88" y="1816.5" width="49.56" height="68.0" fill="#00d8ff"/>
<rect x="547.84" y="1816.5" width="49.56" height="68.0" fill="#16ffe1"/>
<rect x="596.81" y="1816.5" width="49.56" height="68.0" fill="#33ffc4"/>
<rect x="645.77" y="1816.5" width="49.56" height="68.0" fill="#50ffa7"/>
<rect x="694.74" y="1816.5" width="49.56" height="68.0" fill="#6dff8a"/>
<rect x="743.70" y="1816.5" width="49.56" height="68.0" fill="#8aff6d"/>
<rect x="792.66" y="1816.5" width="49.56" height="68.0" fill="#a7ff50"/>
<rect x="841.63" y="1816.5" width="49.56" height="68.0" fill="#c4ff33"/>
<rect x="890.59" y="1816.5" width="49.56" height="68.0" fill="#e4ff13"/>
<rect x="939.56" y="1816.5" width="49.56" height="68.0" fill="#ffea00"/>
<rect x="988.52" y="1816.5" width="49.56" height="68.0" fill="#ffc800"/>
<rect x="1037.49" y="1816.5" width="49.56" height="68.0" fill="#ffa700"/>
<rect x="1086.45" y="1816.5" width="49.56" height="68.0" fill="#ff8600"/>
<rect x="1135.41" y="1816.5" width="49.56" height="68.0" fill="#ff6400"/>
<rect x="1184.38" y="1816.5" width="49.56" height="68.0" fill="#ff4300"/>
<rect x="1233.34" y="1816.5" width="49.56" height="68.0" fill="#ff1e00"/>
<rect x="1282.31" y="1816.5" width="49.56" height="68.0" fill="#e40000"/>
<rect x="1331.27" y="1816.5" width="49.56" height="68.0" fill="#bb0000"/>
<rect x="1380.24" y="1816.5" width="49.56" height="68.0" fill="#920000"/>
<rect x="58.5" y="1816.5" width="1371.0" height="68.0" fill="none" stroke="#000" stroke-width="3.33"/>
<path d="M58.50 1884.5v14.6M205.39 1884.5v14.6M352.29 1884.5v14.6M499.18 1884.5v14.6M646.07 1884.5v14.6M792.96 1884.5v14.6M939.86 1884.5v14.6M1086.75 1884.5v14.6M1233.64 1884.5v14.6M1380.54 1884.5v14.6" stroke="#000" stroke-width="3.33" fill="none"/>
<text x="58.50" y="1945.5" class="tk">0</text>
<text x="205.39" y="1945.5" class="tk">15</text>
<text x="352.29" y="1945.5" class="tk">30</text>
<text x="499.18" y="1945.5" class="tk">45</text>
<text x="646.07" y="1945.5" class="tk">60</text>
<text x="792.96" y="1945.5" class="tk">75</text>
<text x="939.86" y="1945.5" class="tk">90</text>
<text x="1086.75" y="1945.5" class="tk">105</text>
<text x="1233.64" y="1945.5" class="tk">120</text>
<text x="1380.54" y="1945.5" class="tk">135</text>
<text x="744" y="2058.0" class="tt" xml:space="preserve">Plasmasphere (h=1500.0 km), 2000-04-19 20:00 UT</text>
<g transform="translate(58.5,2083.5)"><g clip-path="url(#cp)" shape-rendering="geometricPrecision">
<rect width="1371" height="675" fill="#00009f"/>
<path fill="#0000df" d="M0 0l1371 0 0 675-267.9 0-29.1-8.1-21-3.9-25.5-3-41.8-3-28.7-1.1-141 0.1-63-2.9-18 1.1-9 1.8-9 2.7-12 6-13.3 10.3-691.7 0 0-521.5 2.4 8.5 1.5 3 2.1 2.3 3 1.9 6 2.3 12 1.4 39-0.3 15 1.5 9 2.2 24 7.5 60 15.7 20.5 4.5 27.5 5 9 0.6 9-0.6 11.1-2 21.9-5.9 12-2.6 15-1.6 18-0.3 12 0.6 12 1.6 36 8.8 42 4.6 18 1 42 0 57-1.7 15-2.2 12-3.9 8.7-4.4 9.3-6 15.8-12 14-12 5.5-6 2-3 2.6-6 0.9-6-0.8-6-2.4-6-4.1-6-6.3-6-6.2-4.3-9-4.7-9-3.6-12-3.4-12-1.8-15-0.3-12 1.1-21 3.6-45 4.9-12 0.4-9-0.9-48-8.2-12-4.5-42-18.7-12-4.1-12-3-21-3.1-18-1.1-39-1.2-9-0.9-9-1.8-12.1-4.4-23.9-12.3-9-4.1-12-3.5-12-1.6-12-0.6-12 0.3-9 0.7-9 1.4-12 3.7-27 12.1-9 3.2-9 1.9-21 2.1-9 2.3-9 4.2-6 4.4-6 6.5-6 10.3zM1335 647.3l-3.1 3.7-0.7 3 0.4 3 1.7 3 1.7 1.7 3 1.5 3 0.2 3-1 2.9-2.4 1.5-3 0.4-3-0.7-3-2.1-3-2-1.4-3-0.9-3 0.3zM63 530.9l-15 2.7-9 2.9-6.4 3.5-3.4 3-2.3 3-1.2 3-0.4 3 0.4 3 3.1 6 6.2 6 10 6.1 12 4.3 12 2.3 18 1.4 15-0.6 12-2 9-3.1 4.6-2.4 4-3 2.8-3 1.6-3 0.7-3-0.3-3-1-3-4.3-6-7.1-6-10.6-6-11.4-4.2-12-2.4-12-0.6z"/>
<path fill="#000cff" d="M628.4 0l446.2 0-9.1 18-6 9-4.6 6-7.9 8.6-6 5.5-6 4.8-6 3.9-12 4.8-36 11-39 7.1-24 5.9-15 5.3-10.6 6.1-4.4 3.9-4.3 5.1-3 6-0.6 6 1 3 2.3 3 4.6 3 9 2.9 6 1 15 0.6 54-3.9 27-3 30-1.7 24-3.4 12-1.1 42-1.8 36-0.9 18.2-3.7 32.8-10.6 12-3.3 18-3.4 15-1.7 12-0.2 12 1.1 33 7.5 9 1.3 9-0.6 18-6.3 9-1.7 6 0.6 3 1.1 6 4 4.9 6.2 2.7 6 0.5 6-1 12 0.5 9 3.1 12 4.3 9.9 0 312.6-12 2.8-14.6 4.7-14.5 6-11.7 6-8.6 6-5.4 6-2.9 6-0.9 6 1 6 2.7 6 4.3 6 5.6 5.3 9 5 24 6.9 9 3.9 9 6.3 3 3.3 3 4.8 0 69.8-2.5-3.3-6.3-6-9.2-6.1-3-1.3-6-1.5-3-0.1-6 0.7-9 3.5-12.5 7.8-7.8 6-12.7 12.6-3 1.9-3 0.6-6-1.2-21-9.6-9-3.6-18-5-27-4.6-33-2.3-30-4.1-54-1.2-36 3.8-42 0.8-15-0.6-27-3.1-21 0.2-12-0.4-21.7-2.2-32.3-1.5-24-3.3-33-3.2-21-3.9-30-8.1-15-2.7-54-4.2-24-0.4-54 3.3-51 5.6-17.8 3.4-33.2 9-9 2.9-5.7 3.1-7.7 6-19.6 16.9-9 6.1-9 4.9-9 3.9-12 4.1-34.9 9.1-9.1 3-400 0 0-82.3 9 6.8 9 4.9 9 3.1 9 1.6 21 1.6 21 2.6 9 0.4 9-0.5 18-2.2 21-1.4 12-2 12-3.4 15-5.6 12-5.9 11.3-7.7 6.6-6 4.6-6 1.4-3 0.7-3-0.3-3-1.1-3-2-3-5.8-6-7.5-6-14.6-9-41.3-20.6-15-6.1-24-7.8-15-3.8-21-4.2-9.2-2.5-11.8-4.4-30-12.8-12-3.2 0-282.8 9 4 12 2.6 9 0.8 24 0.6 15 2 15 4.2 48 17.4 18 5.2 18 3.7 27 4 36 7.4 36 4.3 12 2 12 3.1 35.9 10.9 15.1 3.1 12-0.2 20.2-2.9 16.9-3 31.9-7.3 21-3.5 21-2.6 66-6.4 18-2.9 15-3.7 9-3.3 6-2.9 39-22.9 35.5-16.5 16.4-9 44.1-30.4 29.3-17.6 3.6-3 2.5-3 2.6-6 0.3-3-1.2-6-3.4-6-2.5-3-4.2-3.9-6-4.4-12-6.6-15-6.6-18-6.6-12-2.9-24-3.6-12-2.4-9-3.1-3.5-1.9-2.5-2.2-2.6-3.8-1.3-3-1.4-6-0.3-6 1.1-9zM855 506.6l-21 4-24 7.8-18 2.7-6 1.9-3.5 2-3.4 3-4 6-1.2 3-0.7 6 0.5 3 1.2 3 2.1 2.7 3 1.9 6 1.3 24-2.3 12-2.2 9-2.8 24-9.2 24.7-7.4 5.3-2.8 3.9-3.2 2.5-3 1.5-3 0.5-3-0.6-3-2.2-3-5.6-3.3-6-1.4-6-0.4zM1370.1 666l0.9-1.7 0 10.7-6.6 0zM1298 675l1-0.5 3-0.1 2.1 0.6z"/>
<path fill="#0044ff" d="M1050.3 153l26.7-2 27-0.6 48 2.5 45 1.6 36-3.1 18 0.3 15 2.1 18 4.4 27.6 9.8 17.4 4.1 6 2 6 2.8 6 4 6 5.5 12 13.1 6 5.3 0 215.5-24 10.7-21 7.6-27 7.9-36.5 9.5-35.5 12.6-9 2.2-12 2-24 1.9-42-0.5-57 2.1-51 3.8-33 3.8-30 1.1-27 3.3-12-0.1-27-2.8-15-0.7-18 1-18 3.1-18 4.4-30 8.9-21 4-12.9 3.9-8.1 3.8-8.8 5.2-21.2 16.6-9 6.2-12 6-12 4-24 5.2-39 5.9-39 2.8-51 6.5-48 10.3-19 5.5-41 14.6-15 5.8-24 10.6-27 8.7-36 13.3-12 3.5-9 1.9-9 1.3-9 0.5-9-0.4-9-1.3-15.2-4.5-7-3-10.7-6-3.4-3-1.8-3 0-3 1.9-3 3.7-3 41.5-26.6 6-4.9 4-4.5 2-3 2.7-6 1-6-0.1-3-1.6-6-1.6-3-2.5-3-3.5-3-5.1-3-7.4-3-50.9-14.2-15-5.1-42-17.4-30-15.3-45-18.9-18-9.7-13-9.4-9.8-9-22.2-23.6-9-7.2-6-2.8-6-1-6 0.4-9 2.4 0-197.6 12 3.8 12 2.7 9 0.8 18 0.3 6 1 3.7 1.8 3.3 3 2.2 3 1.3 3 0.6 3-0.2 3-0.9 3-1.7 3-5.3 5.3-12 9.1-6 5.5-6 7.1-3.9 6-4.7 9-5.2 12-3 9-1.3 6-0.6 9 0.7 6 2.6 9 3.4 6.5 4.7 5.5 4.3 3 6 1.9 6 0.1 9-2.1 12-5.5 12-7.8 9.1-7.6 5.9-6.6 6-9.3 20.5-44.1 3.5-6 5.7-6 4.5-3 7.8-3.5 9-2.3 9-1.3 12-0.5 9 0.3 12 1.4 12 2.3 51 11.5 36.8 10.1 44.2 8.1 9 0.6 9-0.7 42-5.2 30-7.1 15-3 36-5.3 39-4.6 33-6.3 15-4.1 14.5-5.4 12.6-6 29.9-15.8 9-3.7 9-2.8 21-4.5 75-10.5 9-2.1 36-10.5 36-8.1 15-2.4 24-2.9 24-5.2 15-2.3 21-1.7 33-3.9 60-3.6zM798 347.3l-4.9 3.7-1.7 3-0.3 3 1 3 2.9 3.1 6 2.9 6 0.8 3-0.2 6-2.2 2.1-1.4 2.6-3 0.9-3-0.3-3-1.8-3-4-3-5.5-1.9-3-0.4-6 0.5zM990.1 519l8.9-1.2 9-0.2 39 3.9 9 1.6 27 7.3 18 3.8 18 2.6 33 2.9 33.1 6.3 11.9 3.1 6 2.6 3 2 4.1 4.3 1.6 3 0.7 3-0.1 3-0.9 3-2 3-3.4 3.1-5.2 2.9-3.8 1.4-12 2.8-32.4 4.8-33.6 1.5-15 1.4-18 2.9-30 6.6-12 2.1-18 1.9-18 0.9-18-0.6-42-3.5-15-2.1-21-4.2-18-4.9-20.7-8-5.6-3-3.7-2.9-1.9-3.1-0.1-3 2.8-3 11.2-4.1 9-4.3 30-19.1 12-6.8 9-4.4 6-2.3 9-2.2 21-1.9z"/>
<path fill="#0080ff" d="M1063.1 177l25.9-1.8 24 0.2 42 4.3 42 5.6 39 1.2 18 1.7 17.7 3.8 15.3 5.2 18 8.4 11.2 7.4 5.9 6 3.7 6 2 6 0.5 9-1.2 6-2.3 6-10.8 19.9-3.2 7.1-1.5 6-0.8 6-0.4 15 1.4 15 2.7 12 2.4 6 11.2 21 2.3 6 1.3 6 0.2 6-1.1 6-2.6 6-2.9 4.1-6 5.6-6 3.5-6 2.7-51 18-36 14.8-12 3.9-9 2.1-12 1.6-15 1-120 4.1-21 2.3-42 6.6-18 2.2-45 3.8-30 0.6-12 1-15 2.5-18 4-45 12.7-30 5.3-15 3.7-18 6.8-24 12.2-12 5.3-15 4.9-15 3.3-18 2.2-18 1-72-0.2-57 4.5-30 1-36-0.3-27-2.4-15-2.5-18-4.8-12-4.4-22.5-9.7-10.5-2.9-9-0.7-33-0.5-15-0.8-39-4.9-9-1.6-6-1.7-15-6.5-48-23.3-36-15-15-8-9-6.8-9-9.3-3.6-5-3.4-6-3.3-9-1.1-6 0.1-9 1.1-6 2.1-6 6.5-12 16.6-22.2 6-9 3.8-7.8 9.5-24 7.6-15 6-9 6.1-6.5 9-6.1 9-3.1 12-1.3 9 0.5 9 1.3 30 6.7 24 4.6 33 8 39 6.1 18 1.5 21-1.2 36-4.2 39-7.4 42-6.1 30-3.4 15-2.7 27-6.1 18-5.2 18-7.2 36-16.7 9-3.3 9-2.5 9-1.7 12-1.4 24-1.1 24-2 24-0.9 9-1 33-10.2 45-12.9 66-14.4 18-2.1 30-1.7 54 1.1 21-0.3 18-1.3zM1122 305.9l-27 2.8-9 1.9-6 2.1-3.9 2.3-2.1 2.1-2.1 3.9-0.3 3 1.5 6 4.2 6 3.5 3 6.2 3 38 8.5 12 1.6 6 0 6-0.8 10.1-3.3 5.3-3 3.9-3 2.8-3 1.9-3 1.2-3 0.3-3-0.5-3-1.2-3-4.6-6-7.2-5.2-8.8-3.8-9.2-2.1-9-1zM795 329.5l-12 3.2-9 4.3-6.6 5-2.7 3-2.7 4.6-1.5 4.4-0.8 6 1.2 9 1.1 3 3 4.5 3 2.7 3 1.7 9 2.4 9 0.8 24 0.5 9-0.6 6-1 9-2.7 10.6-5.3 7.3-6 4.2-6 1.8-6-0.5-6-2.9-6-2.7-3-4.5-3-13.3-5.1-15-3.6-15-1.6zM972.4 546l11.6-0.9 30 0.4 9 0.6 9 1.9 6 2.5 6.5 4.5 2.5 3 1.5 3 0.4 3-0.5 3-1.6 3-2.7 3-4.1 3-5 2.4-9 2.6-12 1.4-27 0.5-15-0.9-12.2-3-6.3-3-4.2-3-2.7-3-1.4-3-0.1-3 0.9-3 2-3 6-5.2 6-3.3 6-2.1z"/>
<path fill="#00b8ff" d="M901.6 198l19.4-0.8 18 1.1 17.9 2.7 39.1 7.7 12 1.5 9 0.4 12-0.3 12-1.2 33-7 12-1.7 15-0.8 21 0.8 15 1.5 12 2 30 7.8 15 3.3 18 2.7 33 3.9 9 2.3 6 3 5.1 4.1 4.7 6 2.7 6 1.3 6 0.3 9-1 9-1.3 6-2.8 8.3-3 5.8-3 4.1-3 2.9-6 3.9-3 1.1-6 1.2-6-0.2-9-2.4-30-14.1-9-3.3-12-3.1-18-2.1-54-2.3-15-1.2-12-2.3-24-7.4-9-1.7-9 0.4-6 2-6 4.2-3 3.3-3 4.8-3 8.8-1.2 10.3 0.4 15 1.8 12 2.4 9 3.9 9 6.5 9 7.2 7 6 4.3 6 3.3 12 4.3 51 8.6 12 1.4 21 1.1 21 1.7 30 0 9 1.7 4.4 2.6 2.4 3 0.8 3-0.3 3-1.1 3-1.9 3-4.3 4.3-6 3.8-6 2.7-12.7 4.2-11.3 3-13.8 3-13.2 1.9-48 3.3-12 0.1-27-0.9-12 0.6-15 2.6-36 9.6-18 3.2-9 0.8-30 1-21 1.8-21 0.1-9 1.2-9 2.5-18 6.7-18 5.6-30 10.4-15 3.2-24 2.4-15 2.6-18 5.8-27 11.5-12 4.4-15 4.2-15 2.4-12 0.9-12 0-39-1.7-33-2.4-39 0.5-42-1.3-33-1.7-33 1.6-18-0.4-12-1.2-12-1.9-42-9.6-48-5.1-24-3.8-21-4.8-18-6.1-33-12.6-50.6-22.4-12.4-7.7-8.2-7.3-6.7-9-3.7-9-0.9-9 0.9-6 1.8-6 29.6-66 7.3-12 6.9-8 6-4.8 4.2-2.2 4.8-1.6 12-1.1 15 1.2 42 6.5 45 8.6 24 3.4 15 1.5 12 0.5 12-0.3 39-4 48-7.4 69-9 12-2 33-7.5 15-4.1 15.5-5.7 38.5-16.1 12-4 9-2.4 12-2.1 12-1.2 63-2.3 15-1.5 12-2.7 39-10.5 24-7.7 18-5 39-9.7zM792 317.7l-15 2.6-12 4.4-6 3.4-6 4.7-3 3.2-3 4.7-2.4 7.3-1.4 9-0.5 12 0.6 12 1 6 2.2 6 3.5 4.5 3 2.4 3.8 2.1 5.2 1.8 9 0.9 30-3.2 27 1.5 18-0.9 18-3.3 12-3.6 9.6-5.2 5.4-4.9 3.1-4.1 3-6 1.7-6 0.2-9-1.3-6-2.9-6-4.8-6-7-6-4.4-3-8.6-4.7-9-3.7-18-4.4-15-2.1-12-0.9-12-0.2z"/>
<path fill="#09f0ee" d="M895 213l14-1.3 12 0.6 12 2.3 13.8 4.4 13.3 6 14.2 9 6.7 6.3 3 4 2.6 4.7 2.6 9 0.7 6 0.1 9-0.9 12-4.6 33-0.4 9 0.5 9 1.5 9 1.7 6 3.8 9 7.4 15 2.1 6 1.1 6-0.6 6-2.6 6-3 3.7-6 4.4-3 1.3-6 1.2-6 0.1-6-1-8.7-3.7-3.8-3-2.5-2.9-3.2-6.1-1.6-6-2.4-24-1.2-6-2-6-3-6-4.4-6-6.1-6-6.1-4.4-9-4.5-8.9-3.1-33.1-8.2-27-5-12-1.4-12-0.6-30 0.3-15 1-12 2.8-6 2.5-6 3.5-6 4.8-3.2 3.3-4.4 6-3.1 6-3.2 12-2.2 18-0.3 21 1.1 9 1.5 6 3.8 9 4 6.9 9 10.8 9 7.7 6 3.6 3 0.3 3-1 7.9-4.3 10.1-3.9 9-1.6 6 0.4 6 2 3.5 3.1 1.1 3-0.4 3-1.4 3-2.5 3-3.7 3-5.6 2.6-3 0.6-9-0.9-7.9-2.3-10.1-4.6-3-0.8-3 0.3-28 17.1-16.2 9-12.1 6-9.7 4-9 3-18 3.8-15 1.3-18-0.1-65.7-3-45.3-0.9-66-4.2-12 0.2-33 2.1-18 0-21-2.1-63-11-18-3.7-39-9.8-27.2-9.6-23.8-7.6-18-7.3-18-9.1-13.2-9-4.8-4.6-3.6-4.4-3.5-6-2-6-1-6 0-6 1.9-12 5.4-18 7.5-18 7.2-12 6.1-7.2 3-2.6 6-4.1 9-3.4 6-1.2 9-0.7 21 0.9 21 2.4 57 8.7 30 2.8 12 0.1 15-0.8 48-5.3 99-13.3 30-5.8 36-8.7 57-21 12-3.6 12-2.6 21-2.3 57-0.7 12-0.7 12-1.7 15-3.6 33-9.3 30.4-9.3 35.6-9.7 12-2.9z"/>
<path fill="#36ffc1" d="M880.3 231l16.7-2.2 9-0.3 6 0.5 9 2.5 5.2 2.5 6.8 4.3 5.6 4.7 5.5 6 4 6 2.6 6 1.5 6 0.1 6-1.3 5.1-2.1 3.9-2.7 3-3.9 3-9.3 3.9-15 3-21 2.7-12 0.4-12-0.5-33-4.4-9-0.7-33 0.8-21-3.1-6-0.4-6 0.7-3 0.9-9 4.8-9 7.7-6 7.2-3 4.6-6 12.3-4.3 14.1-2.7 15-1.9 18-0.2 21 1.9 30-0.9 9-1.9 6-3.5 6-2.5 3-5 4.8-5.6 4.2-12.4 6.5-15 4.5-9 1.4-12 1-27 0-93-2.6-18-1.3-36-4-15-1.1-15 0.2-33 3.5-18 0.8-18-0.8-21-2.8-36-6.8-18-4.3-48-14-46.1-16.2-18.4-9-13.2-9-3.3-3-5.2-6-3.4-6-1.9-6-1.1-9 1-12 3.1-12 2.4-6 3.2-6 7.1-9 6.8-5.4 9-4.5 9-2.6 15-1.6 15 0.4 75 8.8 15 1.1 15 0.2 21-1.3 51-5.3 63-8 42-6.5 45-10.2 18-5.1 54-18 12-3.2 12-2.2 15-1.4 15-0.2 60 4.4 12-0.4 9-2.7 18-7.9 9.7-3.4 23.3-6.9 34.1-11.1z"/>
<path fill="#63ff94" d="M869.3 252l6.7-0.8 6 0.4 6 1.6 3.5 1.8 2.9 3 1.2 3 0 3-0.9 3-1.9 3-3.1 3-4.7 3-6 2.1-6 1-6-0.3-6-1.4-3.5-1.4-4.7-3-2.5-3-0.8-3 0.8-3 2-3 3.3-3 4.9-3zM655.5 279l13.5-1.7 12-0.2 12 1.1 12 2.7 9 3.7 4.9 3.4 2.5 3 1.5 3 0.9 6-1.4 12-9.8 45-2.3 18-2.7 33-1.5 9-2.6 9-4.6 9-4.8 6-4.1 3.7-9 5.5-6 2.2-9 2.2-18 2-36 0.9-21 0-42-1.1-27-2-45-6.3-18-1.3-12 0.7-33 5-18 1.6-18-0.3-21-2.5-27-5.4-18-4.8-53.5-18.1-21.5-7.8-12-5-14.7-8.2-6.3-4.8-4.4-4.2-6.5-9-3.1-9-0.6-6 1-9 2-6 3.3-6 5.2-6 6.1-4.6 6-3.1 9-2.9 9-1.2 9 0 72 5.6 24 0.7 21-1.2 78-7.2 51-6.6 39-7.4 48-11.8 63-18.8z"/>
<path fill="#94ff63" d="M654.6 291l11.4-1.3 12 0.1 9 1.4 9 3.3 3.9 2.5 3.2 3 3.8 6 1.7 6 0.6 9-1.3 12-6.1 30-4.5 33-2.3 9-2.2 6-5.8 10.3-4 4.7-5 4.4-9 5.1-6 2.2-9 2.1-15 1.9-36 2.2-18 0.2-30-0.9-27-2.4-15-2.3-36-7-9-1-9-0.4-15 1.3-33 6.7-18 2.5-18 0.3-18-1.7-21-4.3-19.5-5.9-29.2-12-39.2-18-11.1-6-7.7-6-4.7-6-2.6-6-0.6-3 0.2-6 1-3 1.5-3 2.4-3 4.5-3.5 6-2.5 3-0.7 12-1.5 17.9-0.8 45.1-0.1 24-0.9 57-4.6 36-1.6 45-5.7 18-3.2 27-6.4 108-29z"/>
<path fill="#c1ff36" d="M641.6 306l12.4-2.1 12-0.9 9 0.6 8.8 2.4 6.2 3.8 4.4 5.2 2.5 6 0.8 6-0.6 6-5.6 24-5.2 30-1.5 6-2.6 6-6.2 9-7 6.5-9.6 5.5-8.4 3-6 1.5-21 3.5-24 2.3-21 0.6-21-0.9-15-1.7-15-2.6-18-4.4-33-9.9-9-1.8-9-0.8-9 0.6-9 1.8-33 10.9-15 3.7-15 1.8-9 0-9-0.7-12-2-12-3.2-12-4.7-11.5-6-9.3-6-11.6-9-5.4-6-3-6-0.3-3 0.7-3 2-3 3.6-3 5.8-3 5-1.8 16.1-4.2 25.9-4.3 27-2.6 24-0.5 42 2 12-0.7 15-2.1 12-2.4 15-3.9 78-24.5 48.2-12z"/>
<path fill="#eeff09" d="M639.4 321l17.6-1.1 6 0.4 6 1.1 5.8 2.6 3.2 3 1.3 3 0.3 3-1.6 15-3 17.2-3 11.9-2.7 6.9-3.6 6-5.5 6-6.2 4.5-6 3.1-9 3.5-9 2.6-24 4.9-21 2.1-12 0-9-0.7-12-1.8-9-2.1-12-3.7-8.6-3.4-9.4-4.9-6-4.1-3.2-3-4.4-6-1.6-6 0.3-3 1.1-3 4.2-6 3.2-3 8.1-6 16.3-9 20.3-9 21.7-7.7 45-9.7zM355.5 372l10.5-0.8 9 0.2 9 1.2 9 2.4 6.4 3 4.1 3 2.5 3 1.2 3 0.1 3-0.9 3-1.7 3-2.5 3-3.5 3-8.7 5-9 3.2-9 1.6-9 0.1-9-1.1-9.5-2.8-6.2-3-4.3-3-3.1-3-2.1-3-1.4-3-0.5-3 0.4-3 1.4-3 2.6-3 4.2-3 6.8-3z"/>
<path fill="#ffcc00" d="M600.8 345l17.2-1.8 9-0.3 9 1.2 6 2.3 2.3 1.6 2.5 3 1.3 3 0.6 3-0.7 7.2-3.5 7.8-2.5 3.3-6 5.4-10.7 6.3-16.3 6.8-9 2.6-9 1.8-12 1-6-0.2-6-1.1-6.1-1.9-6.1-3-4.3-3-3-3-2-3-1.1-3-0.3-3 0.4-3 3-6 5.6-6 8.4-6 12.4-6 11.1-3.3z"/>
<use href="#coast" class="cl"/>
</g><rect width="1371" height="675" fill="none" stroke="#000" stroke-width="3.33"/></g>
<rect x="58.20" y="2801.5" width="76.77" height="68.0" fill="#00009f"/>
<rect x="134.37" y="2801.5" width="76.77" height="68.0" fill="#0000df"/>
<rect x="210.53" y="2801.5" width="76.77" height="68.0" fill="#000cff"/>
<rect x="286.70" y="2801.5" width="76.77" height="68.0" fill="#0044ff"/>
<rect x="362.87" y="2801.5" width="76.77" height="68.0" fill="#0080ff"/>
<rect x="439.03" y="2801.5" width="76.77" height="68.0" fill="#00b8ff"/>
<rect x="515.20" y="2801.5" width="76.77" height="68.0" fill="#09f0ee"/>
<rect x="591.37" y="2801.5" width="76.77" height="68.0" fill="#36ffc1"/>
<rect x="667.53" y="2801.5" width="76.77" height="68.0" fill="#63ff94"/>
<rect x="743.70" y="2801.5" width="76.77" height="68.0" fill="#94ff63"/>
<rect x="819.87" y="2801.5" width="76.77" height="68.0" fill="#c1ff36"/>
<rect x="896.03" y="2801.5" width="76.77" height="68.0" fill="#eeff09"/>
<rect x="972.20" y="2801.5" width="76.77" height="68.0" fill="#ffcc00"/>
<rect x="1048.37" y="2801.5" width="76.77" height="68.0" fill="#ff9400"/>
<rect x="1124.53" y="2801.5" width="76.77" height="68.0" fill="#ff6000"/>
<rect x="1200.70" y="2801.5" width="76.77" height="68.0" fill="#ff2d00"/>
<rect x="1276.87" y="2801.5" width="76.77" height="68.0" fill="#df0000"/>
<rect x="1353.03" y="2801.5" width="76.77" height="68.0" fill="#9f0000"/>
<rect x="58.5" y="2801.5" width="1371.0" height="68.0" fill="none" stroke="#000" stroke-width="3.33"/>
<path d="M58.50 2869.5v14.6M210.83 2869.5v14.6M363.17 2869.5v14.6M515.50 2869.5v14.6M667.83 2869.5v14.6M820.17 2869.5v14.6M972.50 2869.5v14.6M1124.83 2869.5v14.6M1277.17 2869.5v14.6M1429.50 2869.5v14.6" stroke="#000" stroke-width="3.33" fill="none"/>
<text x="58.50" y="2930.5" class="tk">0</text>
<text x="210.83" y="2930.5" class="tk">5</text>
<text x="363.17" y="2930.5" class="tk">10</text>
<text x="515.50" y="2930.5" class="tk">15</text>
<text x="667.83" y="2930.5" class="tk">20</text>
<text x="820.17" y="2930.5" class="tk">25</text>
<text x="972.50" y="2930.5" class="tk">30</text>
<text x="1124.83" y="2930.5" class="tk">35</text>
<text x="1277.17" y="2930.5" class="tk">40</text>
<text x="1429.50" y="2930.5" class="tk">45</text>
</svg>
</body></html>
